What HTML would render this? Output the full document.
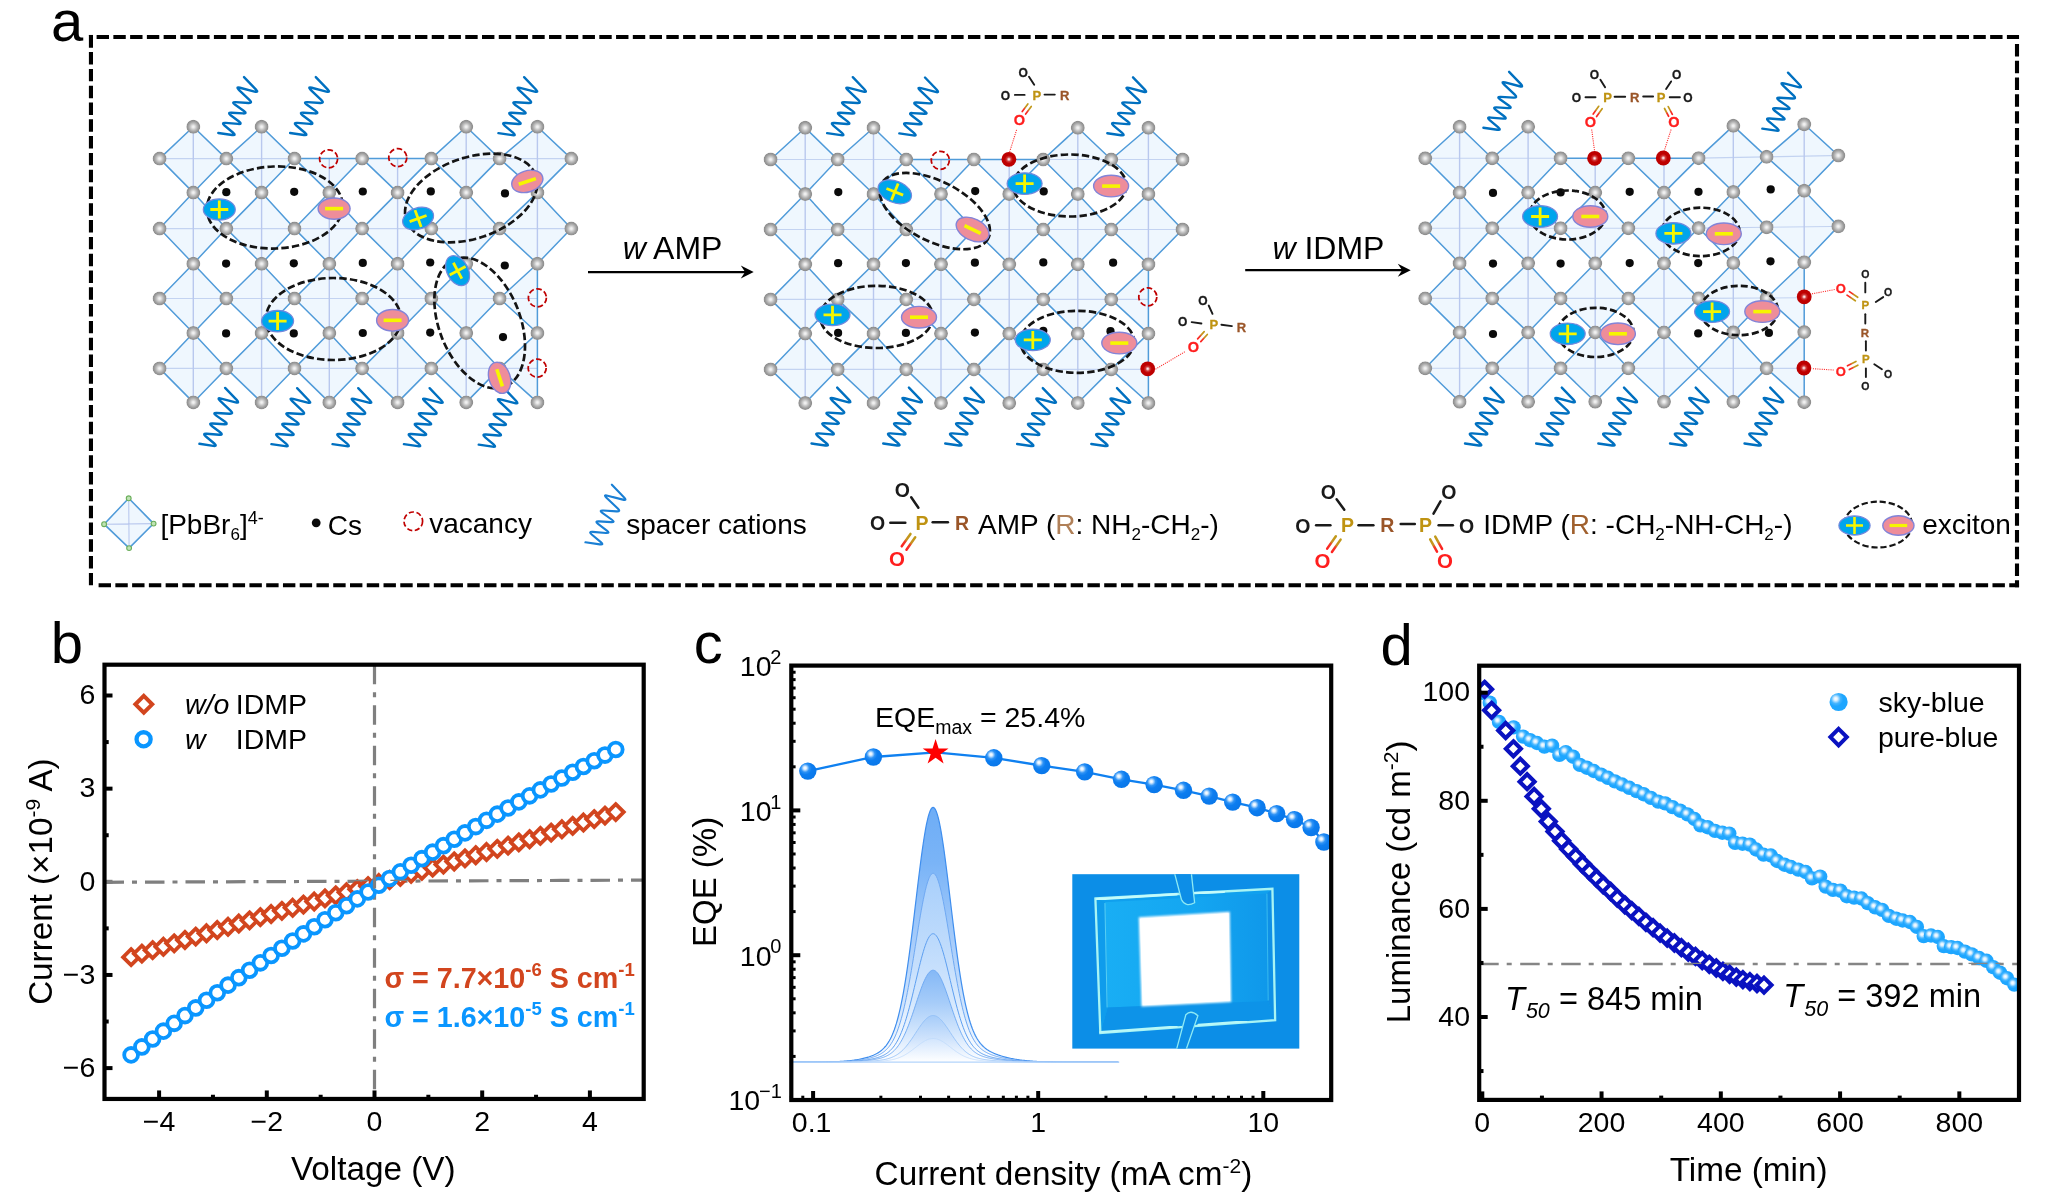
<!DOCTYPE html>
<html><head><meta charset="utf-8"><title>Figure</title>
<style>
html,body{margin:0;padding:0;background:#fff;}
body{width:2048px;height:1202px;overflow:hidden;font-family:"Liberation Sans",sans-serif;}
svg{display:block;}
svg text{font-family:"Liberation Sans",sans-serif;}
</style></head><body>
<svg width="2048" height="1202" viewBox="0 0 2048 1202">
<rect width="2048" height="1202" fill="#fff"/>
<g style="will-change:transform">
<g id="panel_a"><defs>
<radialGradient id="gball" cx="0.5" cy="0.5" r="0.5" fx="0.5" fy="0.5">
<stop offset="0" stop-color="#f3f3f3"/><stop offset="0.15" stop-color="#ececec"/><stop offset="0.45" stop-color="#c2c2c2"/><stop offset="0.75" stop-color="#9d9d9d"/><stop offset="0.92" stop-color="#8e8e8e"/><stop offset="1" stop-color="#989898" stop-opacity="0.5"/></radialGradient>
<radialGradient id="rball" cx="0.5" cy="0.5" r="0.5">
<stop offset="0" stop-color="#ffffff"/><stop offset="0.12" stop-color="#f0c0c0"/><stop offset="0.3" stop-color="#cf3a3a"/><stop offset="0.55" stop-color="#c00000"/><stop offset="1" stop-color="#bb0000"/></radialGradient>
</defs>
<path d="M193.3 126.8L226.3 158.6L193.3 192.6L159.6 158.6ZM193.3 192.6L226.3 228.6L193.3 263.8L159.6 228.6ZM193.3 263.8L226.3 298.5L193.3 333L159.6 298.5ZM193.3 333L226.3 368.4L193.3 402.4L159.6 368.4ZM261.6 126.8L294.5 158.6L261.6 192.6L226.3 158.6ZM261.6 192.6L294.5 228.6L261.6 263.8L226.3 228.6ZM261.6 263.8L294.5 298.5L261.6 333L226.3 298.5ZM261.6 333L294.5 368.4L261.6 402.4L226.3 368.4ZM294.5 158.6L362.1 158.6L329.3 192.6ZM329.3 192.6L362.1 228.6L329.3 263.8L294.5 228.6ZM329.3 263.8L362.1 298.5L329.3 333L294.5 298.5ZM329.3 333L362.1 368.4L329.3 402.4L294.5 368.4ZM362.1 158.6L431.3 158.6L397.6 192.6ZM397.6 192.6L431.3 228.6L397.6 263.8L362.1 228.6ZM397.6 263.8L431.3 298.5L397.6 333L362.1 298.5ZM397.6 333L431.3 368.4L397.6 402.4L362.1 368.4ZM466.2 126.8L499.6 158.6L466.2 192.6L431.3 158.6ZM466.2 192.6L499.6 228.6L466.2 263.8L431.3 228.6ZM466.2 263.8L499.6 298.5L466.2 333L431.3 298.5ZM466.2 333L499.6 368.4L466.2 402.4L431.3 368.4ZM537.4 126.8L571.3 158.6L537.4 192.6L499.6 158.6ZM537.4 192.6L571.3 228.6L537.4 263.8L499.6 228.6ZM537.4 263.8L499.6 298.5L537.4 333ZM537.4 333L499.6 368.4L537.4 402.4Z" fill="#eff7fe"/>
<path d="M159.6 158.6L226.3 158.6M159.6 228.6L226.3 228.6M159.6 298.5L226.3 298.5M159.6 368.4L226.3 368.4M226.3 158.6L294.5 158.6M226.3 228.6L294.5 228.6M226.3 298.5L294.5 298.5M226.3 368.4L294.5 368.4M294.5 228.6L362.1 228.6M294.5 298.5L362.1 298.5M294.5 368.4L362.1 368.4M362.1 228.6L431.3 228.6M362.1 298.5L431.3 298.5M362.1 368.4L431.3 368.4M431.3 158.6L499.6 158.6M431.3 228.6L499.6 228.6M431.3 298.5L499.6 298.5M431.3 368.4L499.6 368.4M499.6 158.6L571.3 158.6M499.6 228.6L571.3 228.6M499.6 298.5L537.4 298.5M499.6 368.4L537.4 368.4" fill="none" stroke="#c3d3f1" stroke-width="1.1"/>
<path d="M193.3 126.8L193.3 192.6M193.3 192.6L193.3 263.8M193.3 263.8L193.3 333M193.3 333L193.3 402.4M261.6 126.8L261.6 192.6M261.6 192.6L261.6 263.8M261.6 263.8L261.6 333M261.6 333L261.6 402.4M329.3 158.6L329.3 192.6M329.3 192.6L329.3 263.8M329.3 263.8L329.3 333M329.3 333L329.3 402.4M397.6 158.6L397.6 192.6M397.6 192.6L397.6 263.8M397.6 263.8L397.6 333M397.6 333L397.6 402.4M466.2 126.8L466.2 192.6M466.2 192.6L466.2 263.8M466.2 263.8L466.2 333M466.2 333L466.2 402.4M537.4 126.8L537.4 192.6M537.4 192.6L537.4 263.8" fill="none" stroke="#b9c8ee" stroke-width="1.4"/>
<path d="M193.3 126.8L226.3 158.6L193.3 192.6L159.6 158.6ZM193.3 192.6L226.3 228.6L193.3 263.8L159.6 228.6ZM193.3 263.8L226.3 298.5L193.3 333L159.6 298.5ZM193.3 333L226.3 368.4L193.3 402.4L159.6 368.4ZM261.6 126.8L294.5 158.6L261.6 192.6L226.3 158.6ZM261.6 192.6L294.5 228.6L261.6 263.8L226.3 228.6ZM261.6 263.8L294.5 298.5L261.6 333L226.3 298.5ZM261.6 333L294.5 368.4L261.6 402.4L226.3 368.4ZM294.5 158.6L329.3 192.6L362.1 158.6M329.3 192.6L362.1 228.6L329.3 263.8L294.5 228.6ZM329.3 263.8L362.1 298.5L329.3 333L294.5 298.5ZM329.3 333L362.1 368.4L329.3 402.4L294.5 368.4ZM362.1 158.6L397.6 192.6L431.3 158.6M397.6 192.6L431.3 228.6L397.6 263.8L362.1 228.6ZM397.6 263.8L431.3 298.5L397.6 333L362.1 298.5ZM397.6 333L431.3 368.4L397.6 402.4L362.1 368.4ZM466.2 126.8L499.6 158.6L466.2 192.6L431.3 158.6ZM466.2 192.6L499.6 228.6L466.2 263.8L431.3 228.6ZM466.2 263.8L499.6 298.5L466.2 333L431.3 298.5ZM466.2 333L499.6 368.4L466.2 402.4L431.3 368.4ZM537.4 126.8L571.3 158.6L537.4 192.6L499.6 158.6ZM537.4 192.6L571.3 228.6L537.4 263.8L499.6 228.6ZM537.4 263.8L499.6 298.5L537.4 333M537.4 333L499.6 368.4L537.4 402.4M294.5 158.6L431.3 158.6M537.4 263.8L537.4 402.4" fill="none" stroke="#509bd9" stroke-width="1.5" stroke-linejoin="round"/>
<path d="M218.3 133L232.15 135.03Q236.7 135.7 233.18 132.74L224.52 125.46Q221 122.5 225.58 122.88L238.12 123.92Q242.7 124.3 239.03 121.52L230.67 115.18Q227 112.4 231.59 112.69L243.11 113.41Q247.7 113.7 243.95 111.03L234.85 104.57Q231.1 101.9 235.69 102.17L248.41 102.93Q253 103.2 249.66 100.03L238.84 89.77Q235.5 86.6 239.95 87.76L254.55 91.54Q259 92.7 255.81 89.38L244 77.1" fill="none" stroke="#0070c0" stroke-width="2.4" stroke-linecap="round" stroke-linejoin="round"/>
<path d="M290.1 133L303.95 135.03Q308.5 135.7 304.98 132.74L296.32 125.46Q292.8 122.5 297.38 122.88L309.92 123.92Q314.5 124.3 310.83 121.52L302.47 115.18Q298.8 112.4 303.39 112.69L314.91 113.41Q319.5 113.7 315.75 111.03L306.65 104.57Q302.9 101.9 307.49 102.17L320.21 102.93Q324.8 103.2 321.46 100.03L310.64 89.77Q307.3 86.6 311.75 87.76L326.35 91.54Q330.8 92.7 327.61 89.38L315.8 77.1" fill="none" stroke="#0070c0" stroke-width="2.4" stroke-linecap="round" stroke-linejoin="round"/>
<path d="M498.4 133.1L512.25 135.13Q516.8 135.8 513.28 132.84L504.62 125.56Q501.1 122.6 505.68 122.98L518.22 124.02Q522.8 124.4 519.13 121.62L510.77 115.28Q507.1 112.5 511.69 112.79L523.21 113.51Q527.8 113.8 524.05 111.13L514.95 104.67Q511.2 102 515.79 102.27L528.51 103.03Q533.1 103.3 529.76 100.13L518.94 89.87Q515.6 86.7 520.05 87.86L534.65 91.64Q539.1 92.8 535.91 89.48L524.1 77.2" fill="none" stroke="#0070c0" stroke-width="2.4" stroke-linecap="round" stroke-linejoin="round"/>
<path d="M199.4 443.8L213.25 445.83Q217.8 446.5 214.28 443.54L205.62 436.26Q202.1 433.3 206.68 433.68L219.22 434.72Q223.8 435.1 220.13 432.32L211.77 425.98Q208.1 423.2 212.69 423.49L224.21 424.21Q228.8 424.5 225.05 421.83L215.95 415.37Q212.2 412.7 216.79 412.97L229.51 413.73Q234.1 414 230.76 410.83L219.94 400.57Q216.6 397.4 221.05 398.56L235.65 402.34Q240.1 403.5 236.91 400.18L225.1 387.9" fill="none" stroke="#0070c0" stroke-width="2.4" stroke-linecap="round" stroke-linejoin="round"/>
<path d="M271.4 444.1L285.25 446.13Q289.8 446.8 286.28 443.84L277.62 436.56Q274.1 433.6 278.68 433.98L291.22 435.02Q295.8 435.4 292.13 432.62L283.77 426.28Q280.1 423.5 284.69 423.79L296.21 424.51Q300.8 424.8 297.05 422.13L287.95 415.67Q284.2 413 288.79 413.27L301.51 414.03Q306.1 414.3 302.76 411.13L291.94 400.87Q288.6 397.7 293.05 398.86L307.65 402.64Q312.1 403.8 308.91 400.48L297.1 388.2" fill="none" stroke="#0070c0" stroke-width="2.4" stroke-linecap="round" stroke-linejoin="round"/>
<path d="M332.5 444.1L346.35 446.13Q350.9 446.8 347.38 443.84L338.72 436.56Q335.2 433.6 339.78 433.98L352.32 435.02Q356.9 435.4 353.23 432.62L344.87 426.28Q341.2 423.5 345.79 423.79L357.31 424.51Q361.9 424.8 358.15 422.13L349.05 415.67Q345.3 413 349.89 413.27L362.61 414.03Q367.2 414.3 363.86 411.13L353.04 400.87Q349.7 397.7 354.15 398.86L368.75 402.64Q373.2 403.8 370.01 400.48L358.2 388.2" fill="none" stroke="#0070c0" stroke-width="2.4" stroke-linecap="round" stroke-linejoin="round"/>
<path d="M403.9 444.1L417.75 446.13Q422.3 446.8 418.78 443.84L410.12 436.56Q406.6 433.6 411.18 433.98L423.72 435.02Q428.3 435.4 424.63 432.62L416.27 426.28Q412.6 423.5 417.19 423.79L428.71 424.51Q433.3 424.8 429.55 422.13L420.45 415.67Q416.7 413 421.29 413.27L434.01 414.03Q438.6 414.3 435.26 411.13L424.44 400.87Q421.1 397.7 425.55 398.86L440.15 402.64Q444.6 403.8 441.41 400.48L429.6 388.2" fill="none" stroke="#0070c0" stroke-width="2.4" stroke-linecap="round" stroke-linejoin="round"/>
<path d="M478.7 444.6L492.55 446.63Q497.1 447.3 493.58 444.34L484.92 437.06Q481.4 434.1 485.98 434.48L498.52 435.52Q503.1 435.9 499.43 433.12L491.07 426.78Q487.4 424 491.99 424.29L503.51 425.01Q508.1 425.3 504.35 422.63L495.25 416.17Q491.5 413.5 496.09 413.77L508.81 414.53Q513.4 414.8 510.06 411.63L499.24 401.37Q495.9 398.2 500.35 399.36L514.95 403.14Q519.4 404.3 516.21 400.98L504.4 388.7" fill="none" stroke="#0070c0" stroke-width="2.4" stroke-linecap="round" stroke-linejoin="round"/>
<circle cx="159.6" cy="158.6" r="7.0" fill="url(#gball)"/>
<circle cx="226.3" cy="158.6" r="7.0" fill="url(#gball)"/>
<circle cx="193.3" cy="126.8" r="7.0" fill="url(#gball)"/>
<circle cx="193.3" cy="192.6" r="7.0" fill="url(#gball)"/>
<circle cx="159.6" cy="228.6" r="7.0" fill="url(#gball)"/>
<circle cx="226.3" cy="228.6" r="7.0" fill="url(#gball)"/>
<circle cx="193.3" cy="263.8" r="7.0" fill="url(#gball)"/>
<circle cx="159.6" cy="298.5" r="7.0" fill="url(#gball)"/>
<circle cx="226.3" cy="298.5" r="7.0" fill="url(#gball)"/>
<circle cx="193.3" cy="333" r="7.0" fill="url(#gball)"/>
<circle cx="159.6" cy="368.4" r="7.0" fill="url(#gball)"/>
<circle cx="226.3" cy="368.4" r="7.0" fill="url(#gball)"/>
<circle cx="193.3" cy="402.4" r="7.0" fill="url(#gball)"/>
<circle cx="294.5" cy="158.6" r="7.0" fill="url(#gball)"/>
<circle cx="261.6" cy="126.8" r="7.0" fill="url(#gball)"/>
<circle cx="261.6" cy="192.6" r="7.0" fill="url(#gball)"/>
<circle cx="294.5" cy="228.6" r="7.0" fill="url(#gball)"/>
<circle cx="261.6" cy="263.8" r="7.0" fill="url(#gball)"/>
<circle cx="294.5" cy="298.5" r="7.0" fill="url(#gball)"/>
<circle cx="261.6" cy="333" r="7.0" fill="url(#gball)"/>
<circle cx="294.5" cy="368.4" r="7.0" fill="url(#gball)"/>
<circle cx="261.6" cy="402.4" r="7.0" fill="url(#gball)"/>
<circle cx="362.1" cy="158.6" r="7.0" fill="url(#gball)"/>
<circle cx="329.3" cy="192.6" r="7.0" fill="url(#gball)"/>
<circle cx="362.1" cy="228.6" r="7.0" fill="url(#gball)"/>
<circle cx="329.3" cy="263.8" r="7.0" fill="url(#gball)"/>
<circle cx="362.1" cy="298.5" r="7.0" fill="url(#gball)"/>
<circle cx="329.3" cy="333" r="7.0" fill="url(#gball)"/>
<circle cx="362.1" cy="368.4" r="7.0" fill="url(#gball)"/>
<circle cx="329.3" cy="402.4" r="7.0" fill="url(#gball)"/>
<circle cx="431.3" cy="158.6" r="7.0" fill="url(#gball)"/>
<circle cx="397.6" cy="192.6" r="7.0" fill="url(#gball)"/>
<circle cx="431.3" cy="228.6" r="7.0" fill="url(#gball)"/>
<circle cx="397.6" cy="263.8" r="7.0" fill="url(#gball)"/>
<circle cx="431.3" cy="298.5" r="7.0" fill="url(#gball)"/>
<circle cx="397.6" cy="333" r="7.0" fill="url(#gball)"/>
<circle cx="431.3" cy="368.4" r="7.0" fill="url(#gball)"/>
<circle cx="397.6" cy="402.4" r="7.0" fill="url(#gball)"/>
<circle cx="499.6" cy="158.6" r="7.0" fill="url(#gball)"/>
<circle cx="466.2" cy="126.8" r="7.0" fill="url(#gball)"/>
<circle cx="466.2" cy="192.6" r="7.0" fill="url(#gball)"/>
<circle cx="499.6" cy="228.6" r="7.0" fill="url(#gball)"/>
<circle cx="466.2" cy="263.8" r="7.0" fill="url(#gball)"/>
<circle cx="499.6" cy="298.5" r="7.0" fill="url(#gball)"/>
<circle cx="466.2" cy="333" r="7.0" fill="url(#gball)"/>
<circle cx="499.6" cy="368.4" r="7.0" fill="url(#gball)"/>
<circle cx="466.2" cy="402.4" r="7.0" fill="url(#gball)"/>
<circle cx="571.3" cy="158.6" r="7.0" fill="url(#gball)"/>
<circle cx="537.4" cy="126.8" r="7.0" fill="url(#gball)"/>
<circle cx="537.4" cy="192.6" r="7.0" fill="url(#gball)"/>
<circle cx="571.3" cy="228.6" r="7.0" fill="url(#gball)"/>
<circle cx="537.4" cy="263.8" r="7.0" fill="url(#gball)"/>
<circle cx="537.4" cy="333" r="7.0" fill="url(#gball)"/>
<circle cx="537.4" cy="402.4" r="7.0" fill="url(#gball)"/>
<circle cx="226.3" cy="192.2" r="4.1" fill="#0a0a0a"/>
<circle cx="294.2" cy="191.8" r="4.1" fill="#0a0a0a"/>
<circle cx="362.8" cy="191.5" r="4.1" fill="#0a0a0a"/>
<circle cx="430.8" cy="191.4" r="4.1" fill="#0a0a0a"/>
<circle cx="505" cy="193.4" r="4.1" fill="#0a0a0a"/>
<circle cx="226.1" cy="263.6" r="4.1" fill="#0a0a0a"/>
<circle cx="293.8" cy="263.3" r="4.1" fill="#0a0a0a"/>
<circle cx="362.8" cy="262.9" r="4.1" fill="#0a0a0a"/>
<circle cx="430.2" cy="262.5" r="4.1" fill="#0a0a0a"/>
<circle cx="504.8" cy="265.5" r="4.1" fill="#0a0a0a"/>
<circle cx="226.1" cy="333.4" r="4.1" fill="#0a0a0a"/>
<circle cx="293.8" cy="333.4" r="4.1" fill="#0a0a0a"/>
<circle cx="362.8" cy="333" r="4.1" fill="#0a0a0a"/>
<circle cx="430.2" cy="332.6" r="4.1" fill="#0a0a0a"/>
<circle cx="503" cy="337.1" r="4.1" fill="#0a0a0a"/>
<circle cx="328.6" cy="158.8" r="9.0" fill="none" stroke="#c00000" stroke-width="1.75" stroke-dasharray="5.6 2.6"/>
<circle cx="397.8" cy="157.6" r="9.0" fill="none" stroke="#c00000" stroke-width="1.75" stroke-dasharray="5.6 2.6"/>
<circle cx="537.4" cy="297.8" r="9.0" fill="none" stroke="#c00000" stroke-width="1.75" stroke-dasharray="5.6 2.6"/>
<circle cx="537.2" cy="368.1" r="9.0" fill="none" stroke="#c00000" stroke-width="1.75" stroke-dasharray="5.6 2.6"/>
<ellipse cx="274.8" cy="207.5" rx="68" ry="41" transform="rotate(-2 274.8 207.5)" fill="none" stroke="#141414" stroke-width="2.7" stroke-dasharray="7.4 3.2"/>
<ellipse cx="471.1" cy="198" rx="68.5" ry="40.5" transform="rotate(-19 471.1 198)" fill="none" stroke="#141414" stroke-width="2.7" stroke-dasharray="7.4 3.2"/>
<ellipse cx="333.4" cy="319" rx="67.5" ry="41" transform="rotate(0 333.4 319)" fill="none" stroke="#141414" stroke-width="2.7" stroke-dasharray="7.4 3.2"/>
<ellipse cx="479.7" cy="323" rx="68.5" ry="40.5" transform="rotate(68.4 479.7 323)" fill="none" stroke="#141414" stroke-width="2.7" stroke-dasharray="7.4 3.2"/>
<g transform="translate(219.3 209.5) rotate(0)"><ellipse rx="16" ry="10.6" fill="#00a5ec" stroke="#7488dc" stroke-width="1.2"/><path d="M-9 0H9M0 -9V9" stroke="#f6f600" stroke-width="2.8"/></g>
<g transform="translate(334.1 208.6) rotate(0)"><ellipse rx="16" ry="10.6" fill="#ee8d9a" stroke="#8384d8" stroke-width="1.4"/><path d="M-9 0H9" stroke="#f6f600" stroke-width="3.6"/></g>
<g transform="translate(418.1 218.6) rotate(-20)"><ellipse rx="16" ry="10.6" fill="#00a5ec" stroke="#7488dc" stroke-width="1.2"/><path d="M-9 0H9M0 -9V9" stroke="#f6f600" stroke-width="2.8"/></g>
<g transform="translate(527.3 181.4) rotate(-18)"><ellipse rx="16" ry="10.6" fill="#ee8d9a" stroke="#8384d8" stroke-width="1.4"/><path d="M-9 0H9" stroke="#f6f600" stroke-width="3.6"/></g>
<g transform="translate(277.6 321.1) rotate(0)"><ellipse rx="16" ry="10.8" fill="#00a5ec" stroke="#7488dc" stroke-width="1.2"/><path d="M-9 0H9M0 -9V9" stroke="#f6f600" stroke-width="2.8"/></g>
<g transform="translate(392.6 320.3) rotate(0)"><ellipse rx="16" ry="10.8" fill="#ee8d9a" stroke="#8384d8" stroke-width="1.4"/><path d="M-9 0H9" stroke="#f6f600" stroke-width="3.6"/></g>
<g transform="translate(457.6 270.7) rotate(62)"><ellipse rx="16" ry="10.6" fill="#00a5ec" stroke="#7488dc" stroke-width="1.2"/><path d="M-9 0H9M0 -9V9" stroke="#f6f600" stroke-width="2.8"/></g>
<g transform="translate(499.6 377.8) rotate(72)"><ellipse rx="16" ry="10.6" fill="#ee8d9a" stroke="#8384d8" stroke-width="1.4"/><path d="M-9 0H9" stroke="#f6f600" stroke-width="3.6"/></g>
<path d="M805.2 127.8L837.7 159.5L805.2 194L770.6 159.5ZM805.2 194L837.7 229.5L805.2 264.3L770.6 229.5ZM805.2 264.3L837.7 299.4L805.2 333.6L770.6 299.4ZM805.2 333.6L837.7 369.4L805.2 403L770.6 369.4ZM873.5 127.8L906.2 159.5L873.5 194L837.7 159.5ZM873.5 194L906.2 229.5L873.5 264.3L837.7 229.5ZM873.5 264.3L906.2 299.4L873.5 333.6L837.7 299.4ZM873.5 333.6L906.2 369.4L873.5 403L837.7 369.4ZM906.2 159.5L973.9 159.5L941 194ZM941 194L973.9 229.5L941 264.3L906.2 229.5ZM941 264.3L973.9 299.4L941 333.6L906.2 299.4ZM941 333.6L973.9 369.4L941 403L906.2 369.4ZM973.9 159.5L1043.2 159.5L1009.2 194ZM1009.2 194L1043.2 229.5L1009.2 264.3L973.9 229.5ZM1009.2 264.3L1043.2 299.4L1009.2 333.6L973.9 299.4ZM1009.2 333.6L1043.2 369.4L1009.2 403L973.9 369.4ZM1077.8 127.8L1111.2 159.5L1077.8 194L1043.2 159.5ZM1077.8 194L1111.2 229.5L1077.8 264.3L1043.2 229.5ZM1077.8 264.3L1111.2 299.4L1077.8 333.6L1043.2 299.4ZM1077.8 333.6L1111.2 369.4L1077.8 403L1043.2 369.4ZM1148.4 127.8L1182.5 159.5L1148.4 194L1111.2 159.5ZM1148.4 194L1182.5 229.5L1148.4 264.3L1111.2 229.5ZM1148.4 264.3L1111.2 299.4L1148.4 333.6ZM1148.4 333.6L1111.2 369.4L1148.4 403Z" fill="#eff7fe"/>
<path d="M770.6 159.5L837.7 159.5M770.6 229.5L837.7 229.5M770.6 299.4L837.7 299.4M770.6 369.4L837.7 369.4M837.7 159.5L906.2 159.5M837.7 229.5L906.2 229.5M837.7 299.4L906.2 299.4M837.7 369.4L906.2 369.4M906.2 229.5L973.9 229.5M906.2 299.4L973.9 299.4M906.2 369.4L973.9 369.4M973.9 229.5L1043.2 229.5M973.9 299.4L1043.2 299.4M973.9 369.4L1043.2 369.4M1043.2 159.5L1111.2 159.5M1043.2 229.5L1111.2 229.5M1043.2 299.4L1111.2 299.4M1043.2 369.4L1111.2 369.4M1111.2 159.5L1182.5 159.5M1111.2 229.5L1182.5 229.5M1111.2 299.4L1148.4 299.4M1111.2 369.4L1148.4 369.4" fill="none" stroke="#c3d3f1" stroke-width="1.1"/>
<path d="M805.2 127.8L805.2 194M805.2 194L805.2 264.3M805.2 264.3L805.2 333.6M805.2 333.6L805.2 403M873.5 127.8L873.5 194M873.5 194L873.5 264.3M873.5 264.3L873.5 333.6M873.5 333.6L873.5 403M941 159.5L941 194M941 194L941 264.3M941 264.3L941 333.6M941 333.6L941 403M1009.2 159.5L1009.2 194M1009.2 194L1009.2 264.3M1009.2 264.3L1009.2 333.6M1009.2 333.6L1009.2 403M1077.8 127.8L1077.8 194M1077.8 194L1077.8 264.3M1077.8 264.3L1077.8 333.6M1077.8 333.6L1077.8 403M1148.4 127.8L1148.4 194M1148.4 194L1148.4 264.3" fill="none" stroke="#b9c8ee" stroke-width="1.4"/>
<path d="M805.2 127.8L837.7 159.5L805.2 194L770.6 159.5ZM805.2 194L837.7 229.5L805.2 264.3L770.6 229.5ZM805.2 264.3L837.7 299.4L805.2 333.6L770.6 299.4ZM805.2 333.6L837.7 369.4L805.2 403L770.6 369.4ZM873.5 127.8L906.2 159.5L873.5 194L837.7 159.5ZM873.5 194L906.2 229.5L873.5 264.3L837.7 229.5ZM873.5 264.3L906.2 299.4L873.5 333.6L837.7 299.4ZM873.5 333.6L906.2 369.4L873.5 403L837.7 369.4ZM906.2 159.5L941 194L973.9 159.5M941 194L973.9 229.5L941 264.3L906.2 229.5ZM941 264.3L973.9 299.4L941 333.6L906.2 299.4ZM941 333.6L973.9 369.4L941 403L906.2 369.4ZM973.9 159.5L1009.2 194L1043.2 159.5M1009.2 194L1043.2 229.5L1009.2 264.3L973.9 229.5ZM1009.2 264.3L1043.2 299.4L1009.2 333.6L973.9 299.4ZM1009.2 333.6L1043.2 369.4L1009.2 403L973.9 369.4ZM1077.8 127.8L1111.2 159.5L1077.8 194L1043.2 159.5ZM1077.8 194L1111.2 229.5L1077.8 264.3L1043.2 229.5ZM1077.8 264.3L1111.2 299.4L1077.8 333.6L1043.2 299.4ZM1077.8 333.6L1111.2 369.4L1077.8 403L1043.2 369.4ZM1148.4 127.8L1182.5 159.5L1148.4 194L1111.2 159.5ZM1148.4 194L1182.5 229.5L1148.4 264.3L1111.2 229.5ZM1148.4 264.3L1111.2 299.4L1148.4 333.6M1148.4 333.6L1111.2 369.4L1148.4 403M906.2 159.5L1043.2 159.5M1148.4 264.3L1148.4 403" fill="none" stroke="#509bd9" stroke-width="1.5" stroke-linejoin="round"/>
<path d="M827.1 133.1L840.95 135.13Q845.5 135.8 841.98 132.84L833.32 125.56Q829.8 122.6 834.38 122.98L846.92 124.02Q851.5 124.4 847.83 121.62L839.47 115.28Q835.8 112.5 840.39 112.79L851.91 113.51Q856.5 113.8 852.75 111.13L843.65 104.67Q839.9 102 844.49 102.27L857.21 103.03Q861.8 103.3 858.46 100.13L847.64 89.87Q844.3 86.7 848.75 87.86L863.35 91.64Q867.8 92.8 864.61 89.48L852.8 77.2" fill="none" stroke="#0070c0" stroke-width="2.4" stroke-linecap="round" stroke-linejoin="round"/>
<path d="M899.3 133.4L913.15 135.43Q917.7 136.1 914.18 133.14L905.52 125.86Q902 122.9 906.58 123.28L919.12 124.32Q923.7 124.7 920.03 121.92L911.67 115.58Q908 112.8 912.59 113.09L924.11 113.81Q928.7 114.1 924.95 111.43L915.85 104.97Q912.1 102.3 916.69 102.57L929.41 103.33Q934 103.6 930.66 100.43L919.84 90.17Q916.5 87 920.95 88.16L935.55 91.94Q940 93.1 936.81 89.78L925 77.5" fill="none" stroke="#0070c0" stroke-width="2.4" stroke-linecap="round" stroke-linejoin="round"/>
<path d="M1107.3 133.2L1121.15 135.23Q1125.7 135.9 1122.18 132.94L1113.52 125.66Q1110 122.7 1114.58 123.08L1127.12 124.12Q1131.7 124.5 1128.03 121.72L1119.67 115.38Q1116 112.6 1120.59 112.89L1132.11 113.61Q1136.7 113.9 1132.95 111.23L1123.85 104.77Q1120.1 102.1 1124.69 102.37L1137.41 103.13Q1142 103.4 1138.66 100.23L1127.84 89.97Q1124.5 86.8 1128.95 87.96L1143.55 91.74Q1148 92.9 1144.81 89.58L1133 77.3" fill="none" stroke="#0070c0" stroke-width="2.4" stroke-linecap="round" stroke-linejoin="round"/>
<path d="M811.5 443.5L825.35 445.53Q829.9 446.2 826.38 443.24L817.72 435.96Q814.2 433 818.78 433.38L831.32 434.42Q835.9 434.8 832.23 432.02L823.87 425.68Q820.2 422.9 824.79 423.19L836.31 423.91Q840.9 424.2 837.15 421.53L828.05 415.07Q824.3 412.4 828.89 412.67L841.61 413.43Q846.2 413.7 842.86 410.53L832.04 400.27Q828.7 397.1 833.15 398.26L847.75 402.04Q852.2 403.2 849.01 399.88L837.2 387.6" fill="none" stroke="#0070c0" stroke-width="2.4" stroke-linecap="round" stroke-linejoin="round"/>
<path d="M883.2 443.5L897.05 445.53Q901.6 446.2 898.08 443.24L889.42 435.96Q885.9 433 890.48 433.38L903.02 434.42Q907.6 434.8 903.93 432.02L895.57 425.68Q891.9 422.9 896.49 423.19L908.01 423.91Q912.6 424.2 908.85 421.53L899.75 415.07Q896 412.4 900.59 412.67L913.31 413.43Q917.9 413.7 914.56 410.53L903.74 400.27Q900.4 397.1 904.85 398.26L919.45 402.04Q923.9 403.2 920.71 399.88L908.9 387.6" fill="none" stroke="#0070c0" stroke-width="2.4" stroke-linecap="round" stroke-linejoin="round"/>
<path d="M945.2 443.5L959.05 445.53Q963.6 446.2 960.08 443.24L951.42 435.96Q947.9 433 952.48 433.38L965.02 434.42Q969.6 434.8 965.93 432.02L957.57 425.68Q953.9 422.9 958.49 423.19L970.01 423.91Q974.6 424.2 970.85 421.53L961.75 415.07Q958 412.4 962.59 412.67L975.31 413.43Q979.9 413.7 976.56 410.53L965.74 400.27Q962.4 397.1 966.85 398.26L981.45 402.04Q985.9 403.2 982.71 399.88L970.9 387.6" fill="none" stroke="#0070c0" stroke-width="2.4" stroke-linecap="round" stroke-linejoin="round"/>
<path d="M1017.1 444L1030.95 446.03Q1035.5 446.7 1031.98 443.74L1023.32 436.46Q1019.8 433.5 1024.38 433.88L1036.92 434.92Q1041.5 435.3 1037.83 432.52L1029.47 426.18Q1025.8 423.4 1030.39 423.69L1041.91 424.41Q1046.5 424.7 1042.75 422.03L1033.65 415.57Q1029.9 412.9 1034.49 413.17L1047.21 413.93Q1051.8 414.2 1048.46 411.03L1037.64 400.77Q1034.3 397.6 1038.75 398.76L1053.35 402.54Q1057.8 403.7 1054.61 400.38L1042.8 388.1" fill="none" stroke="#0070c0" stroke-width="2.4" stroke-linecap="round" stroke-linejoin="round"/>
<path d="M1091.3 444L1105.15 446.03Q1109.7 446.7 1106.18 443.74L1097.52 436.46Q1094 433.5 1098.58 433.88L1111.12 434.92Q1115.7 435.3 1112.03 432.52L1103.67 426.18Q1100 423.4 1104.59 423.69L1116.11 424.41Q1120.7 424.7 1116.95 422.03L1107.85 415.57Q1104.1 412.9 1108.69 413.17L1121.41 413.93Q1126 414.2 1122.66 411.03L1111.84 400.77Q1108.5 397.6 1112.95 398.76L1127.55 402.54Q1132 403.7 1128.81 400.38L1117 388.1" fill="none" stroke="#0070c0" stroke-width="2.4" stroke-linecap="round" stroke-linejoin="round"/>
<circle cx="770.6" cy="159.5" r="7.0" fill="url(#gball)"/>
<circle cx="837.7" cy="159.5" r="7.0" fill="url(#gball)"/>
<circle cx="805.2" cy="127.8" r="7.0" fill="url(#gball)"/>
<circle cx="805.2" cy="194" r="7.0" fill="url(#gball)"/>
<circle cx="770.6" cy="229.5" r="7.0" fill="url(#gball)"/>
<circle cx="837.7" cy="229.5" r="7.0" fill="url(#gball)"/>
<circle cx="805.2" cy="264.3" r="7.0" fill="url(#gball)"/>
<circle cx="770.6" cy="299.4" r="7.0" fill="url(#gball)"/>
<circle cx="837.7" cy="299.4" r="7.0" fill="url(#gball)"/>
<circle cx="805.2" cy="333.6" r="7.0" fill="url(#gball)"/>
<circle cx="770.6" cy="369.4" r="7.0" fill="url(#gball)"/>
<circle cx="837.7" cy="369.4" r="7.0" fill="url(#gball)"/>
<circle cx="805.2" cy="403" r="7.0" fill="url(#gball)"/>
<circle cx="906.2" cy="159.5" r="7.0" fill="url(#gball)"/>
<circle cx="873.5" cy="127.8" r="7.0" fill="url(#gball)"/>
<circle cx="873.5" cy="194" r="7.0" fill="url(#gball)"/>
<circle cx="906.2" cy="229.5" r="7.0" fill="url(#gball)"/>
<circle cx="873.5" cy="264.3" r="7.0" fill="url(#gball)"/>
<circle cx="906.2" cy="299.4" r="7.0" fill="url(#gball)"/>
<circle cx="873.5" cy="333.6" r="7.0" fill="url(#gball)"/>
<circle cx="906.2" cy="369.4" r="7.0" fill="url(#gball)"/>
<circle cx="873.5" cy="403" r="7.0" fill="url(#gball)"/>
<circle cx="973.9" cy="159.5" r="7.0" fill="url(#gball)"/>
<circle cx="941" cy="194" r="7.0" fill="url(#gball)"/>
<circle cx="973.9" cy="229.5" r="7.0" fill="url(#gball)"/>
<circle cx="941" cy="264.3" r="7.0" fill="url(#gball)"/>
<circle cx="973.9" cy="299.4" r="7.0" fill="url(#gball)"/>
<circle cx="941" cy="333.6" r="7.0" fill="url(#gball)"/>
<circle cx="973.9" cy="369.4" r="7.0" fill="url(#gball)"/>
<circle cx="941" cy="403" r="7.0" fill="url(#gball)"/>
<circle cx="1043.2" cy="159.5" r="7.0" fill="url(#gball)"/>
<circle cx="1009.2" cy="194" r="7.0" fill="url(#gball)"/>
<circle cx="1043.2" cy="229.5" r="7.0" fill="url(#gball)"/>
<circle cx="1009.2" cy="264.3" r="7.0" fill="url(#gball)"/>
<circle cx="1043.2" cy="299.4" r="7.0" fill="url(#gball)"/>
<circle cx="1009.2" cy="333.6" r="7.0" fill="url(#gball)"/>
<circle cx="1043.2" cy="369.4" r="7.0" fill="url(#gball)"/>
<circle cx="1009.2" cy="403" r="7.0" fill="url(#gball)"/>
<circle cx="1111.2" cy="159.5" r="7.0" fill="url(#gball)"/>
<circle cx="1077.8" cy="127.8" r="7.0" fill="url(#gball)"/>
<circle cx="1077.8" cy="194" r="7.0" fill="url(#gball)"/>
<circle cx="1111.2" cy="229.5" r="7.0" fill="url(#gball)"/>
<circle cx="1077.8" cy="264.3" r="7.0" fill="url(#gball)"/>
<circle cx="1111.2" cy="299.4" r="7.0" fill="url(#gball)"/>
<circle cx="1077.8" cy="333.6" r="7.0" fill="url(#gball)"/>
<circle cx="1111.2" cy="369.4" r="7.0" fill="url(#gball)"/>
<circle cx="1077.8" cy="403" r="7.0" fill="url(#gball)"/>
<circle cx="1182.5" cy="159.5" r="7.0" fill="url(#gball)"/>
<circle cx="1148.4" cy="127.8" r="7.0" fill="url(#gball)"/>
<circle cx="1148.4" cy="194" r="7.0" fill="url(#gball)"/>
<circle cx="1182.5" cy="229.5" r="7.0" fill="url(#gball)"/>
<circle cx="1148.4" cy="264.3" r="7.0" fill="url(#gball)"/>
<circle cx="1148.4" cy="333.6" r="7.0" fill="url(#gball)"/>
<circle cx="1148.4" cy="403" r="7.0" fill="url(#gball)"/>
<circle cx="838.3" cy="192.1" r="4.1" fill="#0a0a0a"/>
<circle cx="906.5" cy="192" r="4.1" fill="#0a0a0a"/>
<circle cx="975.2" cy="191.1" r="4.1" fill="#0a0a0a"/>
<circle cx="1043.7" cy="191.4" r="4.1" fill="#0a0a0a"/>
<circle cx="838.1" cy="263.2" r="4.1" fill="#0a0a0a"/>
<circle cx="905.9" cy="263.1" r="4.1" fill="#0a0a0a"/>
<circle cx="974.9" cy="262.7" r="4.1" fill="#0a0a0a"/>
<circle cx="1043.3" cy="262.4" r="4.1" fill="#0a0a0a"/>
<circle cx="1113.1" cy="262.7" r="4.1" fill="#0a0a0a"/>
<circle cx="838.1" cy="332.9" r="4.1" fill="#0a0a0a"/>
<circle cx="905.9" cy="332.9" r="4.1" fill="#0a0a0a"/>
<circle cx="974.9" cy="332.6" r="4.1" fill="#0a0a0a"/>
<circle cx="1043.3" cy="330.8" r="4.1" fill="#0a0a0a"/>
<circle cx="1110.5" cy="331.2" r="4.1" fill="#0a0a0a"/>
<circle cx="940.3" cy="160.3" r="9.0" fill="none" stroke="#c00000" stroke-width="1.75" stroke-dasharray="5.6 2.6"/>
<circle cx="1147.8" cy="296.9" r="9.0" fill="none" stroke="#c00000" stroke-width="1.75" stroke-dasharray="5.6 2.6"/>
<line x1="1016.6" y1="129.9" x2="1009.6" y2="152" stroke="#ff3030" stroke-width="1.1" stroke-dasharray="1.1 1.1"/>
<line x1="1184.8" y1="351.8" x2="1155.5" y2="369.2" stroke="#ff3030" stroke-width="1.1" stroke-dasharray="1.1 1.1"/>
<circle cx="1008.9" cy="159.3" r="7.4" fill="url(#rball)"/>
<circle cx="1147.7" cy="368.8" r="7.4" fill="url(#rball)"/>
<ellipse cx="934.8" cy="211.1" rx="60" ry="30" transform="rotate(27 934.8 211.1)" fill="none" stroke="#141414" stroke-width="2.7" stroke-dasharray="7.4 3.2"/>
<ellipse cx="1069.8" cy="185.5" rx="56.6" ry="31" transform="rotate(0 1069.8 185.5)" fill="none" stroke="#141414" stroke-width="2.7" stroke-dasharray="7.4 3.2"/>
<ellipse cx="876.6" cy="316.9" rx="56.4" ry="31.1" transform="rotate(0 876.6 316.9)" fill="none" stroke="#141414" stroke-width="2.7" stroke-dasharray="7.4 3.2"/>
<ellipse cx="1077.3" cy="341.8" rx="56.8" ry="31" transform="rotate(0 1077.3 341.8)" fill="none" stroke="#141414" stroke-width="2.7" stroke-dasharray="7.4 3.2"/>
<g transform="translate(894.8 191.8) rotate(22)"><ellipse rx="17.5" ry="10.8" fill="#00a5ec" stroke="#7488dc" stroke-width="1.2"/><path d="M-9 0H9M0 -9V9" stroke="#f6f600" stroke-width="2.8"/></g>
<g transform="translate(972.6 229.5) rotate(26)"><ellipse rx="17.5" ry="10.8" fill="#ee8d9a" stroke="#8384d8" stroke-width="1.4"/><path d="M-9 0H9" stroke="#f6f600" stroke-width="3.6"/></g>
<g transform="translate(1024.6 183.6) rotate(0)"><ellipse rx="17.5" ry="10.8" fill="#00a5ec" stroke="#7488dc" stroke-width="1.2"/><path d="M-9 0H9M0 -9V9" stroke="#f6f600" stroke-width="2.8"/></g>
<g transform="translate(1111.1 186.1) rotate(0)"><ellipse rx="17.5" ry="10.8" fill="#ee8d9a" stroke="#8384d8" stroke-width="1.4"/><path d="M-9 0H9" stroke="#f6f600" stroke-width="3.6"/></g>
<g transform="translate(832.5 314.8) rotate(0)"><ellipse rx="17.5" ry="10.8" fill="#00a5ec" stroke="#7488dc" stroke-width="1.2"/><path d="M-9 0H9M0 -9V9" stroke="#f6f600" stroke-width="2.8"/></g>
<g transform="translate(919 317.2) rotate(0)"><ellipse rx="17.5" ry="10.8" fill="#ee8d9a" stroke="#8384d8" stroke-width="1.4"/><path d="M-9 0H9" stroke="#f6f600" stroke-width="3.6"/></g>
<g transform="translate(1032.8 339.9) rotate(0)"><ellipse rx="17.5" ry="10.8" fill="#00a5ec" stroke="#7488dc" stroke-width="1.2"/><path d="M-9 0H9M0 -9V9" stroke="#f6f600" stroke-width="2.8"/></g>
<g transform="translate(1119.3 343.1) rotate(0)"><ellipse rx="17.5" ry="10.8" fill="#ee8d9a" stroke="#8384d8" stroke-width="1.4"/><path d="M-9 0H9" stroke="#f6f600" stroke-width="3.6"/></g>
<text x="1023.2" y="76.82" font-size="12" font-weight="bold" text-anchor="middle" fill="#1a1a1a" stroke="#1a1a1a" stroke-width="0.3">O</text>
<line x1="1029" y1="76.8" x2="1034.2" y2="84.8" stroke="#1a1a1a" stroke-width="1.9" stroke-linecap="round"/>
<text x="1005.3" y="99.62" font-size="12" font-weight="bold" text-anchor="middle" fill="#1a1a1a" stroke="#1a1a1a" stroke-width="0.3">O</text>
<line x1="1014.9" y1="94.9" x2="1024.6" y2="94.9" stroke="#1a1a1a" stroke-width="1.9" stroke-linecap="round"/>
<text x="1036.9" y="99.78" font-size="13" font-weight="bold" text-anchor="middle" fill="#bf9312" stroke="#bf9312" stroke-width="0.3">P</text>
<line x1="1044.5" y1="94.6" x2="1054.8" y2="94.6" stroke="#1a1a1a" stroke-width="1.9" stroke-linecap="round"/>
<text x="1064.8" y="99.98" font-size="13" font-weight="bold" text-anchor="middle" fill="#9a5528" stroke="#9a5528" stroke-width="0.3">R</text>
<linearGradient id="dbg1" gradientUnits="userSpaceOnUse" x1="1029.55" y1="105.18" x2="1023.95" y2="112.86"><stop offset="0" stop-color="#c09a18"/><stop offset="0.45" stop-color="#c89220"/><stop offset="0.62" stop-color="#f03a28"/><stop offset="1" stop-color="#ff2020"/></linearGradient><line x1="1027.85" y1="103.94" x2="1022.25" y2="111.62" stroke="url(#dbg1)" stroke-width="1.7" stroke-linecap="round"/><line x1="1031.25" y1="106.42" x2="1025.65" y2="114.1" stroke="url(#dbg1)" stroke-width="1.7" stroke-linecap="round"/>
<text x="1019.4" y="124.52" font-size="14.5" font-weight="bold" text-anchor="middle" fill="#ff1e1e" stroke="#ff1e1e" stroke-width="0.3">O</text>
<text x="1202.8" y="304.62" font-size="12" font-weight="bold" text-anchor="middle" fill="#1a1a1a" stroke="#1a1a1a" stroke-width="0.3">O</text>
<line x1="1208.7" y1="305.5" x2="1212.5" y2="313.8" stroke="#1a1a1a" stroke-width="1.9" stroke-linecap="round"/>
<text x="1182.7" y="325.52" font-size="12" font-weight="bold" text-anchor="middle" fill="#1a1a1a" stroke="#1a1a1a" stroke-width="0.3">O</text>
<line x1="1191.7" y1="322.1" x2="1201.4" y2="323.5" stroke="#1a1a1a" stroke-width="1.9" stroke-linecap="round"/>
<text x="1213.9" y="328.68" font-size="13" font-weight="bold" text-anchor="middle" fill="#bf9312" stroke="#bf9312" stroke-width="0.3">P</text>
<line x1="1221.4" y1="324.7" x2="1231.9" y2="326.1" stroke="#1a1a1a" stroke-width="1.9" stroke-linecap="round"/>
<text x="1241.5" y="331.98" font-size="13" font-weight="bold" text-anchor="middle" fill="#9a5528" stroke="#9a5528" stroke-width="0.3">R</text>
<linearGradient id="dbg2" gradientUnits="userSpaceOnUse" x1="1205.74" y1="333.04" x2="1199.21" y2="340.27"><stop offset="0" stop-color="#c09a18"/><stop offset="0.45" stop-color="#c89220"/><stop offset="0.62" stop-color="#f03a28"/><stop offset="1" stop-color="#ff2020"/></linearGradient><line x1="1204.18" y1="331.63" x2="1197.65" y2="338.86" stroke="url(#dbg2)" stroke-width="1.7" stroke-linecap="round"/><line x1="1207.3" y1="334.45" x2="1200.77" y2="341.68" stroke="url(#dbg2)" stroke-width="1.7" stroke-linecap="round"/>
<text x="1193.5" y="352.02" font-size="14.5" font-weight="bold" text-anchor="middle" fill="#ff1e1e" stroke="#ff1e1e" stroke-width="0.3">O</text>
<path d="M1459.6 126.8L1492.2 158.3L1459.6 192.6L1425.2 158.3ZM1459.6 192.6L1492.2 228.2L1459.6 263.3L1425.2 228.2ZM1459.6 263.3L1492.2 298.4L1459.6 332.4L1425.2 298.4ZM1459.6 332.4L1492.2 368.3L1459.6 401.7L1425.2 368.3ZM1528.1 126.8L1560.6 158.3L1528.1 192.6L1492.2 158.3ZM1528.1 192.6L1560.6 228.2L1528.1 263.3L1492.2 228.2ZM1528.1 263.3L1560.6 298.4L1528.1 332.4L1492.2 298.4ZM1528.1 332.4L1560.6 368.3L1528.1 401.7L1492.2 368.3ZM1560.6 158.3L1628.3 158.3L1595.2 192.6ZM1595.2 192.6L1628.3 228.2L1595.2 263.3L1560.6 228.2ZM1595.2 263.3L1628.3 298.4L1595.2 332.4L1560.6 298.4ZM1595.2 332.4L1628.3 368.3L1595.2 401.7L1560.6 368.3ZM1628.3 158.3L1698.6 158.14L1664 192.6ZM1664 192.6L1698.6 228.09L1664 263.3L1628.3 228.2ZM1664 263.3L1698.6 298.35L1664 332.4L1628.3 298.4ZM1664 332.4L1698.6 368.31L1664 401.7L1628.3 368.3ZM1733.3 125.85L1766.6 156.85L1733.3 191.92L1698.6 158.14ZM1733.3 191.92L1766.6 227.25L1733.3 262.91L1698.6 228.09ZM1733.3 262.91L1766.6 297.96L1733.3 332.29L1698.6 298.35ZM1733.3 332.29L1766.6 368.36L1733.3 401.87L1698.6 368.31ZM1804.2 124.31L1838.3 155.5L1804.2 190.81L1766.6 156.85ZM1804.2 190.81L1838.3 226.37L1804.2 262.27L1766.6 227.25ZM1804.2 262.27L1766.6 297.96L1804.2 332.1ZM1804.2 332.1L1766.6 368.36L1804.2 402.15Z" fill="#eff7fe"/>
<path d="M1425.2 158.3L1492.2 158.3M1425.2 228.2L1492.2 228.2M1425.2 298.4L1492.2 298.4M1425.2 368.3L1492.2 368.3M1492.2 158.3L1560.6 158.3M1492.2 228.2L1560.6 228.2M1492.2 298.4L1560.6 298.4M1492.2 368.3L1560.6 368.3M1560.6 228.2L1628.3 228.2M1560.6 298.4L1628.3 298.4M1560.6 368.3L1628.3 368.3M1628.3 228.2L1698.6 228.09M1628.3 298.4L1698.6 298.35M1628.3 368.3L1698.6 368.31M1698.6 158.14L1766.6 156.85M1698.6 228.09L1766.6 227.25M1698.6 298.35L1766.6 297.96M1698.6 368.31L1766.6 368.36M1766.6 156.85L1838.3 155.5M1766.6 227.25L1838.3 226.37M1766.6 297.96L1804.2 297.74M1766.6 368.36L1804.2 368.39" fill="none" stroke="#c3d3f1" stroke-width="1.1"/>
<path d="M1459.6 126.8L1459.6 192.6M1459.6 192.6L1459.6 263.3M1459.6 263.3L1459.6 332.4M1459.6 332.4L1459.6 401.7M1528.1 126.8L1528.1 192.6M1528.1 192.6L1528.1 263.3M1528.1 263.3L1528.1 332.4M1528.1 332.4L1528.1 401.7M1595.2 158.3L1595.2 192.6M1595.2 192.6L1595.2 263.3M1595.2 263.3L1595.2 332.4M1595.2 332.4L1595.2 401.7M1664 158.3L1664 192.6M1664 192.6L1664 263.3M1664 263.3L1664 332.4M1664 332.4L1664 401.7M1733.3 125.85L1733.3 191.92M1733.3 191.92L1733.3 262.91M1733.3 262.91L1733.3 332.29M1733.3 332.29L1733.3 401.87M1804.2 124.31L1804.2 190.81M1804.2 190.81L1804.2 262.27" fill="none" stroke="#b9c8ee" stroke-width="1.4"/>
<path d="M1459.6 126.8L1492.2 158.3L1459.6 192.6L1425.2 158.3ZM1459.6 192.6L1492.2 228.2L1459.6 263.3L1425.2 228.2ZM1459.6 263.3L1492.2 298.4L1459.6 332.4L1425.2 298.4ZM1459.6 332.4L1492.2 368.3L1459.6 401.7L1425.2 368.3ZM1528.1 126.8L1560.6 158.3L1528.1 192.6L1492.2 158.3ZM1528.1 192.6L1560.6 228.2L1528.1 263.3L1492.2 228.2ZM1528.1 263.3L1560.6 298.4L1528.1 332.4L1492.2 298.4ZM1528.1 332.4L1560.6 368.3L1528.1 401.7L1492.2 368.3ZM1560.6 158.3L1595.2 192.6L1628.3 158.3M1595.2 192.6L1628.3 228.2L1595.2 263.3L1560.6 228.2ZM1595.2 263.3L1628.3 298.4L1595.2 332.4L1560.6 298.4ZM1595.2 332.4L1628.3 368.3L1595.2 401.7L1560.6 368.3ZM1628.3 158.3L1664 192.6L1698.6 158.14M1664 192.6L1698.6 228.09L1664 263.3L1628.3 228.2ZM1664 263.3L1698.6 298.35L1664 332.4L1628.3 298.4ZM1664 332.4L1698.6 368.31L1664 401.7L1628.3 368.3ZM1733.3 125.85L1766.6 156.85L1733.3 191.92L1698.6 158.14ZM1733.3 191.92L1766.6 227.25L1733.3 262.91L1698.6 228.09ZM1733.3 262.91L1766.6 297.96L1733.3 332.29L1698.6 298.35ZM1733.3 332.29L1766.6 368.36L1733.3 401.87L1698.6 368.31ZM1804.2 124.31L1838.3 155.5L1804.2 190.81L1766.6 156.85ZM1804.2 190.81L1838.3 226.37L1804.2 262.27L1766.6 227.25ZM1804.2 262.27L1766.6 297.96L1804.2 332.1M1804.2 332.1L1766.6 368.36L1804.2 402.15M1560.6 158.3L1698.6 158.14M1804.2 262.27L1804.2 402.15" fill="none" stroke="#509bd9" stroke-width="1.5" stroke-linejoin="round"/>
<path d="M1483.4 127.7L1497.25 129.73Q1501.8 130.4 1498.28 127.44L1489.62 120.16Q1486.1 117.2 1490.68 117.58L1503.22 118.62Q1507.8 119 1504.13 116.22L1495.77 109.88Q1492.1 107.1 1496.69 107.39L1508.21 108.11Q1512.8 108.4 1509.05 105.73L1499.95 99.27Q1496.2 96.6 1500.79 96.87L1513.51 97.63Q1518.1 97.9 1514.76 94.73L1503.94 84.47Q1500.6 81.3 1505.05 82.46L1519.65 86.24Q1524.1 87.4 1520.91 84.08L1509.1 71.8" fill="none" stroke="#0070c0" stroke-width="2.4" stroke-linecap="round" stroke-linejoin="round"/>
<path d="M1762.3 128.6L1776.15 130.63Q1780.7 131.3 1777.18 128.34L1768.52 121.06Q1765 118.1 1769.58 118.48L1782.12 119.52Q1786.7 119.9 1783.03 117.12L1774.67 110.78Q1771 108 1775.59 108.29L1787.11 109.01Q1791.7 109.3 1787.95 106.63L1778.85 100.17Q1775.1 97.5 1779.69 97.77L1792.41 98.53Q1797 98.8 1793.66 95.63L1782.84 85.37Q1779.5 82.2 1783.95 83.36L1798.55 87.14Q1803 88.3 1799.81 84.98L1788 72.7" fill="none" stroke="#0070c0" stroke-width="2.4" stroke-linecap="round" stroke-linejoin="round"/>
<path d="M1465 443.5L1478.85 445.53Q1483.4 446.2 1479.88 443.24L1471.22 435.96Q1467.7 433 1472.28 433.38L1484.82 434.42Q1489.4 434.8 1485.73 432.02L1477.37 425.68Q1473.7 422.9 1478.29 423.19L1489.81 423.91Q1494.4 424.2 1490.65 421.53L1481.55 415.07Q1477.8 412.4 1482.39 412.67L1495.11 413.43Q1499.7 413.7 1496.36 410.53L1485.54 400.27Q1482.2 397.1 1486.65 398.26L1501.25 402.04Q1505.7 403.2 1502.51 399.88L1490.7 387.6" fill="none" stroke="#0070c0" stroke-width="2.4" stroke-linecap="round" stroke-linejoin="round"/>
<path d="M1536.1 443.5L1549.95 445.53Q1554.5 446.2 1550.98 443.24L1542.32 435.96Q1538.8 433 1543.38 433.38L1555.92 434.42Q1560.5 434.8 1556.83 432.02L1548.47 425.68Q1544.8 422.9 1549.39 423.19L1560.91 423.91Q1565.5 424.2 1561.75 421.53L1552.65 415.07Q1548.9 412.4 1553.49 412.67L1566.21 413.43Q1570.8 413.7 1567.46 410.53L1556.64 400.27Q1553.3 397.1 1557.75 398.26L1572.35 402.04Q1576.8 403.2 1573.61 399.88L1561.8 387.6" fill="none" stroke="#0070c0" stroke-width="2.4" stroke-linecap="round" stroke-linejoin="round"/>
<path d="M1598.3 443.5L1612.15 445.53Q1616.7 446.2 1613.18 443.24L1604.52 435.96Q1601 433 1605.58 433.38L1618.12 434.42Q1622.7 434.8 1619.03 432.02L1610.67 425.68Q1607 422.9 1611.59 423.19L1623.11 423.91Q1627.7 424.2 1623.95 421.53L1614.85 415.07Q1611.1 412.4 1615.69 412.67L1628.41 413.43Q1633 413.7 1629.66 410.53L1618.84 400.27Q1615.5 397.1 1619.95 398.26L1634.55 402.04Q1639 403.2 1635.81 399.88L1624 387.6" fill="none" stroke="#0070c0" stroke-width="2.4" stroke-linecap="round" stroke-linejoin="round"/>
<path d="M1670 443.5L1683.85 445.53Q1688.4 446.2 1684.88 443.24L1676.22 435.96Q1672.7 433 1677.28 433.38L1689.82 434.42Q1694.4 434.8 1690.73 432.02L1682.37 425.68Q1678.7 422.9 1683.29 423.19L1694.81 423.91Q1699.4 424.2 1695.65 421.53L1686.55 415.07Q1682.8 412.4 1687.39 412.67L1700.11 413.43Q1704.7 413.7 1701.36 410.53L1690.54 400.27Q1687.2 397.1 1691.65 398.26L1706.25 402.04Q1710.7 403.2 1707.51 399.88L1695.7 387.6" fill="none" stroke="#0070c0" stroke-width="2.4" stroke-linecap="round" stroke-linejoin="round"/>
<path d="M1744.5 443.5L1758.35 445.53Q1762.9 446.2 1759.38 443.24L1750.72 435.96Q1747.2 433 1751.78 433.38L1764.32 434.42Q1768.9 434.8 1765.23 432.02L1756.87 425.68Q1753.2 422.9 1757.79 423.19L1769.31 423.91Q1773.9 424.2 1770.15 421.53L1761.05 415.07Q1757.3 412.4 1761.89 412.67L1774.61 413.43Q1779.2 413.7 1775.86 410.53L1765.04 400.27Q1761.7 397.1 1766.15 398.26L1780.75 402.04Q1785.2 403.2 1782.01 399.88L1770.2 387.6" fill="none" stroke="#0070c0" stroke-width="2.4" stroke-linecap="round" stroke-linejoin="round"/>
<circle cx="1425.2" cy="158.3" r="7.0" fill="url(#gball)"/>
<circle cx="1492.2" cy="158.3" r="7.0" fill="url(#gball)"/>
<circle cx="1459.6" cy="126.8" r="7.0" fill="url(#gball)"/>
<circle cx="1459.6" cy="192.6" r="7.0" fill="url(#gball)"/>
<circle cx="1425.2" cy="228.2" r="7.0" fill="url(#gball)"/>
<circle cx="1492.2" cy="228.2" r="7.0" fill="url(#gball)"/>
<circle cx="1459.6" cy="263.3" r="7.0" fill="url(#gball)"/>
<circle cx="1425.2" cy="298.4" r="7.0" fill="url(#gball)"/>
<circle cx="1492.2" cy="298.4" r="7.0" fill="url(#gball)"/>
<circle cx="1459.6" cy="332.4" r="7.0" fill="url(#gball)"/>
<circle cx="1425.2" cy="368.3" r="7.0" fill="url(#gball)"/>
<circle cx="1492.2" cy="368.3" r="7.0" fill="url(#gball)"/>
<circle cx="1459.6" cy="401.7" r="7.0" fill="url(#gball)"/>
<circle cx="1560.6" cy="158.3" r="7.0" fill="url(#gball)"/>
<circle cx="1528.1" cy="126.8" r="7.0" fill="url(#gball)"/>
<circle cx="1528.1" cy="192.6" r="7.0" fill="url(#gball)"/>
<circle cx="1560.6" cy="228.2" r="7.0" fill="url(#gball)"/>
<circle cx="1528.1" cy="263.3" r="7.0" fill="url(#gball)"/>
<circle cx="1560.6" cy="298.4" r="7.0" fill="url(#gball)"/>
<circle cx="1528.1" cy="332.4" r="7.0" fill="url(#gball)"/>
<circle cx="1560.6" cy="368.3" r="7.0" fill="url(#gball)"/>
<circle cx="1528.1" cy="401.7" r="7.0" fill="url(#gball)"/>
<circle cx="1628.3" cy="158.3" r="7.0" fill="url(#gball)"/>
<circle cx="1595.2" cy="192.6" r="7.0" fill="url(#gball)"/>
<circle cx="1628.3" cy="228.2" r="7.0" fill="url(#gball)"/>
<circle cx="1595.2" cy="263.3" r="7.0" fill="url(#gball)"/>
<circle cx="1628.3" cy="298.4" r="7.0" fill="url(#gball)"/>
<circle cx="1595.2" cy="332.4" r="7.0" fill="url(#gball)"/>
<circle cx="1628.3" cy="368.3" r="7.0" fill="url(#gball)"/>
<circle cx="1595.2" cy="401.7" r="7.0" fill="url(#gball)"/>
<circle cx="1698.6" cy="158.14" r="7.0" fill="url(#gball)"/>
<circle cx="1664" cy="192.6" r="7.0" fill="url(#gball)"/>
<circle cx="1698.6" cy="228.09" r="7.0" fill="url(#gball)"/>
<circle cx="1664" cy="263.3" r="7.0" fill="url(#gball)"/>
<circle cx="1698.6" cy="298.35" r="7.0" fill="url(#gball)"/>
<circle cx="1664" cy="332.4" r="7.0" fill="url(#gball)"/>
<circle cx="1664" cy="401.7" r="7.0" fill="url(#gball)"/>
<circle cx="1766.6" cy="156.85" r="7.0" fill="url(#gball)"/>
<circle cx="1733.3" cy="125.85" r="7.0" fill="url(#gball)"/>
<circle cx="1733.3" cy="191.92" r="7.0" fill="url(#gball)"/>
<circle cx="1766.6" cy="227.25" r="7.0" fill="url(#gball)"/>
<circle cx="1733.3" cy="262.91" r="7.0" fill="url(#gball)"/>
<circle cx="1766.6" cy="297.96" r="7.0" fill="url(#gball)"/>
<circle cx="1733.3" cy="332.29" r="7.0" fill="url(#gball)"/>
<circle cx="1766.6" cy="368.36" r="7.0" fill="url(#gball)"/>
<circle cx="1733.3" cy="401.87" r="7.0" fill="url(#gball)"/>
<circle cx="1838.3" cy="155.5" r="7.0" fill="url(#gball)"/>
<circle cx="1804.2" cy="124.31" r="7.0" fill="url(#gball)"/>
<circle cx="1804.2" cy="190.81" r="7.0" fill="url(#gball)"/>
<circle cx="1838.3" cy="226.37" r="7.0" fill="url(#gball)"/>
<circle cx="1804.2" cy="262.27" r="7.0" fill="url(#gball)"/>
<circle cx="1804.2" cy="332.1" r="7.0" fill="url(#gball)"/>
<circle cx="1804.2" cy="402.15" r="7.0" fill="url(#gball)"/>
<circle cx="1493" cy="192.9" r="4.1" fill="#0a0a0a"/>
<circle cx="1560.6" cy="192.4" r="4.1" fill="#0a0a0a"/>
<circle cx="1629.7" cy="191.8" r="4.1" fill="#0a0a0a"/>
<circle cx="1698.5" cy="191.8" r="4.1" fill="#0a0a0a"/>
<circle cx="1770.7" cy="189.4" r="4.1" fill="#0a0a0a"/>
<circle cx="1493" cy="263.6" r="4.1" fill="#0a0a0a"/>
<circle cx="1560.6" cy="263.6" r="4.1" fill="#0a0a0a"/>
<circle cx="1629.7" cy="263.1" r="4.1" fill="#0a0a0a"/>
<circle cx="1698.2" cy="263.1" r="4.1" fill="#0a0a0a"/>
<circle cx="1770.5" cy="261.3" r="4.1" fill="#0a0a0a"/>
<circle cx="1493" cy="334" r="4.1" fill="#0a0a0a"/>
<circle cx="1698.2" cy="333.4" r="4.1" fill="#0a0a0a"/>
<circle cx="1768.9" cy="332.9" r="4.1" fill="#0a0a0a"/>
<line x1="1591.7" y1="129.5" x2="1594.6" y2="151.3" stroke="#ff3030" stroke-width="1.1" stroke-dasharray="1.1 1.1"/>
<line x1="1671.1" y1="129.5" x2="1664.1" y2="151.3" stroke="#ff3030" stroke-width="1.1" stroke-dasharray="1.1 1.1"/>
<line x1="1812" y1="293.8" x2="1835.6" y2="289.4" stroke="#ff3030" stroke-width="1.1" stroke-dasharray="1.1 1.1"/>
<line x1="1812.9" y1="368.7" x2="1834.8" y2="370.1" stroke="#ff3030" stroke-width="1.1" stroke-dasharray="1.1 1.1"/>
<circle cx="1594.6" cy="158.3" r="7.4" fill="url(#rball)"/>
<circle cx="1663.3" cy="158" r="7.4" fill="url(#rball)"/>
<circle cx="1804.2" cy="296.8" r="7.4" fill="url(#rball)"/>
<circle cx="1803.9" cy="368" r="7.4" fill="url(#rball)"/>
<ellipse cx="1567.6" cy="215" rx="38" ry="24.5" transform="rotate(0 1567.6 215)" fill="none" stroke="#141414" stroke-width="2.7" stroke-dasharray="7 3.2"/>
<ellipse cx="1700.7" cy="231.9" rx="38.9" ry="24.2" transform="rotate(0 1700.7 231.9)" fill="none" stroke="#141414" stroke-width="2.7" stroke-dasharray="7 3.2"/>
<ellipse cx="1595.6" cy="332.4" rx="38" ry="24.6" transform="rotate(0 1595.6 332.4)" fill="none" stroke="#141414" stroke-width="2.7" stroke-dasharray="7 3.2"/>
<ellipse cx="1739.1" cy="310.5" rx="38.9" ry="24.7" transform="rotate(0 1739.1 310.5)" fill="none" stroke="#141414" stroke-width="2.7" stroke-dasharray="7 3.2"/>
<g transform="translate(1540.1 216.5) rotate(0)"><ellipse rx="17.5" ry="10.8" fill="#00a5ec" stroke="#7488dc" stroke-width="1.2"/><path d="M-9 0H9M0 -9V9" stroke="#f6f600" stroke-width="2.8"/></g>
<g transform="translate(1590.3 216.5) rotate(0)"><ellipse rx="17.5" ry="10.8" fill="#ee8d9a" stroke="#8384d8" stroke-width="1.4"/><path d="M-9 0H9" stroke="#f6f600" stroke-width="3.6"/></g>
<g transform="translate(1673.4 233.4) rotate(0)"><ellipse rx="17.5" ry="10.8" fill="#00a5ec" stroke="#7488dc" stroke-width="1.2"/><path d="M-9 0H9M0 -9V9" stroke="#f6f600" stroke-width="2.8"/></g>
<g transform="translate(1723.8 233.8) rotate(0)"><ellipse rx="17.5" ry="10.8" fill="#ee8d9a" stroke="#8384d8" stroke-width="1.4"/><path d="M-9 0H9" stroke="#f6f600" stroke-width="3.6"/></g>
<g transform="translate(1567.7 333.8) rotate(0)"><ellipse rx="17.5" ry="10.8" fill="#00a5ec" stroke="#7488dc" stroke-width="1.2"/><path d="M-9 0H9M0 -9V9" stroke="#f6f600" stroke-width="2.8"/></g>
<g transform="translate(1617.9 333.8) rotate(0)"><ellipse rx="17.5" ry="10.8" fill="#ee8d9a" stroke="#8384d8" stroke-width="1.4"/><path d="M-9 0H9" stroke="#f6f600" stroke-width="3.6"/></g>
<g transform="translate(1712.1 311.6) rotate(0)"><ellipse rx="17.5" ry="10.8" fill="#00a5ec" stroke="#7488dc" stroke-width="1.2"/><path d="M-9 0H9M0 -9V9" stroke="#f6f600" stroke-width="2.8"/></g>
<g transform="translate(1762.3 311.6) rotate(0)"><ellipse rx="17.5" ry="10.8" fill="#ee8d9a" stroke="#8384d8" stroke-width="1.4"/><path d="M-9 0H9" stroke="#f6f600" stroke-width="3.6"/></g>
<text x="1594.3" y="78.82" font-size="12" font-weight="bold" text-anchor="middle" fill="#1a1a1a" stroke="#1a1a1a" stroke-width="0.3">O</text>
<line x1="1600.4" y1="79.7" x2="1605.1" y2="87.3" stroke="#1a1a1a" stroke-width="1.9" stroke-linecap="round"/>
<text x="1576.3" y="101.82" font-size="12" font-weight="bold" text-anchor="middle" fill="#1a1a1a" stroke="#1a1a1a" stroke-width="0.3">O</text>
<line x1="1585.5" y1="97.2" x2="1595.5" y2="97.2" stroke="#1a1a1a" stroke-width="1.9" stroke-linecap="round"/>
<text x="1607.7" y="101.98" font-size="13" font-weight="bold" text-anchor="middle" fill="#bf9312" stroke="#bf9312" stroke-width="0.3">P</text>
<line x1="1614.6" y1="96.8" x2="1625.2" y2="96.8" stroke="#1a1a1a" stroke-width="1.9" stroke-linecap="round"/>
<text x="1634.8" y="102.18" font-size="13" font-weight="bold" text-anchor="middle" fill="#9a5528" stroke="#9a5528" stroke-width="0.3">R</text>
<line x1="1643.2" y1="96.5" x2="1653.1" y2="96.5" stroke="#1a1a1a" stroke-width="1.9" stroke-linecap="round"/>
<text x="1661" y="101.98" font-size="13" font-weight="bold" text-anchor="middle" fill="#bf9312" stroke="#bf9312" stroke-width="0.3">P</text>
<line x1="1669.7" y1="97.2" x2="1679.9" y2="97.2" stroke="#1a1a1a" stroke-width="1.9" stroke-linecap="round"/>
<text x="1687.8" y="101.82" font-size="12" font-weight="bold" text-anchor="middle" fill="#1a1a1a" stroke="#1a1a1a" stroke-width="0.3">O</text>
<text x="1676.7" y="78.82" font-size="12" font-weight="bold" text-anchor="middle" fill="#1a1a1a" stroke="#1a1a1a" stroke-width="0.3">O</text>
<line x1="1671.1" y1="81.4" x2="1666.1" y2="89" stroke="#1a1a1a" stroke-width="1.9" stroke-linecap="round"/>
<linearGradient id="dbg3" gradientUnits="userSpaceOnUse" x1="1600.43" y1="107.51" x2="1594.9" y2="115.28"><stop offset="0" stop-color="#c09a18"/><stop offset="0.45" stop-color="#c89220"/><stop offset="0.62" stop-color="#f03a28"/><stop offset="1" stop-color="#ff2020"/></linearGradient><line x1="1598.72" y1="106.29" x2="1593.19" y2="114.06" stroke="url(#dbg3)" stroke-width="1.7" stroke-linecap="round"/><line x1="1602.14" y1="108.72" x2="1596.61" y2="116.5" stroke="url(#dbg3)" stroke-width="1.7" stroke-linecap="round"/>
<text x="1590.4" y="127.02" font-size="14.5" font-weight="bold" text-anchor="middle" fill="#ff1e1e" stroke="#ff1e1e" stroke-width="0.3">O</text>
<linearGradient id="dbg4" gradientUnits="userSpaceOnUse" x1="1666.38" y1="107.51" x2="1670.47" y2="115.28"><stop offset="0" stop-color="#c09a18"/><stop offset="0.45" stop-color="#c89220"/><stop offset="0.62" stop-color="#f03a28"/><stop offset="1" stop-color="#ff2020"/></linearGradient><line x1="1664.52" y1="108.48" x2="1668.61" y2="116.26" stroke="url(#dbg4)" stroke-width="1.7" stroke-linecap="round"/><line x1="1668.23" y1="106.53" x2="1672.33" y2="114.3" stroke="url(#dbg4)" stroke-width="1.7" stroke-linecap="round"/>
<text x="1673.8" y="127.02" font-size="14.5" font-weight="bold" text-anchor="middle" fill="#ff1e1e" stroke="#ff1e1e" stroke-width="0.3">O</text>
<text x="1865.3" y="277.88" font-size="10.5" font-weight="bold" text-anchor="middle" fill="#1a1a1a" stroke="#1a1a1a" stroke-width="0.3">O</text>
<line x1="1865.3" y1="282.8" x2="1865.3" y2="292.4" stroke="#1a1a1a" stroke-width="1.9" stroke-linecap="round"/>
<text x="1840.9" y="293.08" font-size="13" font-weight="bold" text-anchor="middle" fill="#ff1e1e" stroke="#ff1e1e" stroke-width="0.3">O</text>
<linearGradient id="dbg5" gradientUnits="userSpaceOnUse" x1="1856.52" y1="299.02" x2="1848.22" y2="293.38"><stop offset="0" stop-color="#c09a18"/><stop offset="0.45" stop-color="#c89220"/><stop offset="0.62" stop-color="#f03a28"/><stop offset="1" stop-color="#ff2020"/></linearGradient><line x1="1857.7" y1="297.29" x2="1849.4" y2="291.64" stroke="url(#dbg5)" stroke-width="1.7" stroke-linecap="round"/><line x1="1855.33" y1="300.76" x2="1847.04" y2="295.12" stroke="url(#dbg5)" stroke-width="1.7" stroke-linecap="round"/>
<text x="1865.3" y="309.14" font-size="11.5" font-weight="bold" text-anchor="middle" fill="#bf9312" stroke="#bf9312" stroke-width="0.3">P</text>
<text x="1888" y="295.88" font-size="10.5" font-weight="bold" text-anchor="middle" fill="#1a1a1a" stroke="#1a1a1a" stroke-width="0.3">O</text>
<line x1="1875.8" y1="302" x2="1883.2" y2="297.1" stroke="#1a1a1a" stroke-width="1.9" stroke-linecap="round"/>
<line x1="1865.3" y1="314.2" x2="1865.3" y2="323.5" stroke="#1a1a1a" stroke-width="1.9" stroke-linecap="round"/>
<text x="1864.8" y="336.74" font-size="11.5" font-weight="bold" text-anchor="middle" fill="#9a5528" stroke="#9a5528" stroke-width="0.3">R</text>
<line x1="1865.9" y1="341.3" x2="1865.9" y2="350.6" stroke="#1a1a1a" stroke-width="1.9" stroke-linecap="round"/>
<text x="1865.9" y="362.94" font-size="11.5" font-weight="bold" text-anchor="middle" fill="#bf9312" stroke="#bf9312" stroke-width="0.3">P</text>
<linearGradient id="dbg6" gradientUnits="userSpaceOnUse" x1="1856.9" y1="363.34" x2="1848.4" y2="367.62"><stop offset="0" stop-color="#c09a18"/><stop offset="0.45" stop-color="#c89220"/><stop offset="0.62" stop-color="#f03a28"/><stop offset="1" stop-color="#ff2020"/></linearGradient><line x1="1855.95" y1="361.46" x2="1847.45" y2="365.74" stroke="url(#dbg6)" stroke-width="1.7" stroke-linecap="round"/><line x1="1857.85" y1="365.21" x2="1849.35" y2="369.5" stroke="url(#dbg6)" stroke-width="1.7" stroke-linecap="round"/>
<text x="1840.9" y="376.08" font-size="13" font-weight="bold" text-anchor="middle" fill="#ff1e1e" stroke="#ff1e1e" stroke-width="0.3">O</text>
<text x="1888" y="378.28" font-size="10.5" font-weight="bold" text-anchor="middle" fill="#1a1a1a" stroke="#1a1a1a" stroke-width="0.3">O</text>
<line x1="1874.3" y1="364.2" x2="1881.9" y2="369.3" stroke="#1a1a1a" stroke-width="1.9" stroke-linecap="round"/>
<line x1="1865.9" y1="368.4" x2="1865.9" y2="377.1" stroke="#1a1a1a" stroke-width="1.9" stroke-linecap="round"/>
<text x="1865.3" y="390.18" font-size="10.5" font-weight="bold" text-anchor="middle" fill="#1a1a1a" stroke="#1a1a1a" stroke-width="0.3">O</text>
<line x1="588" y1="272.1" x2="745.7" y2="272.1" stroke="#000" stroke-width="2.3"/><path d="M753.7 272.1L740.8000000000001 265.6L745.1 272.1L740.8000000000001 278.6Z" fill="#000"/>
<line x1="1245.2" y1="270.2" x2="1402.7" y2="270.2" stroke="#000" stroke-width="2.3"/><path d="M1410.7 270.2L1397.8 263.7L1402.1000000000001 270.2L1397.8 276.7Z" fill="#000"/>
<text x="622.8" y="258.9" font-size="32" text-anchor="start" fill="#000" ><tspan font-style="italic">w</tspan> AMP</text>
<text x="1272.4" y="259.2" font-size="32" text-anchor="start" fill="#000" ><tspan font-style="italic">w</tspan> IDMP</text>
<path d="M128.7 498.3L153.6 523.6L129.1 548.1L104.1 524.2Z" fill="#eff7fe" stroke="#509bd9" stroke-width="1.6"/>
<path d="M104.1 524.2L153.6 523.6M128.7 498.3L129.1 548.1" stroke="#b9c8ee" stroke-width="1.1"/>
<circle cx="128.7" cy="498.3" r="2.4" fill="#bfe3b4" stroke="#6aae5a" stroke-width="1.1"/>
<circle cx="153.6" cy="523.6" r="2.4" fill="#bfe3b4" stroke="#6aae5a" stroke-width="1.1"/>
<circle cx="129.1" cy="548.1" r="2.4" fill="#bfe3b4" stroke="#6aae5a" stroke-width="1.1"/>
<circle cx="104.1" cy="524.2" r="2.4" fill="#bfe3b4" stroke="#6aae5a" stroke-width="1.1"/>
<text x="160.4" y="533.9" font-size="28" text-anchor="start" fill="#000" >[PbBr<tspan dy="6.3" font-size="17">6</tspan><tspan dy="-6.3">]</tspan><tspan dy="-9.5" font-size="18">4-</tspan></text>
<circle cx="316.2" cy="522.8" r="4.4" fill="#0a0a0a"/>
<text x="327.8" y="534.6" font-size="28" text-anchor="start" fill="#000" >Cs</text>
<circle cx="413.3" cy="521.3" r="9.3" fill="none" stroke="#c00000" stroke-width="1.7" stroke-dasharray="5.2 2.6"/>
<text x="429.2" y="533.3" font-size="28" text-anchor="start" fill="#000" >vacancy</text>
<path d="M585.4 542.3L599.8 544.41Q604.35 545.08 600.83 542.12L591.7 534.45Q588.18 531.48 592.77 531.87L605.95 532.96Q610.53 533.34 606.87 530.56L598.03 523.86Q594.36 521.08 598.95 521.37L611.09 522.13Q615.68 522.42 611.93 519.76L602.33 512.93Q598.58 510.27 603.18 510.54L616.55 511.33Q621.14 511.61 617.8 508.44L606.45 497.67Q603.12 494.51 607.57 495.66L622.87 499.64Q627.32 500.79 624.13 497.48L611.87 484.72" fill="none" stroke="#1a7fd4" stroke-width="2.1" stroke-linecap="round" stroke-linejoin="round"/>
<text x="626.2" y="533.9" font-size="28" text-anchor="start" fill="#000" >spacer cations</text>
<text x="902.4" y="496.52" font-size="19.5" font-weight="bold" text-anchor="middle" fill="#1a1a1a" stroke="#1a1a1a" stroke-width="0">O</text>
<line x1="911.2" y1="497.3" x2="918.4" y2="507.8" stroke="#1a1a1a" stroke-width="2.5" stroke-linecap="round"/>
<text x="877.6" y="530.12" font-size="19.5" font-weight="bold" text-anchor="middle" fill="#1a1a1a" stroke="#1a1a1a" stroke-width="0">O</text>
<line x1="890.3" y1="522.7" x2="905.3" y2="522.7" stroke="#1a1a1a" stroke-width="2.5" stroke-linecap="round"/>
<text x="922.1" y="529.52" font-size="19.5" font-weight="bold" text-anchor="middle" fill="#bf9312" stroke="#bf9312" stroke-width="0">P</text>
<line x1="932.7" y1="522.3" x2="947.9" y2="522.3" stroke="#1a1a1a" stroke-width="2.5" stroke-linecap="round"/>
<text x="962" y="529.72" font-size="19.5" font-weight="bold" text-anchor="middle" fill="#9a5528" stroke="#9a5528" stroke-width="0">R</text>
<linearGradient id="dbg7" gradientUnits="userSpaceOnUse" x1="912.85" y1="535.6" x2="904.1" y2="547.99"><stop offset="0" stop-color="#c09a18"/><stop offset="0.45" stop-color="#c89220"/><stop offset="0.62" stop-color="#f03a28"/><stop offset="1" stop-color="#ff2020"/></linearGradient><line x1="910.48" y1="533.93" x2="901.73" y2="546.32" stroke="url(#dbg7)" stroke-width="2.5" stroke-linecap="round"/><line x1="915.22" y1="537.27" x2="906.47" y2="549.66" stroke="url(#dbg7)" stroke-width="2.5" stroke-linecap="round"/>
<text x="897.1" y="565.58" font-size="20.5" font-weight="bold" text-anchor="middle" fill="#ff1e1e" stroke="#ff1e1e" stroke-width="0">O</text>
<text x="978" y="533.5" font-size="28" text-anchor="start" fill="#000" >AMP (<tspan fill="#b08058">R</tspan>: NH<tspan dy="6" font-size="17">2</tspan><tspan dy="-6">-CH</tspan><tspan dy="6" font-size="17">2</tspan><tspan dy="-6">-)</tspan></text>
<text x="1328.4" y="498.52" font-size="19.5" font-weight="bold" text-anchor="middle" fill="#1a1a1a" stroke="#1a1a1a" stroke-width="0">O</text>
<line x1="1336.6" y1="499.3" x2="1344.3" y2="509.7" stroke="#1a1a1a" stroke-width="2.5" stroke-linecap="round"/>
<text x="1302.9" y="532.72" font-size="19.5" font-weight="bold" text-anchor="middle" fill="#1a1a1a" stroke="#1a1a1a" stroke-width="0">O</text>
<line x1="1316.1" y1="525.3" x2="1330.4" y2="525.3" stroke="#1a1a1a" stroke-width="2.5" stroke-linecap="round"/>
<text x="1347.4" y="531.92" font-size="19.5" font-weight="bold" text-anchor="middle" fill="#bf9312" stroke="#bf9312" stroke-width="0">P</text>
<line x1="1358.5" y1="525.3" x2="1373.4" y2="525.3" stroke="#1a1a1a" stroke-width="2.5" stroke-linecap="round"/>
<text x="1387.4" y="532.32" font-size="19.5" font-weight="bold" text-anchor="middle" fill="#9a5528" stroke="#9a5528" stroke-width="0">R</text>
<line x1="1400.7" y1="523.9" x2="1414.8" y2="523.9" stroke="#1a1a1a" stroke-width="2.5" stroke-linecap="round"/>
<text x="1425.5" y="531.92" font-size="19.5" font-weight="bold" text-anchor="middle" fill="#bf9312" stroke="#bf9312" stroke-width="0">P</text>
<line x1="1438.6" y1="525.3" x2="1452.9" y2="525.3" stroke="#1a1a1a" stroke-width="2.5" stroke-linecap="round"/>
<text x="1466.5" y="532.72" font-size="19.5" font-weight="bold" text-anchor="middle" fill="#1a1a1a" stroke="#1a1a1a" stroke-width="0">O</text>
<text x="1448.9" y="498.52" font-size="19.5" font-weight="bold" text-anchor="middle" fill="#1a1a1a" stroke="#1a1a1a" stroke-width="0">O</text>
<line x1="1440.5" y1="501.3" x2="1433.5" y2="513.6" stroke="#1a1a1a" stroke-width="2.5" stroke-linecap="round"/>
<linearGradient id="dbg8" gradientUnits="userSpaceOnUse" x1="1338.22" y1="537.96" x2="1329.54" y2="550.32"><stop offset="0" stop-color="#c09a18"/><stop offset="0.45" stop-color="#c89220"/><stop offset="0.62" stop-color="#f03a28"/><stop offset="1" stop-color="#ff2020"/></linearGradient><line x1="1335.85" y1="536.29" x2="1327.17" y2="548.65" stroke="url(#dbg8)" stroke-width="2.5" stroke-linecap="round"/><line x1="1340.6" y1="539.63" x2="1331.92" y2="551.98" stroke="url(#dbg8)" stroke-width="2.5" stroke-linecap="round"/>
<text x="1322.6" y="567.88" font-size="20.5" font-weight="bold" text-anchor="middle" fill="#ff1e1e" stroke="#ff1e1e" stroke-width="0">O</text>
<linearGradient id="dbg9" gradientUnits="userSpaceOnUse" x1="1432.71" y1="537.96" x2="1439.54" y2="550.32"><stop offset="0" stop-color="#c09a18"/><stop offset="0.45" stop-color="#c89220"/><stop offset="0.62" stop-color="#f03a28"/><stop offset="1" stop-color="#ff2020"/></linearGradient><line x1="1435.25" y1="536.56" x2="1442.08" y2="548.91" stroke="url(#dbg9)" stroke-width="2.5" stroke-linecap="round"/><line x1="1430.18" y1="539.36" x2="1437" y2="551.72" stroke="url(#dbg9)" stroke-width="2.5" stroke-linecap="round"/>
<text x="1445" y="567.88" font-size="20.5" font-weight="bold" text-anchor="middle" fill="#ff1e1e" stroke="#ff1e1e" stroke-width="0">O</text>
<text x="1483.2" y="533.5" font-size="28" text-anchor="start" fill="#000" >IDMP (<tspan fill="#a0602d">R</tspan>: -CH<tspan dy="6" font-size="17">2</tspan><tspan dy="-6">-NH-CH</tspan><tspan dy="6" font-size="17">2</tspan><tspan dy="-6">-)</tspan></text>
<ellipse cx="1878.1" cy="524.6" rx="34" ry="22.9" transform="rotate(0 1878.1 524.6)" fill="none" stroke="#141414" stroke-width="2.2" stroke-dasharray="6.2 2.9"/>
<g transform="translate(1854.5 525.5) rotate(0)"><ellipse rx="15.6" ry="9.6" fill="#00a5ec" stroke="#7488dc" stroke-width="1.2"/><path d="M-8.5 0H8.5M0 -8.5V8.5" stroke="#f6f600" stroke-width="2.6"/></g>
<g transform="translate(1898.4 525.5) rotate(0)"><ellipse rx="15.6" ry="9.7" fill="#ee8d9a" stroke="#8384d8" stroke-width="1.4"/><path d="M-8.8 0H8.8" stroke="#f6f600" stroke-width="3.2"/></g>
<text x="1922.2" y="533.5" font-size="28" text-anchor="start" fill="#000" >exciton</text>
<line x1="90.95" y1="35.3" x2="90.95" y2="587.35" stroke="#000" stroke-width="4.1" fill="none" stroke-dasharray="12.45 4.35"/>
<line x1="90.95" y1="34.95" x2="90.95" y2="36" stroke="#000" stroke-width="4.1" fill="none"/>
<line x1="96.6" y1="37" x2="2019.05" y2="37" stroke="#000" stroke-width="4.1" fill="none" stroke-dasharray="12.4 4.357"/>
<line x1="2017" y1="44.1" x2="2017" y2="587.35" stroke="#000" stroke-width="4.1" fill="none" stroke-dasharray="12.4 4.357"/>
<line x1="98.6" y1="585.3" x2="2019.05" y2="585.3" stroke="#000" stroke-width="4.1" fill="none" stroke-dasharray="12.4 4.36"/>
<text x="51" y="40.8" font-size="58" text-anchor="start" fill="#000" >a</text></g>
<g id="panel_b"><clipPath id="clipb"><rect x="104.5" y="664.7" width="539.2" height="434.25"/></clipPath>
<line x1="104.5" y1="882.3" x2="643.7" y2="880.1" stroke="#7f7f7f" stroke-width="3.2" stroke-dasharray="19.5 8 5 8"/>
<line x1="374.5" y1="664.7" x2="374.5" y2="1098.95" stroke="#7f7f7f" stroke-width="3.2" stroke-dasharray="19.5 8 5 8"/>
<g fill="#fff" stroke="#d2451e" stroke-width="3.8" stroke-linejoin="miter"><path d="M131.1 949.18L139.1 957.18L131.1 965.18L123.1 957.18Z"/><path d="M141.87 945.66L149.87 953.66L141.87 961.66L133.87 953.66Z"/><path d="M152.64 942.18L160.64 950.18L152.64 958.18L144.64 950.18Z"/><path d="M163.41 938.74L171.41 946.74L163.41 954.74L155.41 946.74Z"/><path d="M174.18 935.33L182.18 943.33L174.18 951.33L166.18 943.33Z"/><path d="M184.95 931.96L192.95 939.96L184.95 947.96L176.95 939.96Z"/><path d="M195.72 928.62L203.72 936.62L195.72 944.62L187.72 936.62Z"/><path d="M206.49 925.31L214.49 933.31L206.49 941.31L198.49 933.31Z"/><path d="M217.26 922.04L225.26 930.04L217.26 938.04L209.26 930.04Z"/><path d="M228.03 918.78L236.03 926.78L228.03 934.78L220.03 926.78Z"/><path d="M238.8 915.56L246.8 923.56L238.8 931.56L230.8 923.56Z"/><path d="M249.57 912.35L257.57 920.35L249.57 928.35L241.57 920.35Z"/><path d="M260.34 909.17L268.34 917.17L260.34 925.17L252.34 917.17Z"/><path d="M271.11 906.01L279.11 914.01L271.11 922.01L263.11 914.01Z"/><path d="M281.88 902.86L289.88 910.86L281.88 918.86L273.88 910.86Z"/><path d="M292.65 899.73L300.65 907.73L292.65 915.73L284.65 907.73Z"/><path d="M303.42 896.62L311.42 904.62L303.42 912.62L295.42 904.62Z"/><path d="M314.19 893.52L322.19 901.52L314.19 909.52L306.19 901.52Z"/><path d="M324.96 890.43L332.96 898.43L324.96 906.43L316.96 898.43Z"/><path d="M335.73 887.34L343.73 895.34L335.73 903.34L327.73 895.34Z"/><path d="M346.5 884.27L354.5 892.27L346.5 900.27L338.5 892.27Z"/><path d="M357.27 881.19L365.27 889.19L357.27 897.19L349.27 889.19Z"/><path d="M368.04 878.12L376.04 886.12L368.04 894.12L360.04 886.12Z"/><path d="M378.81 875.06L386.81 883.06L378.81 891.06L370.81 883.06Z"/><path d="M389.58 871.99L397.58 879.99L389.58 887.99L381.58 879.99Z"/><path d="M400.35 868.92L408.35 876.92L400.35 884.92L392.35 876.92Z"/><path d="M411.12 865.84L419.12 873.84L411.12 881.84L403.12 873.84Z"/><path d="M421.89 862.76L429.89 870.76L421.89 878.76L413.89 870.76Z"/><path d="M432.66 859.67L440.66 867.67L432.66 875.67L424.66 867.67Z"/><path d="M443.43 856.57L451.43 864.57L443.43 872.57L435.43 864.57Z"/><path d="M454.2 853.46L462.2 861.46L454.2 869.46L446.2 861.46Z"/><path d="M464.97 850.33L472.97 858.33L464.97 866.33L456.97 858.33Z"/><path d="M475.74 847.19L483.74 855.19L475.74 863.19L467.74 855.19Z"/><path d="M486.51 844.03L494.51 852.03L486.51 860.03L478.51 852.03Z"/><path d="M497.28 840.85L505.28 848.85L497.28 856.85L489.28 848.85Z"/><path d="M508.05 837.65L516.05 845.65L508.05 853.65L500.05 845.65Z"/><path d="M518.82 834.43L526.82 842.43L518.82 850.43L510.82 842.43Z"/><path d="M529.59 831.19L537.59 839.19L529.59 847.19L521.59 839.19Z"/><path d="M540.36 827.91L548.36 835.91L540.36 843.91L532.36 835.91Z"/><path d="M551.13 824.61L559.13 832.61L551.13 840.61L543.13 832.61Z"/><path d="M561.9 821.28L569.9 829.28L561.9 837.28L553.9 829.28Z"/><path d="M572.67 817.91L580.67 825.91L572.67 833.91L564.67 825.91Z"/><path d="M583.44 814.51L591.44 822.51L583.44 830.51L575.44 822.51Z"/><path d="M594.21 811.08L602.21 819.08L594.21 827.08L586.21 819.08Z"/><path d="M604.98 807.6L612.98 815.6L604.98 823.6L596.98 815.6Z"/><path d="M615.75 804.09L623.75 812.09L615.75 820.09L607.75 812.09Z"/></g>
<g fill="#fff" stroke="#0a96ff" stroke-width="3.8"><circle cx="131.1" cy="1054.88" r="6.9"/><circle cx="141.87" cy="1046.91" r="6.9"/><circle cx="152.64" cy="1039.01" r="6.9"/><circle cx="163.41" cy="1031.15" r="6.9"/><circle cx="174.18" cy="1023.35" r="6.9"/><circle cx="184.95" cy="1015.6" r="6.9"/><circle cx="195.72" cy="1007.91" r="6.9"/><circle cx="206.49" cy="1000.27" r="6.9"/><circle cx="217.26" cy="992.68" r="6.9"/><circle cx="228.03" cy="985.14" r="6.9"/><circle cx="238.8" cy="977.66" r="6.9"/><circle cx="249.57" cy="970.24" r="6.9"/><circle cx="260.34" cy="962.86" r="6.9"/><circle cx="271.11" cy="955.54" r="6.9"/><circle cx="281.88" cy="948.27" r="6.9"/><circle cx="292.65" cy="941.06" r="6.9"/><circle cx="303.42" cy="933.9" r="6.9"/><circle cx="314.19" cy="926.79" r="6.9"/><circle cx="324.96" cy="919.74" r="6.9"/><circle cx="335.73" cy="912.74" r="6.9"/><circle cx="346.5" cy="905.79" r="6.9"/><circle cx="357.27" cy="898.9" r="6.9"/><circle cx="368.04" cy="892.06" r="6.9"/><circle cx="378.81" cy="885.27" r="6.9"/><circle cx="389.58" cy="878.54" r="6.9"/><circle cx="400.35" cy="871.86" r="6.9"/><circle cx="411.12" cy="865.23" r="6.9"/><circle cx="421.89" cy="858.66" r="6.9"/><circle cx="432.66" cy="852.14" r="6.9"/><circle cx="443.43" cy="845.67" r="6.9"/><circle cx="454.2" cy="839.26" r="6.9"/><circle cx="464.97" cy="832.9" r="6.9"/><circle cx="475.74" cy="826.59" r="6.9"/><circle cx="486.51" cy="820.34" r="6.9"/><circle cx="497.28" cy="814.14" r="6.9"/><circle cx="508.05" cy="808" r="6.9"/><circle cx="518.82" cy="801.9" r="6.9"/><circle cx="529.59" cy="795.87" r="6.9"/><circle cx="540.36" cy="789.88" r="6.9"/><circle cx="551.13" cy="783.95" r="6.9"/><circle cx="561.9" cy="778.07" r="6.9"/><circle cx="572.67" cy="772.24" r="6.9"/><circle cx="583.44" cy="766.47" r="6.9"/><circle cx="594.21" cy="760.75" r="6.9"/><circle cx="604.98" cy="755.09" r="6.9"/><circle cx="615.75" cy="749.48" r="6.9"/></g>
<line x1="349.2" y1="880.6" x2="368.5" y2="880.5" stroke="#7f7f7f" stroke-width="1.3" />
<line x1="390.4" y1="880.4" x2="408.4" y2="880.3" stroke="#7f7f7f" stroke-width="1.3" />
<line x1="374.5" y1="869.2" x2="374.5" y2="888.5" stroke="#7f7f7f" stroke-width="3.2" />
<line x1="159.1" y1="1098.95" x2="159.1" y2="1090.45" stroke="#000" stroke-width="4" />
<text x="159.1" y="1131" font-size="28.5" text-anchor="middle" fill="#000" >−4</text>
<line x1="266.8" y1="1098.95" x2="266.8" y2="1090.45" stroke="#000" stroke-width="4" />
<text x="266.8" y="1131" font-size="28.5" text-anchor="middle" fill="#000" >−2</text>
<line x1="374.5" y1="1098.95" x2="374.5" y2="1090.45" stroke="#000" stroke-width="4" />
<text x="374.5" y="1131" font-size="28.5" text-anchor="middle" fill="#000" >0</text>
<line x1="482.2" y1="1098.95" x2="482.2" y2="1090.45" stroke="#000" stroke-width="4" />
<text x="482.2" y="1131" font-size="28.5" text-anchor="middle" fill="#000" >2</text>
<line x1="589.9" y1="1098.95" x2="589.9" y2="1090.45" stroke="#000" stroke-width="4" />
<text x="589.9" y="1131" font-size="28.5" text-anchor="middle" fill="#000" >4</text>
<line x1="212.95" y1="1098.95" x2="212.95" y2="1094.75" stroke="#000" stroke-width="4" />
<line x1="320.65" y1="1098.95" x2="320.65" y2="1094.75" stroke="#000" stroke-width="4" />
<line x1="428.35" y1="1098.95" x2="428.35" y2="1094.75" stroke="#000" stroke-width="4" />
<line x1="536.05" y1="1098.95" x2="536.05" y2="1094.75" stroke="#000" stroke-width="4" />
<line x1="104.5" y1="695.5" x2="112.5" y2="695.5" stroke="#000" stroke-width="4" />
<text x="95.3" y="704.3" font-size="28.5" text-anchor="end" fill="#000" >6</text>
<line x1="104.5" y1="788.65" x2="112.5" y2="788.65" stroke="#000" stroke-width="4" />
<text x="95.3" y="797.45" font-size="28.5" text-anchor="end" fill="#000" >3</text>
<line x1="104.5" y1="881.8" x2="112.5" y2="881.8" stroke="#7f7f7f" stroke-width="4" />
<text x="95.3" y="890.6" font-size="28.5" text-anchor="end" fill="#000" >0</text>
<line x1="104.5" y1="974.95" x2="112.5" y2="974.95" stroke="#000" stroke-width="4" />
<text x="95.3" y="983.75" font-size="28.5" text-anchor="end" fill="#000" >−3</text>
<line x1="104.5" y1="1068.1" x2="112.5" y2="1068.1" stroke="#000" stroke-width="4" />
<text x="95.3" y="1076.9" font-size="28.5" text-anchor="end" fill="#000" >−6</text>
<line x1="104.5" y1="742.07" x2="108.7" y2="742.07" stroke="#000" stroke-width="4" />
<line x1="104.5" y1="835.22" x2="108.7" y2="835.22" stroke="#000" stroke-width="4" />
<line x1="104.5" y1="928.38" x2="108.7" y2="928.38" stroke="#000" stroke-width="4" />
<line x1="104.5" y1="1021.52" x2="108.7" y2="1021.52" stroke="#000" stroke-width="4" />
<rect x="104.5" y="664.7" width="539.2" height="434.25" fill="none" stroke="#000" stroke-width="4.2"/>
<path d="M143.8 695.9L152.20000000000002 704.3L143.8 712.6999999999999L135.4 704.3Z" fill="#fff" stroke="#d2451e" stroke-width="4"/>
<circle cx="143.6" cy="739.3" r="7.05" fill="#fff" stroke="#0a96ff" stroke-width="4.3"/>
<text x="185" y="714.4" font-size="28.5" text-anchor="start" fill="#000" ><tspan font-style="italic">w/o</tspan></text>
<text x="235.8" y="714.4" font-size="28.5" text-anchor="start" fill="#000" >IDMP</text>
<text x="185" y="749" font-size="28.5" text-anchor="start" fill="#000" ><tspan font-style="italic">w</tspan></text>
<text x="235.8" y="749" font-size="28.5" text-anchor="start" fill="#000" >IDMP</text>
<text x="384.4" y="987.7" font-size="28.7" text-anchor="start" fill="#d2451e" font-weight="bold">σ = 7.7×10<tspan dy="-11.5" font-size="18.5">-6</tspan><tspan dy="11.5"> S cm</tspan><tspan dy="-11.5" font-size="18.5">-1</tspan></text>
<text x="384.4" y="1026.9" font-size="28.7" text-anchor="start" fill="#0a96ff" font-weight="bold">σ = 1.6×10<tspan dy="-11.5" font-size="18.5">-5</tspan><tspan dy="11.5"> S cm</tspan><tspan dy="-11.5" font-size="18.5">-1</tspan></text>
<text x="373.3" y="1180.2" font-size="33.3" text-anchor="middle" fill="#000" >Voltage (V)</text>
<text transform="translate(51.5,881.6) rotate(-90)" font-size="33.2" text-anchor="middle">Current (×10<tspan dy="-12" font-size="21">-9</tspan><tspan dy="12"> A)</tspan></text>
<text x="50.8" y="662.8" font-size="58" text-anchor="start" fill="#000" >b</text></g>
<g id="panel_c"><defs>
<radialGradient id="ballc" cx="0.36" cy="0.34" r="0.62" fx="0.34" fy="0.32">
<stop offset="0" stop-color="#ffffff"/><stop offset="0.13" stop-color="#dff0ff"/><stop offset="0.38" stop-color="#2f93f5"/><stop offset="0.6" stop-color="#0c7df0"/><stop offset="1" stop-color="#0a78ea"/></radialGradient>
<filter id="blur2" x="-10%" y="-10%" width="120%" height="120%"><feGaussianBlur stdDeviation="1.1"/></filter>
<filter id="blur1" x="-10%" y="-10%" width="120%" height="120%"><feGaussianBlur stdDeviation="0.6"/></filter>
</defs>
<clipPath id="clipc"><rect x="791.3" y="665.6" width="539.9" height="434.4"/></clipPath>
<linearGradient id="plg0" gradientUnits="userSpaceOnUse" x1="0" y1="807.4" x2="0" y2="1062.2"><stop offset="0" stop-color="#6eadf6"/><stop offset="0.22" stop-color="#7ab4f7"/><stop offset="0.5" stop-color="#a3cafa"/><stop offset="0.8" stop-color="#d3e6fd"/><stop offset="1" stop-color="#ffffff"/></linearGradient>
<polygon points="791.3,1062.2 791.3,1062.19 792.3,1062.19 793.3,1062.19 794.3,1062.19 795.3,1062.19 796.3,1062.19 797.3,1062.19 798.3,1062.19 799.3,1062.19 800.3,1062.19 801.3,1062.18 802.3,1062.18 803.3,1062.18 804.3,1062.18 805.3,1062.17 806.3,1062.17 807.3,1062.17 808.3,1062.16 809.3,1062.16 810.3,1062.16 811.3,1062.15 812.3,1062.14 813.3,1062.14 814.3,1062.13 815.3,1062.12 816.3,1062.12 817.3,1062.11 818.3,1062.1 819.3,1062.09 820.3,1062.08 821.3,1062.06 822.3,1062.05 823.3,1062.03 824.3,1062.02 825.3,1062 826.3,1061.98 827.3,1061.96 828.3,1061.94 829.3,1061.91 830.3,1061.88 831.3,1061.85 832.3,1061.82 833.3,1061.79 834.3,1061.75 835.3,1061.71 836.3,1061.67 837.3,1061.62 838.3,1061.57 839.3,1061.52 840.3,1061.46 841.3,1061.4 842.3,1061.34 843.3,1061.27 844.3,1061.19 845.3,1061.11 846.3,1061.02 847.3,1060.93 848.3,1060.84 849.3,1060.73 850.3,1060.62 851.3,1060.51 852.3,1060.38 853.3,1060.25 854.3,1060.11 855.3,1059.96 856.3,1059.81 857.3,1059.64 858.3,1059.47 859.3,1059.28 860.3,1059.09 861.3,1058.88 862.3,1058.66 863.3,1058.43 864.3,1058.19 865.3,1057.93 866.3,1057.66 867.3,1057.37 868.3,1057.07 869.3,1056.75 870.3,1056.4 871.3,1056.04 872.3,1055.65 873.3,1055.23 874.3,1054.78 875.3,1054.3 876.3,1053.78 877.3,1053.22 878.3,1052.62 879.3,1051.96 880.3,1051.24 881.3,1050.46 882.3,1049.61 883.3,1048.67 884.3,1047.64 885.3,1046.51 886.3,1045.27 887.3,1043.91 888.3,1042.41 889.3,1040.75 890.3,1038.93 891.3,1036.93 892.3,1034.73 893.3,1032.32 894.3,1029.68 895.3,1026.79 896.3,1023.64 897.3,1020.22 898.3,1016.5 899.3,1012.48 900.3,1008.14 901.3,1003.47 902.3,998.47 903.3,993.13 904.3,987.45 905.3,981.43 906.3,975.07 907.3,968.39 908.3,961.4 909.3,954.11 910.3,946.56 911.3,938.77 912.3,930.77 913.3,922.6 914.3,914.31 915.3,905.94 916.3,897.54 917.3,889.17 918.3,880.89 919.3,872.76 920.3,864.84 921.3,857.19 922.3,849.88 923.3,842.97 924.3,836.52 925.3,830.6 926.3,825.24 927.3,820.52 928.3,816.47 929.3,813.12 930.3,810.52 931.3,808.7 932.3,807.66 933.3,807.42 934.3,807.97 935.3,809.32 936.3,811.45 937.3,814.33 938.3,817.93 939.3,822.23 940.3,827.18 941.3,832.73 942.3,838.82 943.3,845.41 944.3,852.44 945.3,859.83 946.3,867.54 947.3,875.49 948.3,883.62 949.3,891.88 950.3,900.19 951.3,908.51 952.3,916.78 953.3,924.95 954.3,932.98 955.3,940.82 956.3,948.44 957.3,955.81 958.3,962.9 959.3,969.69 960.3,976.17 961.3,982.31 962.3,988.12 963.3,993.59 964.3,998.73 965.3,1003.52 966.3,1007.99 967.3,1012.13 968.3,1015.97 969.3,1019.51 970.3,1022.77 971.3,1025.76 972.3,1028.49 973.3,1031 974.3,1033.28 975.3,1035.36 976.3,1037.25 977.3,1038.98 978.3,1040.54 979.3,1041.97 980.3,1043.27 981.3,1044.45 982.3,1045.53 983.3,1046.51 984.3,1047.41 985.3,1048.24 986.3,1049 987.3,1049.7 988.3,1050.36 989.3,1050.96 990.3,1051.52 991.3,1052.05 992.3,1052.55 993.3,1053.01 994.3,1053.45 995.3,1053.87 996.3,1054.26 997.3,1054.64 998.3,1055 999.3,1055.34 1000.3,1055.67 1001.3,1055.98 1002.3,1056.28 1003.3,1056.57 1004.3,1056.84 1005.3,1057.11 1006.3,1057.36 1007.3,1057.6 1008.3,1057.84 1009.3,1058.06 1010.3,1058.28 1011.3,1058.48 1012.3,1058.68 1013.3,1058.87 1014.3,1059.05 1015.3,1059.22 1016.3,1059.39 1017.3,1059.55 1018.3,1059.7 1019.3,1059.84 1020.3,1059.98 1021.3,1060.11 1022.3,1060.23 1023.3,1060.35 1024.3,1060.46 1025.3,1060.57 1026.3,1060.67 1027.3,1060.77 1028.3,1060.86 1029.3,1060.94 1030.3,1061.02 1031.3,1061.1 1032.3,1061.17 1033.3,1061.24 1034.3,1061.31 1035.3,1061.37 1036.3,1061.42 1037.3,1061.48 1038.3,1061.53 1039.3,1061.57 1040.3,1061.62 1041.3,1061.66 1042.3,1061.7 1043.3,1061.74 1044.3,1061.77 1045.3,1061.8 1046.3,1061.83 1047.3,1061.86 1048.3,1061.89 1049.3,1061.91 1050.3,1061.93 1051.3,1061.95 1052.3,1061.97 1053.3,1061.99 1054.3,1062.01 1055.3,1062.02 1056.3,1062.04 1057.3,1062.05 1058.3,1062.06 1059.3,1062.07 1060.3,1062.08 1061.3,1062.09 1062.3,1062.1 1063.3,1062.11 1064.3,1062.12 1065.3,1062.13 1066.3,1062.13 1067.3,1062.14 1068.3,1062.14 1069.3,1062.15 1070.3,1062.15 1071.3,1062.16 1072.3,1062.16 1073.3,1062.17 1074.3,1062.17 1075.3,1062.17 1076.3,1062.17 1077.3,1062.18 1078.3,1062.18 1079.3,1062.18 1080.3,1062.18 1081.3,1062.18 1082.3,1062.19 1083.3,1062.19 1084.3,1062.19 1085.3,1062.19 1086.3,1062.19 1087.3,1062.19 1088.3,1062.19 1089.3,1062.19 1090.3,1062.19 1091.3,1062.19 1092.3,1062.2 1093.3,1062.2 1094.3,1062.2 1095.3,1062.2 1096.3,1062.2 1097.3,1062.2 1098.3,1062.2 1099.3,1062.2 1100.3,1062.2 1101.3,1062.2 1102.3,1062.2 1103.3,1062.2 1104.3,1062.2 1105.3,1062.2 1106.3,1062.2 1107.3,1062.2 1108.3,1062.2 1109.3,1062.2 1110.3,1062.2 1111.3,1062.2 1112.3,1062.2 1113.3,1062.2 1114.3,1062.2 1115.3,1062.2 1116.3,1062.2 1117.3,1062.2 1118.3,1062.2 1118.3,1062.2" fill="url(#plg0)"/>
<polyline points="791.3,1062.19 792.3,1062.19 793.3,1062.19 794.3,1062.19 795.3,1062.19 796.3,1062.19 797.3,1062.19 798.3,1062.19 799.3,1062.19 800.3,1062.19 801.3,1062.18 802.3,1062.18 803.3,1062.18 804.3,1062.18 805.3,1062.17 806.3,1062.17 807.3,1062.17 808.3,1062.16 809.3,1062.16 810.3,1062.16 811.3,1062.15 812.3,1062.14 813.3,1062.14 814.3,1062.13 815.3,1062.12 816.3,1062.12 817.3,1062.11 818.3,1062.1 819.3,1062.09 820.3,1062.08 821.3,1062.06 822.3,1062.05 823.3,1062.03 824.3,1062.02 825.3,1062 826.3,1061.98 827.3,1061.96 828.3,1061.94 829.3,1061.91 830.3,1061.88 831.3,1061.85 832.3,1061.82 833.3,1061.79 834.3,1061.75 835.3,1061.71 836.3,1061.67 837.3,1061.62 838.3,1061.57 839.3,1061.52 840.3,1061.46 841.3,1061.4 842.3,1061.34 843.3,1061.27 844.3,1061.19 845.3,1061.11 846.3,1061.02 847.3,1060.93 848.3,1060.84 849.3,1060.73 850.3,1060.62 851.3,1060.51 852.3,1060.38 853.3,1060.25 854.3,1060.11 855.3,1059.96 856.3,1059.81 857.3,1059.64 858.3,1059.47 859.3,1059.28 860.3,1059.09 861.3,1058.88 862.3,1058.66 863.3,1058.43 864.3,1058.19 865.3,1057.93 866.3,1057.66 867.3,1057.37 868.3,1057.07 869.3,1056.75 870.3,1056.4 871.3,1056.04 872.3,1055.65 873.3,1055.23 874.3,1054.78 875.3,1054.3 876.3,1053.78 877.3,1053.22 878.3,1052.62 879.3,1051.96 880.3,1051.24 881.3,1050.46 882.3,1049.61 883.3,1048.67 884.3,1047.64 885.3,1046.51 886.3,1045.27 887.3,1043.91 888.3,1042.41 889.3,1040.75 890.3,1038.93 891.3,1036.93 892.3,1034.73 893.3,1032.32 894.3,1029.68 895.3,1026.79 896.3,1023.64 897.3,1020.22 898.3,1016.5 899.3,1012.48 900.3,1008.14 901.3,1003.47 902.3,998.47 903.3,993.13 904.3,987.45 905.3,981.43 906.3,975.07 907.3,968.39 908.3,961.4 909.3,954.11 910.3,946.56 911.3,938.77 912.3,930.77 913.3,922.6 914.3,914.31 915.3,905.94 916.3,897.54 917.3,889.17 918.3,880.89 919.3,872.76 920.3,864.84 921.3,857.19 922.3,849.88 923.3,842.97 924.3,836.52 925.3,830.6 926.3,825.24 927.3,820.52 928.3,816.47 929.3,813.12 930.3,810.52 931.3,808.7 932.3,807.66 933.3,807.42 934.3,807.97 935.3,809.32 936.3,811.45 937.3,814.33 938.3,817.93 939.3,822.23 940.3,827.18 941.3,832.73 942.3,838.82 943.3,845.41 944.3,852.44 945.3,859.83 946.3,867.54 947.3,875.49 948.3,883.62 949.3,891.88 950.3,900.19 951.3,908.51 952.3,916.78 953.3,924.95 954.3,932.98 955.3,940.82 956.3,948.44 957.3,955.81 958.3,962.9 959.3,969.69 960.3,976.17 961.3,982.31 962.3,988.12 963.3,993.59 964.3,998.73 965.3,1003.52 966.3,1007.99 967.3,1012.13 968.3,1015.97 969.3,1019.51 970.3,1022.77 971.3,1025.76 972.3,1028.49 973.3,1031 974.3,1033.28 975.3,1035.36 976.3,1037.25 977.3,1038.98 978.3,1040.54 979.3,1041.97 980.3,1043.27 981.3,1044.45 982.3,1045.53 983.3,1046.51 984.3,1047.41 985.3,1048.24 986.3,1049 987.3,1049.7 988.3,1050.36 989.3,1050.96 990.3,1051.52 991.3,1052.05 992.3,1052.55 993.3,1053.01 994.3,1053.45 995.3,1053.87 996.3,1054.26 997.3,1054.64 998.3,1055 999.3,1055.34 1000.3,1055.67 1001.3,1055.98 1002.3,1056.28 1003.3,1056.57 1004.3,1056.84 1005.3,1057.11 1006.3,1057.36 1007.3,1057.6 1008.3,1057.84 1009.3,1058.06 1010.3,1058.28 1011.3,1058.48 1012.3,1058.68 1013.3,1058.87 1014.3,1059.05 1015.3,1059.22 1016.3,1059.39 1017.3,1059.55 1018.3,1059.7 1019.3,1059.84 1020.3,1059.98 1021.3,1060.11 1022.3,1060.23 1023.3,1060.35 1024.3,1060.46 1025.3,1060.57 1026.3,1060.67 1027.3,1060.77 1028.3,1060.86 1029.3,1060.94 1030.3,1061.02 1031.3,1061.1 1032.3,1061.17 1033.3,1061.24 1034.3,1061.31 1035.3,1061.37 1036.3,1061.42 1037.3,1061.48 1038.3,1061.53 1039.3,1061.57 1040.3,1061.62 1041.3,1061.66 1042.3,1061.7 1043.3,1061.74 1044.3,1061.77 1045.3,1061.8 1046.3,1061.83 1047.3,1061.86 1048.3,1061.89 1049.3,1061.91 1050.3,1061.93 1051.3,1061.95 1052.3,1061.97 1053.3,1061.99 1054.3,1062.01 1055.3,1062.02 1056.3,1062.04 1057.3,1062.05 1058.3,1062.06 1059.3,1062.07 1060.3,1062.08 1061.3,1062.09 1062.3,1062.1 1063.3,1062.11 1064.3,1062.12 1065.3,1062.13 1066.3,1062.13 1067.3,1062.14 1068.3,1062.14 1069.3,1062.15 1070.3,1062.15 1071.3,1062.16 1072.3,1062.16 1073.3,1062.17 1074.3,1062.17 1075.3,1062.17 1076.3,1062.17 1077.3,1062.18 1078.3,1062.18 1079.3,1062.18 1080.3,1062.18 1081.3,1062.18 1082.3,1062.19 1083.3,1062.19 1084.3,1062.19 1085.3,1062.19 1086.3,1062.19 1087.3,1062.19 1088.3,1062.19 1089.3,1062.19 1090.3,1062.19 1091.3,1062.19 1092.3,1062.2 1093.3,1062.2 1094.3,1062.2 1095.3,1062.2 1096.3,1062.2 1097.3,1062.2 1098.3,1062.2 1099.3,1062.2 1100.3,1062.2 1101.3,1062.2 1102.3,1062.2 1103.3,1062.2 1104.3,1062.2 1105.3,1062.2 1106.3,1062.2 1107.3,1062.2 1108.3,1062.2 1109.3,1062.2 1110.3,1062.2 1111.3,1062.2 1112.3,1062.2 1113.3,1062.2 1114.3,1062.2 1115.3,1062.2 1116.3,1062.2 1117.3,1062.2 1118.3,1062.2" fill="none" stroke="#3f8eee" stroke-width="1.2"/>
<linearGradient id="plg1" gradientUnits="userSpaceOnUse" x1="0" y1="873.3" x2="0" y2="1062.2"><stop offset="0" stop-color="#a8cffb"/><stop offset="0.5" stop-color="#c6dffc"/><stop offset="1" stop-color="#ffffff"/></linearGradient>
<polygon points="791.3,1062.2 791.3,1062.2 792.3,1062.2 793.3,1062.2 794.3,1062.19 795.3,1062.19 796.3,1062.19 797.3,1062.19 798.3,1062.19 799.3,1062.19 800.3,1062.19 801.3,1062.19 802.3,1062.19 803.3,1062.18 804.3,1062.18 805.3,1062.18 806.3,1062.18 807.3,1062.18 808.3,1062.17 809.3,1062.17 810.3,1062.17 811.3,1062.16 812.3,1062.16 813.3,1062.15 814.3,1062.15 815.3,1062.14 816.3,1062.14 817.3,1062.13 818.3,1062.12 819.3,1062.12 820.3,1062.11 821.3,1062.1 822.3,1062.09 823.3,1062.08 824.3,1062.06 825.3,1062.05 826.3,1062.04 827.3,1062.02 828.3,1062 829.3,1061.99 830.3,1061.97 831.3,1061.94 832.3,1061.92 833.3,1061.89 834.3,1061.87 835.3,1061.84 836.3,1061.81 837.3,1061.77 838.3,1061.74 839.3,1061.7 840.3,1061.65 841.3,1061.61 842.3,1061.56 843.3,1061.51 844.3,1061.45 845.3,1061.39 846.3,1061.33 847.3,1061.26 848.3,1061.19 849.3,1061.11 850.3,1061.03 851.3,1060.94 852.3,1060.85 853.3,1060.75 854.3,1060.65 855.3,1060.54 856.3,1060.43 857.3,1060.3 858.3,1060.17 859.3,1060.04 860.3,1059.89 861.3,1059.74 862.3,1059.58 863.3,1059.41 864.3,1059.23 865.3,1059.04 866.3,1058.84 867.3,1058.62 868.3,1058.4 869.3,1058.16 870.3,1057.9 871.3,1057.63 872.3,1057.34 873.3,1057.03 874.3,1056.7 875.3,1056.34 876.3,1055.96 877.3,1055.54 878.3,1055.09 879.3,1054.61 880.3,1054.08 881.3,1053.5 882.3,1052.86 883.3,1052.17 884.3,1051.41 885.3,1050.57 886.3,1049.65 887.3,1048.64 888.3,1047.52 889.3,1046.3 890.3,1044.95 891.3,1043.46 892.3,1041.83 893.3,1040.05 894.3,1038.09 895.3,1035.95 896.3,1033.62 897.3,1031.08 898.3,1028.32 899.3,1025.34 900.3,1022.12 901.3,1018.66 902.3,1014.96 903.3,1011 904.3,1006.78 905.3,1002.32 906.3,997.61 907.3,992.65 908.3,987.47 909.3,982.07 910.3,976.47 911.3,970.69 912.3,964.76 913.3,958.71 914.3,952.56 915.3,946.35 916.3,940.13 917.3,933.92 918.3,927.78 919.3,921.75 920.3,915.88 921.3,910.21 922.3,904.79 923.3,899.67 924.3,894.89 925.3,890.5 926.3,886.53 927.3,883.03 928.3,880.02 929.3,877.54 930.3,875.62 931.3,874.26 932.3,873.49 933.3,873.31 934.3,873.72 935.3,874.72 936.3,876.3 937.3,878.43 938.3,881.11 939.3,884.29 940.3,887.96 941.3,892.08 942.3,896.6 943.3,901.48 944.3,906.69 945.3,912.17 946.3,917.88 947.3,923.78 948.3,929.81 949.3,935.93 950.3,942.09 951.3,948.26 952.3,954.39 953.3,960.45 954.3,966.4 955.3,972.21 956.3,977.86 957.3,983.33 958.3,988.58 959.3,993.62 960.3,998.42 961.3,1002.97 962.3,1007.28 963.3,1011.34 964.3,1015.14 965.3,1018.7 966.3,1022.01 967.3,1025.08 968.3,1027.93 969.3,1030.55 970.3,1032.97 971.3,1035.18 972.3,1037.21 973.3,1039.07 974.3,1040.76 975.3,1042.3 976.3,1043.71 977.3,1044.98 978.3,1046.14 979.3,1047.2 980.3,1048.16 981.3,1049.04 982.3,1049.84 983.3,1050.57 984.3,1051.24 985.3,1051.85 986.3,1052.42 987.3,1052.94 988.3,1053.42 989.3,1053.87 990.3,1054.29 991.3,1054.68 992.3,1055.04 993.3,1055.39 994.3,1055.71 995.3,1056.02 996.3,1056.32 997.3,1056.59 998.3,1056.86 999.3,1057.11 1000.3,1057.36 1001.3,1057.59 1002.3,1057.81 1003.3,1058.02 1004.3,1058.23 1005.3,1058.42 1006.3,1058.61 1007.3,1058.79 1008.3,1058.97 1009.3,1059.13 1010.3,1059.29 1011.3,1059.44 1012.3,1059.59 1013.3,1059.73 1014.3,1059.86 1015.3,1059.99 1016.3,1060.12 1017.3,1060.23 1018.3,1060.34 1019.3,1060.45 1020.3,1060.55 1021.3,1060.65 1022.3,1060.74 1023.3,1060.83 1024.3,1060.91 1025.3,1060.99 1026.3,1061.07 1027.3,1061.14 1028.3,1061.2 1029.3,1061.27 1030.3,1061.33 1031.3,1061.38 1032.3,1061.44 1033.3,1061.49 1034.3,1061.54 1035.3,1061.58 1036.3,1061.62 1037.3,1061.66 1038.3,1061.7 1039.3,1061.74 1040.3,1061.77 1041.3,1061.8 1042.3,1061.83 1043.3,1061.86 1044.3,1061.88 1045.3,1061.9 1046.3,1061.93 1047.3,1061.95 1048.3,1061.97 1049.3,1061.98 1050.3,1062 1051.3,1062.02 1052.3,1062.03 1053.3,1062.04 1054.3,1062.06 1055.3,1062.07 1056.3,1062.08 1057.3,1062.09 1058.3,1062.1 1059.3,1062.11 1060.3,1062.11 1061.3,1062.12 1062.3,1062.13 1063.3,1062.13 1064.3,1062.14 1065.3,1062.15 1066.3,1062.15 1067.3,1062.15 1068.3,1062.16 1069.3,1062.16 1070.3,1062.17 1071.3,1062.17 1072.3,1062.17 1073.3,1062.17 1074.3,1062.18 1075.3,1062.18 1076.3,1062.18 1077.3,1062.18 1078.3,1062.18 1079.3,1062.19 1080.3,1062.19 1081.3,1062.19 1082.3,1062.19 1083.3,1062.19 1084.3,1062.19 1085.3,1062.19 1086.3,1062.19 1087.3,1062.19 1088.3,1062.19 1089.3,1062.19 1090.3,1062.2 1091.3,1062.2 1092.3,1062.2 1093.3,1062.2 1094.3,1062.2 1095.3,1062.2 1096.3,1062.2 1097.3,1062.2 1098.3,1062.2 1099.3,1062.2 1100.3,1062.2 1101.3,1062.2 1102.3,1062.2 1103.3,1062.2 1104.3,1062.2 1105.3,1062.2 1106.3,1062.2 1107.3,1062.2 1108.3,1062.2 1109.3,1062.2 1110.3,1062.2 1111.3,1062.2 1112.3,1062.2 1113.3,1062.2 1114.3,1062.2 1115.3,1062.2 1116.3,1062.2 1117.3,1062.2 1118.3,1062.2 1118.3,1062.2" fill="url(#plg1)"/>
<polyline points="791.3,1062.2 792.3,1062.2 793.3,1062.2 794.3,1062.19 795.3,1062.19 796.3,1062.19 797.3,1062.19 798.3,1062.19 799.3,1062.19 800.3,1062.19 801.3,1062.19 802.3,1062.19 803.3,1062.18 804.3,1062.18 805.3,1062.18 806.3,1062.18 807.3,1062.18 808.3,1062.17 809.3,1062.17 810.3,1062.17 811.3,1062.16 812.3,1062.16 813.3,1062.15 814.3,1062.15 815.3,1062.14 816.3,1062.14 817.3,1062.13 818.3,1062.12 819.3,1062.12 820.3,1062.11 821.3,1062.1 822.3,1062.09 823.3,1062.08 824.3,1062.06 825.3,1062.05 826.3,1062.04 827.3,1062.02 828.3,1062 829.3,1061.99 830.3,1061.97 831.3,1061.94 832.3,1061.92 833.3,1061.89 834.3,1061.87 835.3,1061.84 836.3,1061.81 837.3,1061.77 838.3,1061.74 839.3,1061.7 840.3,1061.65 841.3,1061.61 842.3,1061.56 843.3,1061.51 844.3,1061.45 845.3,1061.39 846.3,1061.33 847.3,1061.26 848.3,1061.19 849.3,1061.11 850.3,1061.03 851.3,1060.94 852.3,1060.85 853.3,1060.75 854.3,1060.65 855.3,1060.54 856.3,1060.43 857.3,1060.3 858.3,1060.17 859.3,1060.04 860.3,1059.89 861.3,1059.74 862.3,1059.58 863.3,1059.41 864.3,1059.23 865.3,1059.04 866.3,1058.84 867.3,1058.62 868.3,1058.4 869.3,1058.16 870.3,1057.9 871.3,1057.63 872.3,1057.34 873.3,1057.03 874.3,1056.7 875.3,1056.34 876.3,1055.96 877.3,1055.54 878.3,1055.09 879.3,1054.61 880.3,1054.08 881.3,1053.5 882.3,1052.86 883.3,1052.17 884.3,1051.41 885.3,1050.57 886.3,1049.65 887.3,1048.64 888.3,1047.52 889.3,1046.3 890.3,1044.95 891.3,1043.46 892.3,1041.83 893.3,1040.05 894.3,1038.09 895.3,1035.95 896.3,1033.62 897.3,1031.08 898.3,1028.32 899.3,1025.34 900.3,1022.12 901.3,1018.66 902.3,1014.96 903.3,1011 904.3,1006.78 905.3,1002.32 906.3,997.61 907.3,992.65 908.3,987.47 909.3,982.07 910.3,976.47 911.3,970.69 912.3,964.76 913.3,958.71 914.3,952.56 915.3,946.35 916.3,940.13 917.3,933.92 918.3,927.78 919.3,921.75 920.3,915.88 921.3,910.21 922.3,904.79 923.3,899.67 924.3,894.89 925.3,890.5 926.3,886.53 927.3,883.03 928.3,880.02 929.3,877.54 930.3,875.62 931.3,874.26 932.3,873.49 933.3,873.31 934.3,873.72 935.3,874.72 936.3,876.3 937.3,878.43 938.3,881.11 939.3,884.29 940.3,887.96 941.3,892.08 942.3,896.6 943.3,901.48 944.3,906.69 945.3,912.17 946.3,917.88 947.3,923.78 948.3,929.81 949.3,935.93 950.3,942.09 951.3,948.26 952.3,954.39 953.3,960.45 954.3,966.4 955.3,972.21 956.3,977.86 957.3,983.33 958.3,988.58 959.3,993.62 960.3,998.42 961.3,1002.97 962.3,1007.28 963.3,1011.34 964.3,1015.14 965.3,1018.7 966.3,1022.01 967.3,1025.08 968.3,1027.93 969.3,1030.55 970.3,1032.97 971.3,1035.18 972.3,1037.21 973.3,1039.07 974.3,1040.76 975.3,1042.3 976.3,1043.71 977.3,1044.98 978.3,1046.14 979.3,1047.2 980.3,1048.16 981.3,1049.04 982.3,1049.84 983.3,1050.57 984.3,1051.24 985.3,1051.85 986.3,1052.42 987.3,1052.94 988.3,1053.42 989.3,1053.87 990.3,1054.29 991.3,1054.68 992.3,1055.04 993.3,1055.39 994.3,1055.71 995.3,1056.02 996.3,1056.32 997.3,1056.59 998.3,1056.86 999.3,1057.11 1000.3,1057.36 1001.3,1057.59 1002.3,1057.81 1003.3,1058.02 1004.3,1058.23 1005.3,1058.42 1006.3,1058.61 1007.3,1058.79 1008.3,1058.97 1009.3,1059.13 1010.3,1059.29 1011.3,1059.44 1012.3,1059.59 1013.3,1059.73 1014.3,1059.86 1015.3,1059.99 1016.3,1060.12 1017.3,1060.23 1018.3,1060.34 1019.3,1060.45 1020.3,1060.55 1021.3,1060.65 1022.3,1060.74 1023.3,1060.83 1024.3,1060.91 1025.3,1060.99 1026.3,1061.07 1027.3,1061.14 1028.3,1061.2 1029.3,1061.27 1030.3,1061.33 1031.3,1061.38 1032.3,1061.44 1033.3,1061.49 1034.3,1061.54 1035.3,1061.58 1036.3,1061.62 1037.3,1061.66 1038.3,1061.7 1039.3,1061.74 1040.3,1061.77 1041.3,1061.8 1042.3,1061.83 1043.3,1061.86 1044.3,1061.88 1045.3,1061.9 1046.3,1061.93 1047.3,1061.95 1048.3,1061.97 1049.3,1061.98 1050.3,1062 1051.3,1062.02 1052.3,1062.03 1053.3,1062.04 1054.3,1062.06 1055.3,1062.07 1056.3,1062.08 1057.3,1062.09 1058.3,1062.1 1059.3,1062.11 1060.3,1062.11 1061.3,1062.12 1062.3,1062.13 1063.3,1062.13 1064.3,1062.14 1065.3,1062.15 1066.3,1062.15 1067.3,1062.15 1068.3,1062.16 1069.3,1062.16 1070.3,1062.17 1071.3,1062.17 1072.3,1062.17 1073.3,1062.17 1074.3,1062.18 1075.3,1062.18 1076.3,1062.18 1077.3,1062.18 1078.3,1062.18 1079.3,1062.19 1080.3,1062.19 1081.3,1062.19 1082.3,1062.19 1083.3,1062.19 1084.3,1062.19 1085.3,1062.19 1086.3,1062.19 1087.3,1062.19 1088.3,1062.19 1089.3,1062.19 1090.3,1062.2 1091.3,1062.2 1092.3,1062.2 1093.3,1062.2 1094.3,1062.2 1095.3,1062.2 1096.3,1062.2 1097.3,1062.2 1098.3,1062.2 1099.3,1062.2 1100.3,1062.2 1101.3,1062.2 1102.3,1062.2 1103.3,1062.2 1104.3,1062.2 1105.3,1062.2 1106.3,1062.2 1107.3,1062.2 1108.3,1062.2 1109.3,1062.2 1110.3,1062.2 1111.3,1062.2 1112.3,1062.2 1113.3,1062.2 1114.3,1062.2 1115.3,1062.2 1116.3,1062.2 1117.3,1062.2 1118.3,1062.2" fill="none" stroke="#6fa9f3" stroke-width="1.0"/>
<linearGradient id="plg2" gradientUnits="userSpaceOnUse" x1="0" y1="933.7" x2="0" y2="1062.2"><stop offset="0" stop-color="#b9d8fc"/><stop offset="0.5" stop-color="#d2e6fd"/><stop offset="1" stop-color="#ffffff"/></linearGradient>
<polygon points="791.3,1062.2 791.3,1062.2 792.3,1062.2 793.3,1062.2 794.3,1062.2 795.3,1062.2 796.3,1062.2 797.3,1062.19 798.3,1062.19 799.3,1062.19 800.3,1062.19 801.3,1062.19 802.3,1062.19 803.3,1062.19 804.3,1062.19 805.3,1062.19 806.3,1062.19 807.3,1062.18 808.3,1062.18 809.3,1062.18 810.3,1062.18 811.3,1062.17 812.3,1062.17 813.3,1062.17 814.3,1062.17 815.3,1062.16 816.3,1062.16 817.3,1062.15 818.3,1062.15 819.3,1062.14 820.3,1062.14 821.3,1062.13 822.3,1062.12 823.3,1062.12 824.3,1062.11 825.3,1062.1 826.3,1062.09 827.3,1062.08 828.3,1062.07 829.3,1062.05 830.3,1062.04 831.3,1062.03 832.3,1062.01 833.3,1061.99 834.3,1061.97 835.3,1061.95 836.3,1061.93 837.3,1061.91 838.3,1061.88 839.3,1061.86 840.3,1061.83 841.3,1061.8 842.3,1061.76 843.3,1061.73 844.3,1061.69 845.3,1061.65 846.3,1061.61 847.3,1061.56 848.3,1061.51 849.3,1061.46 850.3,1061.4 851.3,1061.35 852.3,1061.28 853.3,1061.22 854.3,1061.15 855.3,1061.07 856.3,1060.99 857.3,1060.91 858.3,1060.82 859.3,1060.73 860.3,1060.63 861.3,1060.53 862.3,1060.42 863.3,1060.3 864.3,1060.18 865.3,1060.05 866.3,1059.91 867.3,1059.77 868.3,1059.61 869.3,1059.45 870.3,1059.28 871.3,1059.09 872.3,1058.89 873.3,1058.68 874.3,1058.46 875.3,1058.22 876.3,1057.95 877.3,1057.67 878.3,1057.37 879.3,1057.03 880.3,1056.67 881.3,1056.28 882.3,1055.85 883.3,1055.38 884.3,1054.86 885.3,1054.29 886.3,1053.66 887.3,1052.98 888.3,1052.22 889.3,1051.38 890.3,1050.46 891.3,1049.46 892.3,1048.35 893.3,1047.13 894.3,1045.8 895.3,1044.34 896.3,1042.76 897.3,1041.03 898.3,1039.15 899.3,1037.13 900.3,1034.94 901.3,1032.58 902.3,1030.06 903.3,1027.37 904.3,1024.5 905.3,1021.47 906.3,1018.26 907.3,1014.89 908.3,1011.36 909.3,1007.69 910.3,1003.88 911.3,999.95 912.3,995.92 913.3,991.8 914.3,987.62 915.3,983.39 916.3,979.16 917.3,974.94 918.3,970.76 919.3,966.66 920.3,962.67 921.3,958.81 922.3,955.12 923.3,951.64 924.3,948.39 925.3,945.4 926.3,942.7 927.3,940.32 928.3,938.27 929.3,936.59 930.3,935.28 931.3,934.35 932.3,933.83 933.3,933.71 934.3,933.99 935.3,934.67 936.3,935.74 937.3,937.19 938.3,939.01 939.3,941.18 940.3,943.67 941.3,946.47 942.3,949.55 943.3,952.87 944.3,956.41 945.3,960.14 946.3,964.03 947.3,968.04 948.3,972.14 949.3,976.3 950.3,980.5 951.3,984.69 952.3,988.86 953.3,992.98 954.3,997.03 955.3,1000.99 956.3,1004.83 957.3,1008.55 958.3,1012.12 959.3,1015.55 960.3,1018.81 961.3,1021.91 962.3,1024.84 963.3,1027.6 964.3,1030.19 965.3,1032.61 966.3,1034.86 967.3,1036.95 968.3,1038.89 969.3,1040.67 970.3,1042.31 971.3,1043.82 972.3,1045.2 973.3,1046.46 974.3,1047.61 975.3,1048.66 976.3,1049.62 977.3,1050.49 978.3,1051.28 979.3,1052 980.3,1052.65 981.3,1053.25 982.3,1053.79 983.3,1054.29 984.3,1054.74 985.3,1055.16 986.3,1055.54 987.3,1055.9 988.3,1056.23 989.3,1056.53 990.3,1056.82 991.3,1057.08 992.3,1057.33 993.3,1057.57 994.3,1057.79 995.3,1058 996.3,1058.2 997.3,1058.39 998.3,1058.57 999.3,1058.74 1000.3,1058.9 1001.3,1059.06 1002.3,1059.21 1003.3,1059.36 1004.3,1059.5 1005.3,1059.63 1006.3,1059.76 1007.3,1059.88 1008.3,1060 1009.3,1060.11 1010.3,1060.22 1011.3,1060.32 1012.3,1060.42 1013.3,1060.52 1014.3,1060.61 1015.3,1060.7 1016.3,1060.78 1017.3,1060.86 1018.3,1060.94 1019.3,1061.01 1020.3,1061.08 1021.3,1061.15 1022.3,1061.21 1023.3,1061.27 1024.3,1061.32 1025.3,1061.38 1026.3,1061.43 1027.3,1061.48 1028.3,1061.52 1029.3,1061.57 1030.3,1061.61 1031.3,1061.65 1032.3,1061.68 1033.3,1061.72 1034.3,1061.75 1035.3,1061.78 1036.3,1061.81 1037.3,1061.84 1038.3,1061.86 1039.3,1061.88 1040.3,1061.91 1041.3,1061.93 1042.3,1061.95 1043.3,1061.97 1044.3,1061.98 1045.3,1062 1046.3,1062.01 1047.3,1062.03 1048.3,1062.04 1049.3,1062.05 1050.3,1062.06 1051.3,1062.08 1052.3,1062.09 1053.3,1062.09 1054.3,1062.1 1055.3,1062.11 1056.3,1062.12 1057.3,1062.12 1058.3,1062.13 1059.3,1062.14 1060.3,1062.14 1061.3,1062.15 1062.3,1062.15 1063.3,1062.16 1064.3,1062.16 1065.3,1062.16 1066.3,1062.17 1067.3,1062.17 1068.3,1062.17 1069.3,1062.17 1070.3,1062.18 1071.3,1062.18 1072.3,1062.18 1073.3,1062.18 1074.3,1062.18 1075.3,1062.19 1076.3,1062.19 1077.3,1062.19 1078.3,1062.19 1079.3,1062.19 1080.3,1062.19 1081.3,1062.19 1082.3,1062.19 1083.3,1062.19 1084.3,1062.19 1085.3,1062.19 1086.3,1062.2 1087.3,1062.2 1088.3,1062.2 1089.3,1062.2 1090.3,1062.2 1091.3,1062.2 1092.3,1062.2 1093.3,1062.2 1094.3,1062.2 1095.3,1062.2 1096.3,1062.2 1097.3,1062.2 1098.3,1062.2 1099.3,1062.2 1100.3,1062.2 1101.3,1062.2 1102.3,1062.2 1103.3,1062.2 1104.3,1062.2 1105.3,1062.2 1106.3,1062.2 1107.3,1062.2 1108.3,1062.2 1109.3,1062.2 1110.3,1062.2 1111.3,1062.2 1112.3,1062.2 1113.3,1062.2 1114.3,1062.2 1115.3,1062.2 1116.3,1062.2 1117.3,1062.2 1118.3,1062.2 1118.3,1062.2" fill="url(#plg2)"/>
<polyline points="791.3,1062.2 792.3,1062.2 793.3,1062.2 794.3,1062.2 795.3,1062.2 796.3,1062.2 797.3,1062.19 798.3,1062.19 799.3,1062.19 800.3,1062.19 801.3,1062.19 802.3,1062.19 803.3,1062.19 804.3,1062.19 805.3,1062.19 806.3,1062.19 807.3,1062.18 808.3,1062.18 809.3,1062.18 810.3,1062.18 811.3,1062.17 812.3,1062.17 813.3,1062.17 814.3,1062.17 815.3,1062.16 816.3,1062.16 817.3,1062.15 818.3,1062.15 819.3,1062.14 820.3,1062.14 821.3,1062.13 822.3,1062.12 823.3,1062.12 824.3,1062.11 825.3,1062.1 826.3,1062.09 827.3,1062.08 828.3,1062.07 829.3,1062.05 830.3,1062.04 831.3,1062.03 832.3,1062.01 833.3,1061.99 834.3,1061.97 835.3,1061.95 836.3,1061.93 837.3,1061.91 838.3,1061.88 839.3,1061.86 840.3,1061.83 841.3,1061.8 842.3,1061.76 843.3,1061.73 844.3,1061.69 845.3,1061.65 846.3,1061.61 847.3,1061.56 848.3,1061.51 849.3,1061.46 850.3,1061.4 851.3,1061.35 852.3,1061.28 853.3,1061.22 854.3,1061.15 855.3,1061.07 856.3,1060.99 857.3,1060.91 858.3,1060.82 859.3,1060.73 860.3,1060.63 861.3,1060.53 862.3,1060.42 863.3,1060.3 864.3,1060.18 865.3,1060.05 866.3,1059.91 867.3,1059.77 868.3,1059.61 869.3,1059.45 870.3,1059.28 871.3,1059.09 872.3,1058.89 873.3,1058.68 874.3,1058.46 875.3,1058.22 876.3,1057.95 877.3,1057.67 878.3,1057.37 879.3,1057.03 880.3,1056.67 881.3,1056.28 882.3,1055.85 883.3,1055.38 884.3,1054.86 885.3,1054.29 886.3,1053.66 887.3,1052.98 888.3,1052.22 889.3,1051.38 890.3,1050.46 891.3,1049.46 892.3,1048.35 893.3,1047.13 894.3,1045.8 895.3,1044.34 896.3,1042.76 897.3,1041.03 898.3,1039.15 899.3,1037.13 900.3,1034.94 901.3,1032.58 902.3,1030.06 903.3,1027.37 904.3,1024.5 905.3,1021.47 906.3,1018.26 907.3,1014.89 908.3,1011.36 909.3,1007.69 910.3,1003.88 911.3,999.95 912.3,995.92 913.3,991.8 914.3,987.62 915.3,983.39 916.3,979.16 917.3,974.94 918.3,970.76 919.3,966.66 920.3,962.67 921.3,958.81 922.3,955.12 923.3,951.64 924.3,948.39 925.3,945.4 926.3,942.7 927.3,940.32 928.3,938.27 929.3,936.59 930.3,935.28 931.3,934.35 932.3,933.83 933.3,933.71 934.3,933.99 935.3,934.67 936.3,935.74 937.3,937.19 938.3,939.01 939.3,941.18 940.3,943.67 941.3,946.47 942.3,949.55 943.3,952.87 944.3,956.41 945.3,960.14 946.3,964.03 947.3,968.04 948.3,972.14 949.3,976.3 950.3,980.5 951.3,984.69 952.3,988.86 953.3,992.98 954.3,997.03 955.3,1000.99 956.3,1004.83 957.3,1008.55 958.3,1012.12 959.3,1015.55 960.3,1018.81 961.3,1021.91 962.3,1024.84 963.3,1027.6 964.3,1030.19 965.3,1032.61 966.3,1034.86 967.3,1036.95 968.3,1038.89 969.3,1040.67 970.3,1042.31 971.3,1043.82 972.3,1045.2 973.3,1046.46 974.3,1047.61 975.3,1048.66 976.3,1049.62 977.3,1050.49 978.3,1051.28 979.3,1052 980.3,1052.65 981.3,1053.25 982.3,1053.79 983.3,1054.29 984.3,1054.74 985.3,1055.16 986.3,1055.54 987.3,1055.9 988.3,1056.23 989.3,1056.53 990.3,1056.82 991.3,1057.08 992.3,1057.33 993.3,1057.57 994.3,1057.79 995.3,1058 996.3,1058.2 997.3,1058.39 998.3,1058.57 999.3,1058.74 1000.3,1058.9 1001.3,1059.06 1002.3,1059.21 1003.3,1059.36 1004.3,1059.5 1005.3,1059.63 1006.3,1059.76 1007.3,1059.88 1008.3,1060 1009.3,1060.11 1010.3,1060.22 1011.3,1060.32 1012.3,1060.42 1013.3,1060.52 1014.3,1060.61 1015.3,1060.7 1016.3,1060.78 1017.3,1060.86 1018.3,1060.94 1019.3,1061.01 1020.3,1061.08 1021.3,1061.15 1022.3,1061.21 1023.3,1061.27 1024.3,1061.32 1025.3,1061.38 1026.3,1061.43 1027.3,1061.48 1028.3,1061.52 1029.3,1061.57 1030.3,1061.61 1031.3,1061.65 1032.3,1061.68 1033.3,1061.72 1034.3,1061.75 1035.3,1061.78 1036.3,1061.81 1037.3,1061.84 1038.3,1061.86 1039.3,1061.88 1040.3,1061.91 1041.3,1061.93 1042.3,1061.95 1043.3,1061.97 1044.3,1061.98 1045.3,1062 1046.3,1062.01 1047.3,1062.03 1048.3,1062.04 1049.3,1062.05 1050.3,1062.06 1051.3,1062.08 1052.3,1062.09 1053.3,1062.09 1054.3,1062.1 1055.3,1062.11 1056.3,1062.12 1057.3,1062.12 1058.3,1062.13 1059.3,1062.14 1060.3,1062.14 1061.3,1062.15 1062.3,1062.15 1063.3,1062.16 1064.3,1062.16 1065.3,1062.16 1066.3,1062.17 1067.3,1062.17 1068.3,1062.17 1069.3,1062.17 1070.3,1062.18 1071.3,1062.18 1072.3,1062.18 1073.3,1062.18 1074.3,1062.18 1075.3,1062.19 1076.3,1062.19 1077.3,1062.19 1078.3,1062.19 1079.3,1062.19 1080.3,1062.19 1081.3,1062.19 1082.3,1062.19 1083.3,1062.19 1084.3,1062.19 1085.3,1062.19 1086.3,1062.2 1087.3,1062.2 1088.3,1062.2 1089.3,1062.2 1090.3,1062.2 1091.3,1062.2 1092.3,1062.2 1093.3,1062.2 1094.3,1062.2 1095.3,1062.2 1096.3,1062.2 1097.3,1062.2 1098.3,1062.2 1099.3,1062.2 1100.3,1062.2 1101.3,1062.2 1102.3,1062.2 1103.3,1062.2 1104.3,1062.2 1105.3,1062.2 1106.3,1062.2 1107.3,1062.2 1108.3,1062.2 1109.3,1062.2 1110.3,1062.2 1111.3,1062.2 1112.3,1062.2 1113.3,1062.2 1114.3,1062.2 1115.3,1062.2 1116.3,1062.2 1117.3,1062.2 1118.3,1062.2" fill="none" stroke="#5d9ff1" stroke-width="1.0"/>
<linearGradient id="plg3" gradientUnits="userSpaceOnUse" x1="0" y1="970.2" x2="0" y2="1062.2"><stop offset="0" stop-color="#84b8f6"/><stop offset="0.35" stop-color="#a6ccf9"/><stop offset="0.7" stop-color="#d6e8fd"/><stop offset="1" stop-color="#ffffff"/></linearGradient>
<polygon points="791.3,1062.2 791.3,1062.2 792.3,1062.2 793.3,1062.2 794.3,1062.2 795.3,1062.2 796.3,1062.2 797.3,1062.2 798.3,1062.2 799.3,1062.2 800.3,1062.19 801.3,1062.19 802.3,1062.19 803.3,1062.19 804.3,1062.19 805.3,1062.19 806.3,1062.19 807.3,1062.19 808.3,1062.19 809.3,1062.19 810.3,1062.18 811.3,1062.18 812.3,1062.18 813.3,1062.18 814.3,1062.18 815.3,1062.17 816.3,1062.17 817.3,1062.17 818.3,1062.16 819.3,1062.16 820.3,1062.16 821.3,1062.15 822.3,1062.15 823.3,1062.14 824.3,1062.13 825.3,1062.13 826.3,1062.12 827.3,1062.11 828.3,1062.1 829.3,1062.1 830.3,1062.09 831.3,1062.08 832.3,1062.06 833.3,1062.05 834.3,1062.04 835.3,1062.02 836.3,1062.01 837.3,1061.99 838.3,1061.97 839.3,1061.95 840.3,1061.93 841.3,1061.91 842.3,1061.89 843.3,1061.86 844.3,1061.84 845.3,1061.81 846.3,1061.78 847.3,1061.74 848.3,1061.71 849.3,1061.67 850.3,1061.63 851.3,1061.59 852.3,1061.54 853.3,1061.5 854.3,1061.45 855.3,1061.39 856.3,1061.34 857.3,1061.28 858.3,1061.21 859.3,1061.15 860.3,1061.08 861.3,1061 862.3,1060.92 863.3,1060.84 864.3,1060.75 865.3,1060.66 866.3,1060.56 867.3,1060.46 868.3,1060.35 869.3,1060.23 870.3,1060.11 871.3,1059.97 872.3,1059.83 873.3,1059.68 874.3,1059.52 875.3,1059.35 876.3,1059.16 877.3,1058.96 878.3,1058.74 879.3,1058.5 880.3,1058.24 881.3,1057.96 882.3,1057.65 883.3,1057.31 884.3,1056.94 885.3,1056.54 886.3,1056.09 887.3,1055.6 888.3,1055.05 889.3,1054.46 890.3,1053.8 891.3,1053.08 892.3,1052.28 893.3,1051.41 894.3,1050.46 895.3,1049.42 896.3,1048.28 897.3,1047.04 898.3,1045.7 899.3,1044.25 900.3,1042.68 901.3,1041 902.3,1039.19 903.3,1037.26 904.3,1035.21 905.3,1033.04 906.3,1030.74 907.3,1028.33 908.3,1025.8 909.3,1023.17 910.3,1020.45 911.3,1017.63 912.3,1014.74 913.3,1011.8 914.3,1008.8 915.3,1005.78 916.3,1002.75 917.3,999.72 918.3,996.73 919.3,993.8 920.3,990.94 921.3,988.18 922.3,985.54 923.3,983.04 924.3,980.72 925.3,978.58 926.3,976.64 927.3,974.94 928.3,973.47 929.3,972.27 930.3,971.33 931.3,970.67 932.3,970.29 933.3,970.21 934.3,970.41 935.3,970.89 936.3,971.66 937.3,972.7 938.3,974 939.3,975.55 940.3,977.34 941.3,979.34 942.3,981.55 943.3,983.93 944.3,986.46 945.3,989.13 946.3,991.91 947.3,994.78 948.3,997.72 949.3,1000.7 950.3,1003.7 951.3,1006.71 952.3,1009.69 953.3,1012.64 954.3,1015.54 955.3,1018.37 956.3,1021.13 957.3,1023.79 958.3,1026.35 959.3,1028.8 960.3,1031.14 961.3,1033.36 962.3,1035.45 963.3,1037.43 964.3,1039.28 965.3,1041.01 966.3,1042.63 967.3,1044.12 968.3,1045.51 969.3,1046.79 970.3,1047.96 971.3,1049.04 972.3,1050.03 973.3,1050.93 974.3,1051.76 975.3,1052.51 976.3,1053.19 977.3,1053.81 978.3,1054.38 979.3,1054.9 980.3,1055.36 981.3,1055.79 982.3,1056.18 983.3,1056.54 984.3,1056.86 985.3,1057.16 986.3,1057.43 987.3,1057.69 988.3,1057.92 989.3,1058.14 990.3,1058.35 991.3,1058.54 992.3,1058.71 993.3,1058.88 994.3,1059.04 995.3,1059.19 996.3,1059.33 997.3,1059.47 998.3,1059.6 999.3,1059.72 1000.3,1059.84 1001.3,1059.95 1002.3,1060.06 1003.3,1060.17 1004.3,1060.27 1005.3,1060.36 1006.3,1060.45 1007.3,1060.54 1008.3,1060.62 1009.3,1060.71 1010.3,1060.78 1011.3,1060.86 1012.3,1060.93 1013.3,1061 1014.3,1061.06 1015.3,1061.12 1016.3,1061.18 1017.3,1061.24 1018.3,1061.3 1019.3,1061.35 1020.3,1061.4 1021.3,1061.44 1022.3,1061.49 1023.3,1061.53 1024.3,1061.57 1025.3,1061.61 1026.3,1061.65 1027.3,1061.68 1028.3,1061.71 1029.3,1061.75 1030.3,1061.78 1031.3,1061.8 1032.3,1061.83 1033.3,1061.85 1034.3,1061.88 1035.3,1061.9 1036.3,1061.92 1037.3,1061.94 1038.3,1061.96 1039.3,1061.97 1040.3,1061.99 1041.3,1062.01 1042.3,1062.02 1043.3,1062.03 1044.3,1062.04 1045.3,1062.06 1046.3,1062.07 1047.3,1062.08 1048.3,1062.09 1049.3,1062.1 1050.3,1062.1 1051.3,1062.11 1052.3,1062.12 1053.3,1062.12 1054.3,1062.13 1055.3,1062.14 1056.3,1062.14 1057.3,1062.15 1058.3,1062.15 1059.3,1062.15 1060.3,1062.16 1061.3,1062.16 1062.3,1062.17 1063.3,1062.17 1064.3,1062.17 1065.3,1062.17 1066.3,1062.18 1067.3,1062.18 1068.3,1062.18 1069.3,1062.18 1070.3,1062.18 1071.3,1062.18 1072.3,1062.19 1073.3,1062.19 1074.3,1062.19 1075.3,1062.19 1076.3,1062.19 1077.3,1062.19 1078.3,1062.19 1079.3,1062.19 1080.3,1062.19 1081.3,1062.19 1082.3,1062.19 1083.3,1062.2 1084.3,1062.2 1085.3,1062.2 1086.3,1062.2 1087.3,1062.2 1088.3,1062.2 1089.3,1062.2 1090.3,1062.2 1091.3,1062.2 1092.3,1062.2 1093.3,1062.2 1094.3,1062.2 1095.3,1062.2 1096.3,1062.2 1097.3,1062.2 1098.3,1062.2 1099.3,1062.2 1100.3,1062.2 1101.3,1062.2 1102.3,1062.2 1103.3,1062.2 1104.3,1062.2 1105.3,1062.2 1106.3,1062.2 1107.3,1062.2 1108.3,1062.2 1109.3,1062.2 1110.3,1062.2 1111.3,1062.2 1112.3,1062.2 1113.3,1062.2 1114.3,1062.2 1115.3,1062.2 1116.3,1062.2 1117.3,1062.2 1118.3,1062.2 1118.3,1062.2" fill="url(#plg3)"/>
<polyline points="791.3,1062.2 792.3,1062.2 793.3,1062.2 794.3,1062.2 795.3,1062.2 796.3,1062.2 797.3,1062.2 798.3,1062.2 799.3,1062.2 800.3,1062.19 801.3,1062.19 802.3,1062.19 803.3,1062.19 804.3,1062.19 805.3,1062.19 806.3,1062.19 807.3,1062.19 808.3,1062.19 809.3,1062.19 810.3,1062.18 811.3,1062.18 812.3,1062.18 813.3,1062.18 814.3,1062.18 815.3,1062.17 816.3,1062.17 817.3,1062.17 818.3,1062.16 819.3,1062.16 820.3,1062.16 821.3,1062.15 822.3,1062.15 823.3,1062.14 824.3,1062.13 825.3,1062.13 826.3,1062.12 827.3,1062.11 828.3,1062.1 829.3,1062.1 830.3,1062.09 831.3,1062.08 832.3,1062.06 833.3,1062.05 834.3,1062.04 835.3,1062.02 836.3,1062.01 837.3,1061.99 838.3,1061.97 839.3,1061.95 840.3,1061.93 841.3,1061.91 842.3,1061.89 843.3,1061.86 844.3,1061.84 845.3,1061.81 846.3,1061.78 847.3,1061.74 848.3,1061.71 849.3,1061.67 850.3,1061.63 851.3,1061.59 852.3,1061.54 853.3,1061.5 854.3,1061.45 855.3,1061.39 856.3,1061.34 857.3,1061.28 858.3,1061.21 859.3,1061.15 860.3,1061.08 861.3,1061 862.3,1060.92 863.3,1060.84 864.3,1060.75 865.3,1060.66 866.3,1060.56 867.3,1060.46 868.3,1060.35 869.3,1060.23 870.3,1060.11 871.3,1059.97 872.3,1059.83 873.3,1059.68 874.3,1059.52 875.3,1059.35 876.3,1059.16 877.3,1058.96 878.3,1058.74 879.3,1058.5 880.3,1058.24 881.3,1057.96 882.3,1057.65 883.3,1057.31 884.3,1056.94 885.3,1056.54 886.3,1056.09 887.3,1055.6 888.3,1055.05 889.3,1054.46 890.3,1053.8 891.3,1053.08 892.3,1052.28 893.3,1051.41 894.3,1050.46 895.3,1049.42 896.3,1048.28 897.3,1047.04 898.3,1045.7 899.3,1044.25 900.3,1042.68 901.3,1041 902.3,1039.19 903.3,1037.26 904.3,1035.21 905.3,1033.04 906.3,1030.74 907.3,1028.33 908.3,1025.8 909.3,1023.17 910.3,1020.45 911.3,1017.63 912.3,1014.74 913.3,1011.8 914.3,1008.8 915.3,1005.78 916.3,1002.75 917.3,999.72 918.3,996.73 919.3,993.8 920.3,990.94 921.3,988.18 922.3,985.54 923.3,983.04 924.3,980.72 925.3,978.58 926.3,976.64 927.3,974.94 928.3,973.47 929.3,972.27 930.3,971.33 931.3,970.67 932.3,970.29 933.3,970.21 934.3,970.41 935.3,970.89 936.3,971.66 937.3,972.7 938.3,974 939.3,975.55 940.3,977.34 941.3,979.34 942.3,981.55 943.3,983.93 944.3,986.46 945.3,989.13 946.3,991.91 947.3,994.78 948.3,997.72 949.3,1000.7 950.3,1003.7 951.3,1006.71 952.3,1009.69 953.3,1012.64 954.3,1015.54 955.3,1018.37 956.3,1021.13 957.3,1023.79 958.3,1026.35 959.3,1028.8 960.3,1031.14 961.3,1033.36 962.3,1035.45 963.3,1037.43 964.3,1039.28 965.3,1041.01 966.3,1042.63 967.3,1044.12 968.3,1045.51 969.3,1046.79 970.3,1047.96 971.3,1049.04 972.3,1050.03 973.3,1050.93 974.3,1051.76 975.3,1052.51 976.3,1053.19 977.3,1053.81 978.3,1054.38 979.3,1054.9 980.3,1055.36 981.3,1055.79 982.3,1056.18 983.3,1056.54 984.3,1056.86 985.3,1057.16 986.3,1057.43 987.3,1057.69 988.3,1057.92 989.3,1058.14 990.3,1058.35 991.3,1058.54 992.3,1058.71 993.3,1058.88 994.3,1059.04 995.3,1059.19 996.3,1059.33 997.3,1059.47 998.3,1059.6 999.3,1059.72 1000.3,1059.84 1001.3,1059.95 1002.3,1060.06 1003.3,1060.17 1004.3,1060.27 1005.3,1060.36 1006.3,1060.45 1007.3,1060.54 1008.3,1060.62 1009.3,1060.71 1010.3,1060.78 1011.3,1060.86 1012.3,1060.93 1013.3,1061 1014.3,1061.06 1015.3,1061.12 1016.3,1061.18 1017.3,1061.24 1018.3,1061.3 1019.3,1061.35 1020.3,1061.4 1021.3,1061.44 1022.3,1061.49 1023.3,1061.53 1024.3,1061.57 1025.3,1061.61 1026.3,1061.65 1027.3,1061.68 1028.3,1061.71 1029.3,1061.75 1030.3,1061.78 1031.3,1061.8 1032.3,1061.83 1033.3,1061.85 1034.3,1061.88 1035.3,1061.9 1036.3,1061.92 1037.3,1061.94 1038.3,1061.96 1039.3,1061.97 1040.3,1061.99 1041.3,1062.01 1042.3,1062.02 1043.3,1062.03 1044.3,1062.04 1045.3,1062.06 1046.3,1062.07 1047.3,1062.08 1048.3,1062.09 1049.3,1062.1 1050.3,1062.1 1051.3,1062.11 1052.3,1062.12 1053.3,1062.12 1054.3,1062.13 1055.3,1062.14 1056.3,1062.14 1057.3,1062.15 1058.3,1062.15 1059.3,1062.15 1060.3,1062.16 1061.3,1062.16 1062.3,1062.17 1063.3,1062.17 1064.3,1062.17 1065.3,1062.17 1066.3,1062.18 1067.3,1062.18 1068.3,1062.18 1069.3,1062.18 1070.3,1062.18 1071.3,1062.18 1072.3,1062.19 1073.3,1062.19 1074.3,1062.19 1075.3,1062.19 1076.3,1062.19 1077.3,1062.19 1078.3,1062.19 1079.3,1062.19 1080.3,1062.19 1081.3,1062.19 1082.3,1062.19 1083.3,1062.2 1084.3,1062.2 1085.3,1062.2 1086.3,1062.2 1087.3,1062.2 1088.3,1062.2 1089.3,1062.2 1090.3,1062.2 1091.3,1062.2 1092.3,1062.2 1093.3,1062.2 1094.3,1062.2 1095.3,1062.2 1096.3,1062.2 1097.3,1062.2 1098.3,1062.2 1099.3,1062.2 1100.3,1062.2 1101.3,1062.2 1102.3,1062.2 1103.3,1062.2 1104.3,1062.2 1105.3,1062.2 1106.3,1062.2 1107.3,1062.2 1108.3,1062.2 1109.3,1062.2 1110.3,1062.2 1111.3,1062.2 1112.3,1062.2 1113.3,1062.2 1114.3,1062.2 1115.3,1062.2 1116.3,1062.2 1117.3,1062.2 1118.3,1062.2" fill="none" stroke="#6aa6f2" stroke-width="0.9"/>
<linearGradient id="plg4" gradientUnits="userSpaceOnUse" x1="0" y1="1015.5" x2="0" y2="1062.2"><stop offset="0" stop-color="#a6ccf9"/><stop offset="0.5" stop-color="#cfe3fc"/><stop offset="1" stop-color="#ffffff"/></linearGradient>
<polygon points="791.3,1062.2 791.3,1062.2 792.3,1062.2 793.3,1062.2 794.3,1062.2 795.3,1062.2 796.3,1062.2 797.3,1062.2 798.3,1062.2 799.3,1062.2 800.3,1062.2 801.3,1062.2 802.3,1062.2 803.3,1062.2 804.3,1062.2 805.3,1062.2 806.3,1062.19 807.3,1062.19 808.3,1062.19 809.3,1062.19 810.3,1062.19 811.3,1062.19 812.3,1062.19 813.3,1062.19 814.3,1062.19 815.3,1062.19 816.3,1062.18 817.3,1062.18 818.3,1062.18 819.3,1062.18 820.3,1062.18 821.3,1062.17 822.3,1062.17 823.3,1062.17 824.3,1062.17 825.3,1062.16 826.3,1062.16 827.3,1062.16 828.3,1062.15 829.3,1062.15 830.3,1062.14 831.3,1062.14 832.3,1062.13 833.3,1062.12 834.3,1062.12 835.3,1062.11 836.3,1062.1 837.3,1062.09 838.3,1062.09 839.3,1062.08 840.3,1062.06 841.3,1062.05 842.3,1062.04 843.3,1062.03 844.3,1062.01 845.3,1062 846.3,1061.98 847.3,1061.97 848.3,1061.95 849.3,1061.93 850.3,1061.91 851.3,1061.89 852.3,1061.87 853.3,1061.84 854.3,1061.82 855.3,1061.79 856.3,1061.76 857.3,1061.73 858.3,1061.7 859.3,1061.67 860.3,1061.63 861.3,1061.59 862.3,1061.55 863.3,1061.51 864.3,1061.47 865.3,1061.42 866.3,1061.37 867.3,1061.32 868.3,1061.26 869.3,1061.2 870.3,1061.14 871.3,1061.07 872.3,1061 873.3,1060.92 874.3,1060.84 875.3,1060.75 876.3,1060.66 877.3,1060.55 878.3,1060.44 879.3,1060.32 880.3,1060.19 881.3,1060.05 882.3,1059.89 883.3,1059.72 884.3,1059.53 885.3,1059.33 886.3,1059.1 887.3,1058.85 888.3,1058.57 889.3,1058.27 890.3,1057.94 891.3,1057.57 892.3,1057.17 893.3,1056.72 894.3,1056.24 895.3,1055.71 896.3,1055.13 897.3,1054.51 898.3,1053.82 899.3,1053.09 900.3,1052.29 901.3,1051.44 902.3,1050.52 903.3,1049.54 904.3,1048.5 905.3,1047.4 906.3,1046.23 907.3,1045.01 908.3,1043.73 909.3,1042.39 910.3,1041.01 911.3,1039.58 912.3,1038.11 913.3,1036.61 914.3,1035.09 915.3,1033.56 916.3,1032.02 917.3,1030.49 918.3,1028.97 919.3,1027.48 920.3,1026.03 921.3,1024.63 922.3,1023.29 923.3,1022.02 924.3,1020.84 925.3,1019.75 926.3,1018.77 927.3,1017.9 928.3,1017.16 929.3,1016.55 930.3,1016.07 931.3,1015.74 932.3,1015.55 933.3,1015.5 934.3,1015.61 935.3,1015.85 936.3,1016.24 937.3,1016.77 938.3,1017.43 939.3,1018.22 940.3,1019.12 941.3,1020.14 942.3,1021.26 943.3,1022.47 944.3,1023.75 945.3,1025.11 946.3,1026.52 947.3,1027.98 948.3,1029.47 949.3,1030.98 950.3,1032.51 951.3,1034.03 952.3,1035.55 953.3,1037.04 954.3,1038.52 955.3,1039.95 956.3,1041.35 957.3,1042.7 958.3,1044 959.3,1045.24 960.3,1046.43 961.3,1047.56 962.3,1048.62 963.3,1049.63 964.3,1050.57 965.3,1051.45 966.3,1052.26 967.3,1053.02 968.3,1053.73 969.3,1054.38 970.3,1054.97 971.3,1055.52 972.3,1056.02 973.3,1056.48 974.3,1056.9 975.3,1057.28 976.3,1057.63 977.3,1057.94 978.3,1058.23 979.3,1058.49 980.3,1058.73 981.3,1058.95 982.3,1059.14 983.3,1059.32 984.3,1059.49 985.3,1059.64 986.3,1059.78 987.3,1059.91 988.3,1060.03 989.3,1060.14 990.3,1060.24 991.3,1060.34 992.3,1060.43 993.3,1060.52 994.3,1060.6 995.3,1060.67 996.3,1060.75 997.3,1060.81 998.3,1060.88 999.3,1060.94 1000.3,1061 1001.3,1061.06 1002.3,1061.11 1003.3,1061.17 1004.3,1061.22 1005.3,1061.27 1006.3,1061.31 1007.3,1061.36 1008.3,1061.4 1009.3,1061.44 1010.3,1061.48 1011.3,1061.52 1012.3,1061.55 1013.3,1061.59 1014.3,1061.62 1015.3,1061.65 1016.3,1061.68 1017.3,1061.71 1018.3,1061.74 1019.3,1061.77 1020.3,1061.79 1021.3,1061.82 1022.3,1061.84 1023.3,1061.86 1024.3,1061.88 1025.3,1061.9 1026.3,1061.92 1027.3,1061.94 1028.3,1061.95 1029.3,1061.97 1030.3,1061.98 1031.3,1062 1032.3,1062.01 1033.3,1062.02 1034.3,1062.04 1035.3,1062.05 1036.3,1062.06 1037.3,1062.07 1038.3,1062.08 1039.3,1062.09 1040.3,1062.09 1041.3,1062.1 1042.3,1062.11 1043.3,1062.11 1044.3,1062.12 1045.3,1062.13 1046.3,1062.13 1047.3,1062.14 1048.3,1062.14 1049.3,1062.15 1050.3,1062.15 1051.3,1062.15 1052.3,1062.16 1053.3,1062.16 1054.3,1062.16 1055.3,1062.17 1056.3,1062.17 1057.3,1062.17 1058.3,1062.17 1059.3,1062.18 1060.3,1062.18 1061.3,1062.18 1062.3,1062.18 1063.3,1062.18 1064.3,1062.19 1065.3,1062.19 1066.3,1062.19 1067.3,1062.19 1068.3,1062.19 1069.3,1062.19 1070.3,1062.19 1071.3,1062.19 1072.3,1062.19 1073.3,1062.19 1074.3,1062.19 1075.3,1062.19 1076.3,1062.2 1077.3,1062.2 1078.3,1062.2 1079.3,1062.2 1080.3,1062.2 1081.3,1062.2 1082.3,1062.2 1083.3,1062.2 1084.3,1062.2 1085.3,1062.2 1086.3,1062.2 1087.3,1062.2 1088.3,1062.2 1089.3,1062.2 1090.3,1062.2 1091.3,1062.2 1092.3,1062.2 1093.3,1062.2 1094.3,1062.2 1095.3,1062.2 1096.3,1062.2 1097.3,1062.2 1098.3,1062.2 1099.3,1062.2 1100.3,1062.2 1101.3,1062.2 1102.3,1062.2 1103.3,1062.2 1104.3,1062.2 1105.3,1062.2 1106.3,1062.2 1107.3,1062.2 1108.3,1062.2 1109.3,1062.2 1110.3,1062.2 1111.3,1062.2 1112.3,1062.2 1113.3,1062.2 1114.3,1062.2 1115.3,1062.2 1116.3,1062.2 1117.3,1062.2 1118.3,1062.2 1118.3,1062.2" fill="url(#plg4)"/>
<polyline points="791.3,1062.2 792.3,1062.2 793.3,1062.2 794.3,1062.2 795.3,1062.2 796.3,1062.2 797.3,1062.2 798.3,1062.2 799.3,1062.2 800.3,1062.2 801.3,1062.2 802.3,1062.2 803.3,1062.2 804.3,1062.2 805.3,1062.2 806.3,1062.19 807.3,1062.19 808.3,1062.19 809.3,1062.19 810.3,1062.19 811.3,1062.19 812.3,1062.19 813.3,1062.19 814.3,1062.19 815.3,1062.19 816.3,1062.18 817.3,1062.18 818.3,1062.18 819.3,1062.18 820.3,1062.18 821.3,1062.17 822.3,1062.17 823.3,1062.17 824.3,1062.17 825.3,1062.16 826.3,1062.16 827.3,1062.16 828.3,1062.15 829.3,1062.15 830.3,1062.14 831.3,1062.14 832.3,1062.13 833.3,1062.12 834.3,1062.12 835.3,1062.11 836.3,1062.1 837.3,1062.09 838.3,1062.09 839.3,1062.08 840.3,1062.06 841.3,1062.05 842.3,1062.04 843.3,1062.03 844.3,1062.01 845.3,1062 846.3,1061.98 847.3,1061.97 848.3,1061.95 849.3,1061.93 850.3,1061.91 851.3,1061.89 852.3,1061.87 853.3,1061.84 854.3,1061.82 855.3,1061.79 856.3,1061.76 857.3,1061.73 858.3,1061.7 859.3,1061.67 860.3,1061.63 861.3,1061.59 862.3,1061.55 863.3,1061.51 864.3,1061.47 865.3,1061.42 866.3,1061.37 867.3,1061.32 868.3,1061.26 869.3,1061.2 870.3,1061.14 871.3,1061.07 872.3,1061 873.3,1060.92 874.3,1060.84 875.3,1060.75 876.3,1060.66 877.3,1060.55 878.3,1060.44 879.3,1060.32 880.3,1060.19 881.3,1060.05 882.3,1059.89 883.3,1059.72 884.3,1059.53 885.3,1059.33 886.3,1059.1 887.3,1058.85 888.3,1058.57 889.3,1058.27 890.3,1057.94 891.3,1057.57 892.3,1057.17 893.3,1056.72 894.3,1056.24 895.3,1055.71 896.3,1055.13 897.3,1054.51 898.3,1053.82 899.3,1053.09 900.3,1052.29 901.3,1051.44 902.3,1050.52 903.3,1049.54 904.3,1048.5 905.3,1047.4 906.3,1046.23 907.3,1045.01 908.3,1043.73 909.3,1042.39 910.3,1041.01 911.3,1039.58 912.3,1038.11 913.3,1036.61 914.3,1035.09 915.3,1033.56 916.3,1032.02 917.3,1030.49 918.3,1028.97 919.3,1027.48 920.3,1026.03 921.3,1024.63 922.3,1023.29 923.3,1022.02 924.3,1020.84 925.3,1019.75 926.3,1018.77 927.3,1017.9 928.3,1017.16 929.3,1016.55 930.3,1016.07 931.3,1015.74 932.3,1015.55 933.3,1015.5 934.3,1015.61 935.3,1015.85 936.3,1016.24 937.3,1016.77 938.3,1017.43 939.3,1018.22 940.3,1019.12 941.3,1020.14 942.3,1021.26 943.3,1022.47 944.3,1023.75 945.3,1025.11 946.3,1026.52 947.3,1027.98 948.3,1029.47 949.3,1030.98 950.3,1032.51 951.3,1034.03 952.3,1035.55 953.3,1037.04 954.3,1038.52 955.3,1039.95 956.3,1041.35 957.3,1042.7 958.3,1044 959.3,1045.24 960.3,1046.43 961.3,1047.56 962.3,1048.62 963.3,1049.63 964.3,1050.57 965.3,1051.45 966.3,1052.26 967.3,1053.02 968.3,1053.73 969.3,1054.38 970.3,1054.97 971.3,1055.52 972.3,1056.02 973.3,1056.48 974.3,1056.9 975.3,1057.28 976.3,1057.63 977.3,1057.94 978.3,1058.23 979.3,1058.49 980.3,1058.73 981.3,1058.95 982.3,1059.14 983.3,1059.32 984.3,1059.49 985.3,1059.64 986.3,1059.78 987.3,1059.91 988.3,1060.03 989.3,1060.14 990.3,1060.24 991.3,1060.34 992.3,1060.43 993.3,1060.52 994.3,1060.6 995.3,1060.67 996.3,1060.75 997.3,1060.81 998.3,1060.88 999.3,1060.94 1000.3,1061 1001.3,1061.06 1002.3,1061.11 1003.3,1061.17 1004.3,1061.22 1005.3,1061.27 1006.3,1061.31 1007.3,1061.36 1008.3,1061.4 1009.3,1061.44 1010.3,1061.48 1011.3,1061.52 1012.3,1061.55 1013.3,1061.59 1014.3,1061.62 1015.3,1061.65 1016.3,1061.68 1017.3,1061.71 1018.3,1061.74 1019.3,1061.77 1020.3,1061.79 1021.3,1061.82 1022.3,1061.84 1023.3,1061.86 1024.3,1061.88 1025.3,1061.9 1026.3,1061.92 1027.3,1061.94 1028.3,1061.95 1029.3,1061.97 1030.3,1061.98 1031.3,1062 1032.3,1062.01 1033.3,1062.02 1034.3,1062.04 1035.3,1062.05 1036.3,1062.06 1037.3,1062.07 1038.3,1062.08 1039.3,1062.09 1040.3,1062.09 1041.3,1062.1 1042.3,1062.11 1043.3,1062.11 1044.3,1062.12 1045.3,1062.13 1046.3,1062.13 1047.3,1062.14 1048.3,1062.14 1049.3,1062.15 1050.3,1062.15 1051.3,1062.15 1052.3,1062.16 1053.3,1062.16 1054.3,1062.16 1055.3,1062.17 1056.3,1062.17 1057.3,1062.17 1058.3,1062.17 1059.3,1062.18 1060.3,1062.18 1061.3,1062.18 1062.3,1062.18 1063.3,1062.18 1064.3,1062.19 1065.3,1062.19 1066.3,1062.19 1067.3,1062.19 1068.3,1062.19 1069.3,1062.19 1070.3,1062.19 1071.3,1062.19 1072.3,1062.19 1073.3,1062.19 1074.3,1062.19 1075.3,1062.19 1076.3,1062.2 1077.3,1062.2 1078.3,1062.2 1079.3,1062.2 1080.3,1062.2 1081.3,1062.2 1082.3,1062.2 1083.3,1062.2 1084.3,1062.2 1085.3,1062.2 1086.3,1062.2 1087.3,1062.2 1088.3,1062.2 1089.3,1062.2 1090.3,1062.2 1091.3,1062.2 1092.3,1062.2 1093.3,1062.2 1094.3,1062.2 1095.3,1062.2 1096.3,1062.2 1097.3,1062.2 1098.3,1062.2 1099.3,1062.2 1100.3,1062.2 1101.3,1062.2 1102.3,1062.2 1103.3,1062.2 1104.3,1062.2 1105.3,1062.2 1106.3,1062.2 1107.3,1062.2 1108.3,1062.2 1109.3,1062.2 1110.3,1062.2 1111.3,1062.2 1112.3,1062.2 1113.3,1062.2 1114.3,1062.2 1115.3,1062.2 1116.3,1062.2 1117.3,1062.2 1118.3,1062.2" fill="none" stroke="#8dbcf6" stroke-width="0.8"/>
<linearGradient id="plg5" gradientUnits="userSpaceOnUse" x1="0" y1="1038.5" x2="0" y2="1062.2"><stop offset="0" stop-color="#d2e5fd"/><stop offset="1" stop-color="#ffffff"/></linearGradient>
<polygon points="791.3,1062.2 791.3,1062.2 792.3,1062.2 793.3,1062.2 794.3,1062.2 795.3,1062.2 796.3,1062.2 797.3,1062.2 798.3,1062.2 799.3,1062.2 800.3,1062.2 801.3,1062.2 802.3,1062.2 803.3,1062.2 804.3,1062.2 805.3,1062.2 806.3,1062.2 807.3,1062.2 808.3,1062.2 809.3,1062.2 810.3,1062.2 811.3,1062.2 812.3,1062.19 813.3,1062.19 814.3,1062.19 815.3,1062.19 816.3,1062.19 817.3,1062.19 818.3,1062.19 819.3,1062.19 820.3,1062.19 821.3,1062.19 822.3,1062.19 823.3,1062.18 824.3,1062.18 825.3,1062.18 826.3,1062.18 827.3,1062.18 828.3,1062.18 829.3,1062.17 830.3,1062.17 831.3,1062.17 832.3,1062.16 833.3,1062.16 834.3,1062.16 835.3,1062.15 836.3,1062.15 837.3,1062.15 838.3,1062.14 839.3,1062.14 840.3,1062.13 841.3,1062.13 842.3,1062.12 843.3,1062.11 844.3,1062.11 845.3,1062.1 846.3,1062.09 847.3,1062.08 848.3,1062.07 849.3,1062.06 850.3,1062.05 851.3,1062.04 852.3,1062.03 853.3,1062.02 854.3,1062.01 855.3,1061.99 856.3,1061.98 857.3,1061.96 858.3,1061.95 859.3,1061.93 860.3,1061.91 861.3,1061.89 862.3,1061.87 863.3,1061.85 864.3,1061.83 865.3,1061.8 866.3,1061.78 867.3,1061.75 868.3,1061.72 869.3,1061.69 870.3,1061.66 871.3,1061.63 872.3,1061.59 873.3,1061.55 874.3,1061.51 875.3,1061.47 876.3,1061.42 877.3,1061.36 878.3,1061.31 879.3,1061.25 880.3,1061.18 881.3,1061.11 882.3,1061.03 883.3,1060.94 884.3,1060.85 885.3,1060.74 886.3,1060.63 887.3,1060.5 888.3,1060.36 889.3,1060.2 890.3,1060.04 891.3,1059.85 892.3,1059.64 893.3,1059.42 894.3,1059.18 895.3,1058.91 896.3,1058.61 897.3,1058.3 898.3,1057.95 899.3,1057.58 900.3,1057.17 901.3,1056.74 902.3,1056.27 903.3,1055.78 904.3,1055.25 905.3,1054.69 906.3,1054.1 907.3,1053.47 908.3,1052.82 909.3,1052.15 910.3,1051.44 911.3,1050.72 912.3,1049.98 913.3,1049.22 914.3,1048.44 915.3,1047.67 916.3,1046.88 917.3,1046.11 918.3,1045.34 919.3,1044.58 920.3,1043.84 921.3,1043.13 922.3,1042.45 923.3,1041.81 924.3,1041.21 925.3,1040.66 926.3,1040.16 927.3,1039.72 928.3,1039.34 929.3,1039.03 930.3,1038.79 931.3,1038.62 932.3,1038.52 933.3,1038.5 934.3,1038.55 935.3,1038.68 936.3,1038.88 937.3,1039.14 938.3,1039.48 939.3,1039.88 940.3,1040.34 941.3,1040.86 942.3,1041.42 943.3,1042.04 944.3,1042.69 945.3,1043.38 946.3,1044.09 947.3,1044.83 948.3,1045.59 949.3,1046.36 950.3,1047.13 951.3,1047.9 952.3,1048.67 953.3,1049.43 954.3,1050.18 955.3,1050.91 956.3,1051.62 957.3,1052.3 958.3,1052.96 959.3,1053.6 960.3,1054.2 961.3,1054.77 962.3,1055.31 963.3,1055.82 964.3,1056.3 965.3,1056.74 966.3,1057.16 967.3,1057.54 968.3,1057.9 969.3,1058.23 970.3,1058.53 971.3,1058.81 972.3,1059.06 973.3,1059.3 974.3,1059.51 975.3,1059.7 976.3,1059.88 977.3,1060.04 978.3,1060.19 979.3,1060.32 980.3,1060.44 981.3,1060.55 982.3,1060.65 983.3,1060.74 984.3,1060.82 985.3,1060.9 986.3,1060.97 987.3,1061.04 988.3,1061.1 989.3,1061.15 990.3,1061.21 991.3,1061.26 992.3,1061.3 993.3,1061.35 994.3,1061.39 995.3,1061.42 996.3,1061.46 997.3,1061.5 998.3,1061.53 999.3,1061.56 1000.3,1061.59 1001.3,1061.62 1002.3,1061.65 1003.3,1061.68 1004.3,1061.7 1005.3,1061.73 1006.3,1061.75 1007.3,1061.77 1008.3,1061.79 1009.3,1061.82 1010.3,1061.84 1011.3,1061.85 1012.3,1061.87 1013.3,1061.89 1014.3,1061.91 1015.3,1061.92 1016.3,1061.94 1017.3,1061.95 1018.3,1061.97 1019.3,1061.98 1020.3,1061.99 1021.3,1062.01 1022.3,1062.02 1023.3,1062.03 1024.3,1062.04 1025.3,1062.05 1026.3,1062.06 1027.3,1062.07 1028.3,1062.08 1029.3,1062.08 1030.3,1062.09 1031.3,1062.1 1032.3,1062.1 1033.3,1062.11 1034.3,1062.12 1035.3,1062.12 1036.3,1062.13 1037.3,1062.13 1038.3,1062.14 1039.3,1062.14 1040.3,1062.15 1041.3,1062.15 1042.3,1062.15 1043.3,1062.16 1044.3,1062.16 1045.3,1062.16 1046.3,1062.17 1047.3,1062.17 1048.3,1062.17 1049.3,1062.17 1050.3,1062.18 1051.3,1062.18 1052.3,1062.18 1053.3,1062.18 1054.3,1062.18 1055.3,1062.18 1056.3,1062.18 1057.3,1062.19 1058.3,1062.19 1059.3,1062.19 1060.3,1062.19 1061.3,1062.19 1062.3,1062.19 1063.3,1062.19 1064.3,1062.19 1065.3,1062.19 1066.3,1062.19 1067.3,1062.19 1068.3,1062.19 1069.3,1062.2 1070.3,1062.2 1071.3,1062.2 1072.3,1062.2 1073.3,1062.2 1074.3,1062.2 1075.3,1062.2 1076.3,1062.2 1077.3,1062.2 1078.3,1062.2 1079.3,1062.2 1080.3,1062.2 1081.3,1062.2 1082.3,1062.2 1083.3,1062.2 1084.3,1062.2 1085.3,1062.2 1086.3,1062.2 1087.3,1062.2 1088.3,1062.2 1089.3,1062.2 1090.3,1062.2 1091.3,1062.2 1092.3,1062.2 1093.3,1062.2 1094.3,1062.2 1095.3,1062.2 1096.3,1062.2 1097.3,1062.2 1098.3,1062.2 1099.3,1062.2 1100.3,1062.2 1101.3,1062.2 1102.3,1062.2 1103.3,1062.2 1104.3,1062.2 1105.3,1062.2 1106.3,1062.2 1107.3,1062.2 1108.3,1062.2 1109.3,1062.2 1110.3,1062.2 1111.3,1062.2 1112.3,1062.2 1113.3,1062.2 1114.3,1062.2 1115.3,1062.2 1116.3,1062.2 1117.3,1062.2 1118.3,1062.2 1118.3,1062.2" fill="url(#plg5)"/>
<polyline points="791.3,1062.2 792.3,1062.2 793.3,1062.2 794.3,1062.2 795.3,1062.2 796.3,1062.2 797.3,1062.2 798.3,1062.2 799.3,1062.2 800.3,1062.2 801.3,1062.2 802.3,1062.2 803.3,1062.2 804.3,1062.2 805.3,1062.2 806.3,1062.2 807.3,1062.2 808.3,1062.2 809.3,1062.2 810.3,1062.2 811.3,1062.2 812.3,1062.19 813.3,1062.19 814.3,1062.19 815.3,1062.19 816.3,1062.19 817.3,1062.19 818.3,1062.19 819.3,1062.19 820.3,1062.19 821.3,1062.19 822.3,1062.19 823.3,1062.18 824.3,1062.18 825.3,1062.18 826.3,1062.18 827.3,1062.18 828.3,1062.18 829.3,1062.17 830.3,1062.17 831.3,1062.17 832.3,1062.16 833.3,1062.16 834.3,1062.16 835.3,1062.15 836.3,1062.15 837.3,1062.15 838.3,1062.14 839.3,1062.14 840.3,1062.13 841.3,1062.13 842.3,1062.12 843.3,1062.11 844.3,1062.11 845.3,1062.1 846.3,1062.09 847.3,1062.08 848.3,1062.07 849.3,1062.06 850.3,1062.05 851.3,1062.04 852.3,1062.03 853.3,1062.02 854.3,1062.01 855.3,1061.99 856.3,1061.98 857.3,1061.96 858.3,1061.95 859.3,1061.93 860.3,1061.91 861.3,1061.89 862.3,1061.87 863.3,1061.85 864.3,1061.83 865.3,1061.8 866.3,1061.78 867.3,1061.75 868.3,1061.72 869.3,1061.69 870.3,1061.66 871.3,1061.63 872.3,1061.59 873.3,1061.55 874.3,1061.51 875.3,1061.47 876.3,1061.42 877.3,1061.36 878.3,1061.31 879.3,1061.25 880.3,1061.18 881.3,1061.11 882.3,1061.03 883.3,1060.94 884.3,1060.85 885.3,1060.74 886.3,1060.63 887.3,1060.5 888.3,1060.36 889.3,1060.2 890.3,1060.04 891.3,1059.85 892.3,1059.64 893.3,1059.42 894.3,1059.18 895.3,1058.91 896.3,1058.61 897.3,1058.3 898.3,1057.95 899.3,1057.58 900.3,1057.17 901.3,1056.74 902.3,1056.27 903.3,1055.78 904.3,1055.25 905.3,1054.69 906.3,1054.1 907.3,1053.47 908.3,1052.82 909.3,1052.15 910.3,1051.44 911.3,1050.72 912.3,1049.98 913.3,1049.22 914.3,1048.44 915.3,1047.67 916.3,1046.88 917.3,1046.11 918.3,1045.34 919.3,1044.58 920.3,1043.84 921.3,1043.13 922.3,1042.45 923.3,1041.81 924.3,1041.21 925.3,1040.66 926.3,1040.16 927.3,1039.72 928.3,1039.34 929.3,1039.03 930.3,1038.79 931.3,1038.62 932.3,1038.52 933.3,1038.5 934.3,1038.55 935.3,1038.68 936.3,1038.88 937.3,1039.14 938.3,1039.48 939.3,1039.88 940.3,1040.34 941.3,1040.86 942.3,1041.42 943.3,1042.04 944.3,1042.69 945.3,1043.38 946.3,1044.09 947.3,1044.83 948.3,1045.59 949.3,1046.36 950.3,1047.13 951.3,1047.9 952.3,1048.67 953.3,1049.43 954.3,1050.18 955.3,1050.91 956.3,1051.62 957.3,1052.3 958.3,1052.96 959.3,1053.6 960.3,1054.2 961.3,1054.77 962.3,1055.31 963.3,1055.82 964.3,1056.3 965.3,1056.74 966.3,1057.16 967.3,1057.54 968.3,1057.9 969.3,1058.23 970.3,1058.53 971.3,1058.81 972.3,1059.06 973.3,1059.3 974.3,1059.51 975.3,1059.7 976.3,1059.88 977.3,1060.04 978.3,1060.19 979.3,1060.32 980.3,1060.44 981.3,1060.55 982.3,1060.65 983.3,1060.74 984.3,1060.82 985.3,1060.9 986.3,1060.97 987.3,1061.04 988.3,1061.1 989.3,1061.15 990.3,1061.21 991.3,1061.26 992.3,1061.3 993.3,1061.35 994.3,1061.39 995.3,1061.42 996.3,1061.46 997.3,1061.5 998.3,1061.53 999.3,1061.56 1000.3,1061.59 1001.3,1061.62 1002.3,1061.65 1003.3,1061.68 1004.3,1061.7 1005.3,1061.73 1006.3,1061.75 1007.3,1061.77 1008.3,1061.79 1009.3,1061.82 1010.3,1061.84 1011.3,1061.85 1012.3,1061.87 1013.3,1061.89 1014.3,1061.91 1015.3,1061.92 1016.3,1061.94 1017.3,1061.95 1018.3,1061.97 1019.3,1061.98 1020.3,1061.99 1021.3,1062.01 1022.3,1062.02 1023.3,1062.03 1024.3,1062.04 1025.3,1062.05 1026.3,1062.06 1027.3,1062.07 1028.3,1062.08 1029.3,1062.08 1030.3,1062.09 1031.3,1062.1 1032.3,1062.1 1033.3,1062.11 1034.3,1062.12 1035.3,1062.12 1036.3,1062.13 1037.3,1062.13 1038.3,1062.14 1039.3,1062.14 1040.3,1062.15 1041.3,1062.15 1042.3,1062.15 1043.3,1062.16 1044.3,1062.16 1045.3,1062.16 1046.3,1062.17 1047.3,1062.17 1048.3,1062.17 1049.3,1062.17 1050.3,1062.18 1051.3,1062.18 1052.3,1062.18 1053.3,1062.18 1054.3,1062.18 1055.3,1062.18 1056.3,1062.18 1057.3,1062.19 1058.3,1062.19 1059.3,1062.19 1060.3,1062.19 1061.3,1062.19 1062.3,1062.19 1063.3,1062.19 1064.3,1062.19 1065.3,1062.19 1066.3,1062.19 1067.3,1062.19 1068.3,1062.19 1069.3,1062.2 1070.3,1062.2 1071.3,1062.2 1072.3,1062.2 1073.3,1062.2 1074.3,1062.2 1075.3,1062.2 1076.3,1062.2 1077.3,1062.2 1078.3,1062.2 1079.3,1062.2 1080.3,1062.2 1081.3,1062.2 1082.3,1062.2 1083.3,1062.2 1084.3,1062.2 1085.3,1062.2 1086.3,1062.2 1087.3,1062.2 1088.3,1062.2 1089.3,1062.2 1090.3,1062.2 1091.3,1062.2 1092.3,1062.2 1093.3,1062.2 1094.3,1062.2 1095.3,1062.2 1096.3,1062.2 1097.3,1062.2 1098.3,1062.2 1099.3,1062.2 1100.3,1062.2 1101.3,1062.2 1102.3,1062.2 1103.3,1062.2 1104.3,1062.2 1105.3,1062.2 1106.3,1062.2 1107.3,1062.2 1108.3,1062.2 1109.3,1062.2 1110.3,1062.2 1111.3,1062.2 1112.3,1062.2 1113.3,1062.2 1114.3,1062.2 1115.3,1062.2 1116.3,1062.2 1117.3,1062.2 1118.3,1062.2" fill="none" stroke="#bcd8fb" stroke-width="0.7"/>
<line x1="789.5" y1="1062.2" x2="1119.3" y2="1062.2" stroke="#b3d4fb" stroke-width="1.2" />
<g>
<rect x="1072.3" y="874.2" width="227" height="174.4" fill="#0c8ee7"/>
<clipPath id="clipphoto"><rect x="1072.3" y="874.2" width="227" height="174.4"/></clipPath>
<g clip-path="url(#clipphoto)">
<polygon points="1095.4,898.51 1272.41,888.81 1275.15,1020.24 1100.34,1033.05" fill="#10a0ee"/>
<linearGradient id="glassg" x1="0" y1="0" x2="1" y2="0"><stop offset="0" stop-color="#19aef4"/><stop offset="0.55" stop-color="#14a6f1"/><stop offset="1" stop-color="#0f98ea"/></linearGradient>
<polygon points="1104.91,902.17 1266.91,893.57 1267.83,1001.02 1107.66,1007.42" fill="url(#glassg)"/>
<polygon points="1107.66,1007.42 1267.83,1001.02 1275.15,1020.24 1100.34,1033.05" fill="#0d93e8"/>
<polygon points="1095.4,898.51 1104.91,902.17 1107.66,1007.42 1100.34,1033.05" fill="#0f9cec"/>
<polygon points="1266.91,893.57 1272.41,888.81 1275.15,1020.24 1267.83,1001.02" fill="#0f90e6"/>
<polygon points="1095.4,898.51 1272.41,888.81 1275.15,1020.24 1100.34,1033.05" fill="none" stroke="#a8f4f4" stroke-width="2.3" filter="url(#blur1)"/>
<polyline points="1104.91,903.08 1107.11,1007.42" fill="none" stroke="#5fd4f4" stroke-width="0.9"/>
<polyline points="1266.91,893.57 1268.2,1000.47" fill="none" stroke="#3cc0f0" stroke-width="0.9"/>
<polyline points="1096.95,899.28 1176.51,894.29" fill="none" stroke="#c4fbfb" stroke-width="2.6" stroke-linecap="round" filter="url(#blur1)"/>
<polyline points="1193.99,893.29 1223.95,891.62" fill="none" stroke="#c4fbfb" stroke-width="2.6" stroke-linecap="round" filter="url(#blur1)"/>
<polyline points="1100.45,1032.1 1176.51,1026.61" fill="none" stroke="#b8f8f8" stroke-width="2.4" stroke-linecap="round" filter="url(#blur1)"/>
<polyline points="1198.48,1024.78 1246.42,1021.45" fill="none" stroke="#b8f8f8" stroke-width="2.2" stroke-linecap="round" filter="url(#blur1)"/>
<path d="M1174.47,872.88 L1181.43,899.42 Q1185.46,907.66 1194.61,902.72 L1191.31,872.88 Z" fill="#0c8ee7" stroke="#8eeaf4" stroke-width="1.3" filter="url(#blur1)"/>
<path d="M1176.3,1050.44 L1185.82,1014.74 Q1190.95,1009.25 1197.9,1015.66 L1185.82,1050.44 Z" fill="#0c8ee7" stroke="#8eeaf4" stroke-width="1.3" filter="url(#blur1)"/>
<polygon points="1138.78,917.36 1229.75,911.87 1231.22,1001.93 1141.52,1006.51" fill="#ffffff" filter="url(#blur2)"/>
<polygon points="1140.06,918.64 1228.66,913.34 1230.12,1000.83 1142.62,1005.23" fill="#ffffff"/>
</g></g>
<g clip-path="url(#clipc)">
<polyline points="807.8,771.1 873.4,757.0 935.6,752.3 993.8,757.8 1041.7,765.6 1084.7,771.9 1121.5,779.3 1154.1,784.6 1183.5,790.3 1209.2,796.1 1232.7,802.1 1257.1,807.7 1276.7,813.6 1294.6,819.6 1311.1,827.5 1323.9,842.0" fill="none" stroke="#0f80f0" stroke-width="2.3"/>
<circle cx="807.8" cy="771.1" r="8.7" fill="url(#ballc)"/>
<circle cx="873.4" cy="757.0" r="8.7" fill="url(#ballc)"/>
<circle cx="993.8" cy="757.8" r="8.7" fill="url(#ballc)"/>
<circle cx="1041.7" cy="765.6" r="8.7" fill="url(#ballc)"/>
<circle cx="1084.7" cy="771.9" r="8.7" fill="url(#ballc)"/>
<circle cx="1121.5" cy="779.3" r="8.7" fill="url(#ballc)"/>
<circle cx="1154.1" cy="784.6" r="8.7" fill="url(#ballc)"/>
<circle cx="1183.5" cy="790.3" r="8.7" fill="url(#ballc)"/>
<circle cx="1209.2" cy="796.1" r="8.7" fill="url(#ballc)"/>
<circle cx="1232.7" cy="802.1" r="8.7" fill="url(#ballc)"/>
<circle cx="1257.1" cy="807.7" r="8.7" fill="url(#ballc)"/>
<circle cx="1276.7" cy="813.6" r="8.7" fill="url(#ballc)"/>
<circle cx="1294.6" cy="819.6" r="8.7" fill="url(#ballc)"/>
<circle cx="1311.1" cy="827.5" r="8.7" fill="url(#ballc)"/>
<circle cx="1323.9" cy="842.0" r="8.7" fill="url(#ballc)"/>
</g>
<polygon points="935.6,739 938.65,748.4 948.53,748.4 940.54,754.21 943.59,763.6 935.6,757.8 927.61,763.6 930.66,754.21 922.67,748.4 932.55,748.4" fill="#ff0000"/>
<line x1="813.1" y1="1100" x2="813.1" y2="1091" stroke="#000" stroke-width="4" />
<text x="811.6" y="1131.9" font-size="28.5" text-anchor="middle" fill="#000" >0.1</text>
<line x1="1038.2" y1="1100" x2="1038.2" y2="1091" stroke="#000" stroke-width="4" />
<text x="1038.2" y="1131.9" font-size="28.5" text-anchor="middle" fill="#000" >1</text>
<line x1="1263.3" y1="1100" x2="1263.3" y2="1091" stroke="#000" stroke-width="4" />
<text x="1263.3" y="1131.9" font-size="28.5" text-anchor="middle" fill="#000" >10</text>
<line x1="791.29" y1="1100" x2="791.29" y2="1095.7" stroke="#000" stroke-width="3" />
<line x1="802.8" y1="1100" x2="802.8" y2="1095.7" stroke="#000" stroke-width="3" />
<line x1="880.86" y1="1100" x2="880.86" y2="1095.7" stroke="#000" stroke-width="3" />
<line x1="920.5" y1="1100" x2="920.5" y2="1095.7" stroke="#000" stroke-width="3" />
<line x1="948.62" y1="1100" x2="948.62" y2="1095.7" stroke="#000" stroke-width="3" />
<line x1="970.44" y1="1100" x2="970.44" y2="1095.7" stroke="#000" stroke-width="3" />
<line x1="988.26" y1="1100" x2="988.26" y2="1095.7" stroke="#000" stroke-width="3" />
<line x1="1003.33" y1="1100" x2="1003.33" y2="1095.7" stroke="#000" stroke-width="3" />
<line x1="1016.39" y1="1100" x2="1016.39" y2="1095.7" stroke="#000" stroke-width="3" />
<line x1="1027.9" y1="1100" x2="1027.9" y2="1095.7" stroke="#000" stroke-width="3" />
<line x1="1105.96" y1="1100" x2="1105.96" y2="1095.7" stroke="#000" stroke-width="3" />
<line x1="1145.6" y1="1100" x2="1145.6" y2="1095.7" stroke="#000" stroke-width="3" />
<line x1="1173.72" y1="1100" x2="1173.72" y2="1095.7" stroke="#000" stroke-width="3" />
<line x1="1195.54" y1="1100" x2="1195.54" y2="1095.7" stroke="#000" stroke-width="3" />
<line x1="1213.36" y1="1100" x2="1213.36" y2="1095.7" stroke="#000" stroke-width="3" />
<line x1="1228.43" y1="1100" x2="1228.43" y2="1095.7" stroke="#000" stroke-width="3" />
<line x1="1241.49" y1="1100" x2="1241.49" y2="1095.7" stroke="#000" stroke-width="3" />
<line x1="1253" y1="1100" x2="1253" y2="1095.7" stroke="#000" stroke-width="3" />
<line x1="1331.06" y1="1100" x2="1331.06" y2="1095.7" stroke="#000" stroke-width="3" />
<text x="739.8" y="676" font-size="28.5" >10<tspan dy="-12.2" dx="-1.2" font-size="20">2</tspan></text>
<line x1="791.3" y1="810.4" x2="800.3" y2="810.4" stroke="#000" stroke-width="4" />
<text x="739.8" y="820.8" font-size="28.5" >10<tspan dy="-12.2" dx="-1.2" font-size="20">1</tspan></text>
<line x1="791.3" y1="955.2" x2="800.3" y2="955.2" stroke="#000" stroke-width="4" />
<text x="739.8" y="965.6" font-size="28.5" >10<tspan dy="-12.2" dx="-1.2" font-size="20">0</tspan></text>
<text x="739.8" y="1110.4" font-size="28.5" transform="translate(-11.3,0)">10<tspan dy="-12.2" dx="-1.2" font-size="20">−1</tspan></text>
<line x1="791.3" y1="1056.41" x2="795.6" y2="1056.41" stroke="#000" stroke-width="3" />
<line x1="791.3" y1="1030.91" x2="795.6" y2="1030.91" stroke="#000" stroke-width="3" />
<line x1="791.3" y1="1012.82" x2="795.6" y2="1012.82" stroke="#000" stroke-width="3" />
<line x1="791.3" y1="998.79" x2="795.6" y2="998.79" stroke="#000" stroke-width="3" />
<line x1="791.3" y1="987.32" x2="795.6" y2="987.32" stroke="#000" stroke-width="3" />
<line x1="791.3" y1="977.63" x2="795.6" y2="977.63" stroke="#000" stroke-width="3" />
<line x1="791.3" y1="969.23" x2="795.6" y2="969.23" stroke="#000" stroke-width="3" />
<line x1="791.3" y1="961.83" x2="795.6" y2="961.83" stroke="#000" stroke-width="3" />
<line x1="791.3" y1="911.61" x2="795.6" y2="911.61" stroke="#000" stroke-width="3" />
<line x1="791.3" y1="886.11" x2="795.6" y2="886.11" stroke="#000" stroke-width="3" />
<line x1="791.3" y1="868.02" x2="795.6" y2="868.02" stroke="#000" stroke-width="3" />
<line x1="791.3" y1="853.99" x2="795.6" y2="853.99" stroke="#000" stroke-width="3" />
<line x1="791.3" y1="842.52" x2="795.6" y2="842.52" stroke="#000" stroke-width="3" />
<line x1="791.3" y1="832.83" x2="795.6" y2="832.83" stroke="#000" stroke-width="3" />
<line x1="791.3" y1="824.43" x2="795.6" y2="824.43" stroke="#000" stroke-width="3" />
<line x1="791.3" y1="817.03" x2="795.6" y2="817.03" stroke="#000" stroke-width="3" />
<line x1="791.3" y1="766.81" x2="795.6" y2="766.81" stroke="#000" stroke-width="3" />
<line x1="791.3" y1="741.31" x2="795.6" y2="741.31" stroke="#000" stroke-width="3" />
<line x1="791.3" y1="723.22" x2="795.6" y2="723.22" stroke="#000" stroke-width="3" />
<line x1="791.3" y1="709.19" x2="795.6" y2="709.19" stroke="#000" stroke-width="3" />
<line x1="791.3" y1="697.72" x2="795.6" y2="697.72" stroke="#000" stroke-width="3" />
<line x1="791.3" y1="688.03" x2="795.6" y2="688.03" stroke="#000" stroke-width="3" />
<line x1="791.3" y1="679.63" x2="795.6" y2="679.63" stroke="#000" stroke-width="3" />
<line x1="791.3" y1="672.23" x2="795.6" y2="672.23" stroke="#000" stroke-width="3" />
<rect x="791.3" y="665.6" width="539.9" height="434.4" fill="none" stroke="#000" stroke-width="4.2"/>
<text x="875" y="727.3" font-size="28.5" text-anchor="start" fill="#000" >EQE<tspan dy="7" font-size="19.5">max</tspan><tspan dy="-7"> = 25.4%</tspan></text>
<text x="874.6" y="1184.7" font-size="33.3">Current density (mA cm<tspan dy="-12" font-size="21">-2</tspan><tspan dy="12">)</tspan></text>
<text transform="translate(716.2,881.9) rotate(-90)" font-size="33" text-anchor="middle">EQE (%)</text>
<text x="693.8" y="663.4" font-size="58" text-anchor="start" fill="#000" >c</text></g>
<g id="panel_d"><defs>
<radialGradient id="balld" cx="0.4" cy="0.4" r="0.6" fx="0.38" fy="0.38">
<stop offset="0" stop-color="#ffffff"/><stop offset="0.18" stop-color="#d8efff"/><stop offset="0.42" stop-color="#4bb8ff"/><stop offset="0.62" stop-color="#1ea6ff"/><stop offset="1" stop-color="#1ea6ff"/></radialGradient>
<radialGradient id="balld2" cx="0.36" cy="0.34" r="0.62" fx="0.34" fy="0.32">
<stop offset="0" stop-color="#ffffff"/><stop offset="0.15" stop-color="#e0f2ff"/><stop offset="0.42" stop-color="#45b5ff"/><stop offset="0.65" stop-color="#1ea6ff"/><stop offset="1" stop-color="#1ea6ff"/></radialGradient>
</defs>
<clipPath id="clipd"><rect x="1479.2" y="665.7" width="539.8" height="434.2"/></clipPath>
<line x1="1479.2" y1="963.9" x2="2019" y2="963.9" stroke="#858585" stroke-width="2.5" stroke-dasharray="19.5 8 5 8.5"/>
<g clip-path="url(#clipd)">
<circle cx="1482.3" cy="692.7" r="7.2" fill="url(#balld)"/>
<circle cx="1489.8" cy="702.7" r="7.2" fill="url(#balld)"/>
<circle cx="1499" cy="721.9" r="7.2" fill="url(#balld)"/>
<circle cx="1513.6" cy="727.4" r="7.2" fill="url(#balld)"/>
<circle cx="1523.1" cy="736.6" r="7.2" fill="url(#balld)"/>
<circle cx="1530.1" cy="740.2" r="7.2" fill="url(#balld)"/>
<circle cx="1537" cy="743" r="7.2" fill="url(#balld)"/>
<circle cx="1544.4" cy="746.6" r="7.2" fill="url(#balld)"/>
<circle cx="1552.1" cy="745.7" r="7.2" fill="url(#balld)"/>
<circle cx="1559.4" cy="754.9" r="7.2" fill="url(#balld)"/>
<circle cx="1565.8" cy="752.1" r="7.2" fill="url(#balld)"/>
<circle cx="1573.1" cy="756.7" r="7.2" fill="url(#balld)"/>
<circle cx="1579.9" cy="764.9" r="7.2" fill="url(#balld)"/>
<circle cx="1586.8" cy="767.7" r="7.2" fill="url(#balld)"/>
<circle cx="1593.8" cy="771" r="7.2" fill="url(#balld)"/>
<circle cx="1601.1" cy="774.6" r="7.2" fill="url(#balld)"/>
<circle cx="1607.9" cy="777.8" r="7.2" fill="url(#balld)"/>
<circle cx="1614.9" cy="781.4" r="7.2" fill="url(#balld)"/>
<circle cx="1622" cy="784.5" r="7.2" fill="url(#balld)"/>
<circle cx="1629.3" cy="787.8" r="7.2" fill="url(#balld)"/>
<circle cx="1636.6" cy="791.1" r="7.2" fill="url(#balld)"/>
<circle cx="1643.6" cy="794.2" r="7.2" fill="url(#balld)"/>
<circle cx="1650.9" cy="797.9" r="7.2" fill="url(#balld)"/>
<circle cx="1658.2" cy="801.6" r="7.2" fill="url(#balld)"/>
<circle cx="1665.2" cy="803.4" r="7.2" fill="url(#balld)"/>
<circle cx="1672.5" cy="807.1" r="7.2" fill="url(#balld)"/>
<circle cx="1680.2" cy="810.7" r="7.2" fill="url(#balld)"/>
<circle cx="1687.5" cy="814.4" r="7.2" fill="url(#balld)"/>
<circle cx="1694.5" cy="819" r="7.2" fill="url(#balld)"/>
<circle cx="1700.4" cy="825.4" r="7.2" fill="url(#balld)"/>
<circle cx="1707.7" cy="827.2" r="7.2" fill="url(#balld)"/>
<circle cx="1715" cy="830.9" r="7.2" fill="url(#balld)"/>
<circle cx="1722.3" cy="832.7" r="7.2" fill="url(#balld)"/>
<circle cx="1729.3" cy="833.6" r="7.2" fill="url(#balld)"/>
<circle cx="1735.1" cy="842.8" r="7.2" fill="url(#balld)"/>
<circle cx="1742.5" cy="843.7" r="7.2" fill="url(#balld)"/>
<circle cx="1749.8" cy="844.6" r="7.2" fill="url(#balld)"/>
<circle cx="1756.1" cy="849.5" r="7.2" fill="url(#balld)"/>
<circle cx="1763.5" cy="854.6" r="7.2" fill="url(#balld)"/>
<circle cx="1770.8" cy="855.5" r="7.2" fill="url(#balld)"/>
<circle cx="1777.2" cy="861" r="7.2" fill="url(#balld)"/>
<circle cx="1784.5" cy="864.7" r="7.2" fill="url(#balld)"/>
<circle cx="1790.9" cy="867" r="7.2" fill="url(#balld)"/>
<circle cx="1798.3" cy="869.6" r="7.2" fill="url(#balld)"/>
<circle cx="1805.6" cy="872" r="7.2" fill="url(#balld)"/>
<circle cx="1812" cy="878.4" r="7.2" fill="url(#balld)"/>
<circle cx="1820.2" cy="876.6" r="7.2" fill="url(#balld)"/>
<circle cx="1825.7" cy="886.6" r="7.2" fill="url(#balld)"/>
<circle cx="1833" cy="889.9" r="7.2" fill="url(#balld)"/>
<circle cx="1840.4" cy="890.7" r="7.2" fill="url(#balld)"/>
<circle cx="1846.8" cy="896.2" r="7.2" fill="url(#balld)"/>
<circle cx="1854.1" cy="897.6" r="7.2" fill="url(#balld)"/>
<circle cx="1861.4" cy="898.5" r="7.2" fill="url(#balld)"/>
<circle cx="1867.8" cy="903.1" r="7.2" fill="url(#balld)"/>
<circle cx="1875.2" cy="907.3" r="7.2" fill="url(#balld)"/>
<circle cx="1882.1" cy="909.9" r="7.2" fill="url(#balld)"/>
<circle cx="1888.9" cy="915.9" r="7.2" fill="url(#balld)"/>
<circle cx="1896.2" cy="918.7" r="7.2" fill="url(#balld)"/>
<circle cx="1902.6" cy="920.5" r="7.2" fill="url(#balld)"/>
<circle cx="1909.9" cy="922" r="7.2" fill="url(#balld)"/>
<circle cx="1916.9" cy="926.9" r="7.2" fill="url(#balld)"/>
<circle cx="1923.7" cy="936.1" r="7.2" fill="url(#balld)"/>
<circle cx="1931" cy="935.5" r="7.2" fill="url(#balld)"/>
<circle cx="1937.8" cy="937" r="7.2" fill="url(#balld)"/>
<circle cx="1943.8" cy="946.1" r="7.2" fill="url(#balld)"/>
<circle cx="1951.1" cy="947.1" r="7.2" fill="url(#balld)"/>
<circle cx="1957.5" cy="948" r="7.2" fill="url(#balld)"/>
<circle cx="1964.9" cy="951.6" r="7.2" fill="url(#balld)"/>
<circle cx="1971.8" cy="954.4" r="7.2" fill="url(#balld)"/>
<circle cx="1979.1" cy="958" r="7.2" fill="url(#balld)"/>
<circle cx="1986.5" cy="960.8" r="7.2" fill="url(#balld)"/>
<circle cx="1993.2" cy="967.2" r="7.2" fill="url(#balld)"/>
<circle cx="2000" cy="972.7" r="7.2" fill="url(#balld)"/>
<circle cx="2007" cy="978.2" r="7.2" fill="url(#balld)"/>
<circle cx="2014.3" cy="984.6" r="7.2" fill="url(#balld)"/>
<g fill="#fff" stroke="#0a12c0" stroke-width="4.1"><path d="M1484.6 681.8L1492.1 689.3L1484.6 696.8L1477.1 689.3Z"/><path d="M1491.6 702.8L1499.1 710.3L1491.6 717.8L1484.1 710.3Z"/><path d="M1505.7 723L1513.2 730.5L1505.7 738L1498.2 730.5Z"/><path d="M1513.4 741.3L1520.9 748.8L1513.4 756.3L1505.9 748.8Z"/><path d="M1520.3 758.7L1527.8 766.2L1520.3 773.7L1512.8 766.2Z"/><path d="M1527.1 774.2L1534.6 781.7L1527.1 789.2L1519.6 781.7Z"/><path d="M1534.1 788.9L1541.6 796.4L1534.1 803.9L1526.6 796.4Z"/><path d="M1541.3 801.3L1548.8 808.8L1541.3 816.3L1533.8 808.8Z"/><path d="M1548.3 814.1L1555.8 821.6L1548.3 829.1L1540.8 821.6Z"/><path d="M1555 824.1L1562.5 831.6L1555 839.1L1547.5 831.6Z"/><path d="M1561.6 833.3L1569.1 840.8L1561.6 848.3L1554.1 840.8Z"/><path d="M1568.6 841.6L1576.1 849.1L1568.6 856.6L1561.1 849.1Z"/><path d="M1575.7 849.1L1583.2 856.6L1575.7 864.1L1568.2 856.6Z"/><path d="M1582.4 856.5L1589.9 864L1582.4 871.5L1574.9 864Z"/><path d="M1589.5 863.7L1597 871.2L1589.5 878.7L1582 871.2Z"/><path d="M1596.5 870.7L1604 878.2L1596.5 885.7L1589 878.2Z"/><path d="M1603.2 877.3L1610.7 884.8L1603.2 892.3L1595.7 884.8Z"/><path d="M1610.7 884L1618.2 891.5L1610.7 899L1603.2 891.5Z"/><path d="M1617.3 890.6L1624.8 898.1L1617.3 905.6L1609.8 898.1Z"/><path d="M1624.8 897.3L1632.3 904.8L1624.8 912.3L1617.3 904.8Z"/><path d="M1631.8 903.1L1639.3 910.6L1631.8 918.1L1624.3 910.6Z"/><path d="M1638.9 908.9L1646.4 916.4L1638.9 923.9L1631.4 916.4Z"/><path d="M1645.9 914.8L1653.4 922.3L1645.9 929.8L1638.4 922.3Z"/><path d="M1653.1 920.2L1660.6 927.7L1653.1 935.2L1645.6 927.7Z"/><path d="M1660.1 925.6L1667.6 933.1L1660.1 940.6L1652.6 933.1Z"/><path d="M1667.2 930.6L1674.7 938.1L1667.2 945.6L1659.7 938.1Z"/><path d="M1674.4 935.5L1681.9 943L1674.4 950.5L1666.9 943Z"/><path d="M1681.4 940.2L1688.9 947.7L1681.4 955.2L1673.9 947.7Z"/><path d="M1688.3 944.7L1695.8 952.2L1688.3 959.7L1680.8 952.2Z"/><path d="M1695.5 948.9L1703 956.4L1695.5 963.9L1688 956.4Z"/><path d="M1702.2 953L1709.7 960.5L1702.2 968L1694.7 960.5Z"/><path d="M1709.3 956.8L1716.8 964.3L1709.3 971.8L1701.8 964.3Z"/><path d="M1716.3 960.5L1723.8 968L1716.3 975.5L1708.8 968Z"/><path d="M1722.9 963.8L1730.4 971.3L1722.9 978.8L1715.4 971.3Z"/><path d="M1729.6 966.8L1737.1 974.3L1729.6 981.8L1722.1 974.3Z"/><path d="M1736.3 969.6L1743.8 977.1L1736.3 984.6L1728.8 977.1Z"/><path d="M1742.9 972.1L1750.4 979.6L1742.9 987.1L1735.4 979.6Z"/><path d="M1749.9 974.1L1757.4 981.6L1749.9 989.1L1742.4 981.6Z"/><path d="M1757 976L1764.5 983.5L1757 991L1749.5 983.5Z"/><path d="M1764 977.6L1771.5 985.1L1764 992.6L1756.5 985.1Z"/></g>
</g>
<line x1="1692.2" y1="963.4" x2="1701.3" y2="963.4" stroke="#858585" stroke-width="1.3" />
<line x1="1723.8" y1="963.4" x2="1736.3" y2="963.4" stroke="#858585" stroke-width="1.3" />
<line x1="1968.5" y1="963.4" x2="1987.5" y2="963.4" stroke="#858585" stroke-width="1.3" />
<line x1="1995.6" y1="963.4" x2="2000.7" y2="963.4" stroke="#858585" stroke-width="1.3" />
<line x1="1482.3" y1="1099.9" x2="1482.3" y2="1091.4" stroke="#000" stroke-width="4" />
<text x="1482.3" y="1131.9" font-size="28.5" text-anchor="middle" fill="#000" >0</text>
<line x1="1601.56" y1="1099.9" x2="1601.56" y2="1091.4" stroke="#000" stroke-width="4" />
<text x="1601.56" y="1131.9" font-size="28.5" text-anchor="middle" fill="#000" >200</text>
<line x1="1720.82" y1="1099.9" x2="1720.82" y2="1091.4" stroke="#000" stroke-width="4" />
<text x="1720.82" y="1131.9" font-size="28.5" text-anchor="middle" fill="#000" >400</text>
<line x1="1840.08" y1="1099.9" x2="1840.08" y2="1091.4" stroke="#000" stroke-width="4" />
<text x="1840.08" y="1131.9" font-size="28.5" text-anchor="middle" fill="#000" >600</text>
<line x1="1959.34" y1="1099.9" x2="1959.34" y2="1091.4" stroke="#000" stroke-width="4" />
<text x="1959.34" y="1131.9" font-size="28.5" text-anchor="middle" fill="#000" >800</text>
<line x1="1541.93" y1="1099.9" x2="1541.93" y2="1095.6" stroke="#000" stroke-width="4" />
<line x1="1661.19" y1="1099.9" x2="1661.19" y2="1095.6" stroke="#000" stroke-width="4" />
<line x1="1780.45" y1="1099.9" x2="1780.45" y2="1095.6" stroke="#000" stroke-width="4" />
<line x1="1899.71" y1="1099.9" x2="1899.71" y2="1095.6" stroke="#000" stroke-width="4" />
<line x1="1479.2" y1="692.7" x2="1487.7" y2="692.7" stroke="#000" stroke-width="4" />
<text x="1470" y="701.4" font-size="28.5" text-anchor="end" fill="#000" >100</text>
<line x1="1479.2" y1="800.8" x2="1487.7" y2="800.8" stroke="#000" stroke-width="4" />
<text x="1470" y="809.5" font-size="28.5" text-anchor="end" fill="#000" >80</text>
<line x1="1479.2" y1="908.9" x2="1487.7" y2="908.9" stroke="#000" stroke-width="4" />
<text x="1470" y="917.6" font-size="28.5" text-anchor="end" fill="#000" >60</text>
<line x1="1479.2" y1="1017" x2="1487.7" y2="1017" stroke="#000" stroke-width="4" />
<text x="1470" y="1025.7" font-size="28.5" text-anchor="end" fill="#000" >40</text>
<line x1="1479.2" y1="746.75" x2="1483.5" y2="746.75" stroke="#000" stroke-width="4" />
<line x1="1479.2" y1="854.85" x2="1483.5" y2="854.85" stroke="#000" stroke-width="4" />
<line x1="1479.2" y1="962.95" x2="1483.5" y2="962.95" stroke="#000" stroke-width="4" />
<line x1="1479.2" y1="1071.05" x2="1483.5" y2="1071.05" stroke="#000" stroke-width="4" />
<rect x="1479.2" y="665.7" width="539.8" height="434.2" fill="none" stroke="#000" stroke-width="4.2"/>
<circle cx="1838.6" cy="702" r="9.1" fill="url(#balld2)"/>
<path d="M1838.6 728.9L1846.8 737.1L1838.6 745.3000000000001L1830.3999999999999 737.1Z" fill="#fff" stroke="#0a12c0" stroke-width="4"/>
<text x="1878.6" y="711.8" font-size="28.5" text-anchor="start" fill="#000" >sky-blue</text>
<text x="1878" y="746.5" font-size="28.5" text-anchor="start" fill="#000" >pure-blue</text>
<text x="1505" y="1009.8" font-size="32.6" text-anchor="start" fill="#000" ><tspan font-style="italic">T</tspan><tspan font-style="italic" font-size="21.5" dy="8.3" dx="1">50</tspan><tspan dy="-8.3"> = 845 min</tspan></text>
<text x="1783.3" y="1007.4" font-size="32.6" text-anchor="start" fill="#000" ><tspan font-style="italic">T</tspan><tspan font-style="italic" font-size="21.5" dy="8.3" dx="1">50</tspan><tspan dy="-8.3"> = 392 min</tspan></text>
<text x="1748.6" y="1180.6" font-size="33.3" text-anchor="middle" fill="#000" >Time (min)</text>
<text transform="translate(1410,881.9) rotate(-90)" font-size="33" text-anchor="middle">Luminance (cd m<tspan dy="-12" font-size="21">-2</tspan><tspan dy="12">)</tspan></text>
<text x="1380.6" y="665" font-size="58" text-anchor="start" fill="#000" >d</text></g>
</g>
</svg>
</body></html>
